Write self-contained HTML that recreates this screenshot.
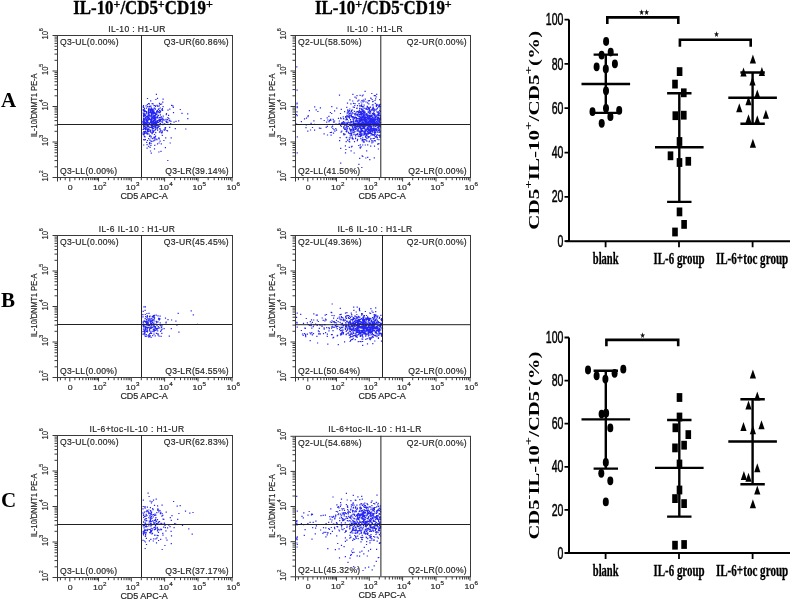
<!DOCTYPE html>
<html><head><meta charset="utf-8"><style>
html,body{margin:0;padding:0;background:#fff;}
svg{display:block;filter:blur(0.4px);}
.fp text{stroke:#262626;stroke-width:0.18px;}
</style></head><body>
<svg width="793" height="601" viewBox="0 0 793 601">
<rect width="793" height="601" fill="#fff"/>
<text x="73.3" y="13.7" font-family="Liberation Serif" font-weight="bold" font-size="18.2" fill="#000" stroke="#000" stroke-width="0.35" textLength="139.5" lengthAdjust="spacingAndGlyphs"><tspan dy="0">IL-10</tspan><tspan font-size="13" dy="-6">+</tspan><tspan dy="6">/CD5</tspan><tspan font-size="13" dy="-6">+</tspan><tspan dy="6">CD19</tspan><tspan font-size="13" dy="-6">+</tspan></text>
<text x="315" y="13.7" font-family="Liberation Serif" font-weight="bold" font-size="18.2" fill="#000" stroke="#000" stroke-width="0.35" textLength="136.7" lengthAdjust="spacingAndGlyphs"><tspan dy="0">IL-10</tspan><tspan font-size="13" dy="-6">+</tspan><tspan dy="6">/CD5</tspan><tspan font-size="13" dy="-6">-</tspan><tspan dy="6">CD19</tspan><tspan font-size="13" dy="-6">+</tspan></text>
<text x="1.00" y="106.60" font-family="Liberation Serif" font-size="21" font-weight="bold" text-anchor="start" fill="#000" >A</text>
<text x="1.00" y="306.60" font-family="Liberation Serif" font-size="21" font-weight="bold" text-anchor="start" fill="#000" >B</text>
<text x="1.00" y="506.60" font-family="Liberation Serif" font-size="21" font-weight="bold" text-anchor="start" fill="#000" >C</text>
<g class="fp">
<path d="M149.3 109.1h1.2v1.2h-1.2zM162.6 115.5h1.2v1.2h-1.2zM161.2 121.2h1.2v1.2h-1.2zM143.9 109.2h1.2v1.2h-1.2zM146.0 115.7h1.2v1.2h-1.2zM143.7 128.1h1.2v1.2h-1.2zM154.7 128.8h1.2v1.2h-1.2zM148.4 128.6h1.2v1.2h-1.2zM156.5 120.3h1.2v1.2h-1.2zM154.1 118.3h1.2v1.2h-1.2zM164.7 128.6h1.2v1.2h-1.2zM148.0 117.0h1.2v1.2h-1.2zM155.8 122.7h1.2v1.2h-1.2zM147.6 130.6h1.2v1.2h-1.2zM145.2 117.1h1.2v1.2h-1.2zM153.6 115.1h1.2v1.2h-1.2zM157.2 119.9h1.2v1.2h-1.2zM147.0 124.8h1.2v1.2h-1.2zM147.5 123.9h1.2v1.2h-1.2zM155.9 121.2h1.2v1.2h-1.2zM144.3 124.5h1.2v1.2h-1.2zM150.7 107.2h1.2v1.2h-1.2zM152.9 113.1h1.2v1.2h-1.2zM142.3 121.3h1.2v1.2h-1.2zM154.8 112.6h1.2v1.2h-1.2zM143.7 109.3h1.2v1.2h-1.2zM144.3 110.3h1.2v1.2h-1.2zM147.5 112.7h1.2v1.2h-1.2zM150.5 118.6h1.2v1.2h-1.2zM149.4 111.8h1.2v1.2h-1.2zM158.0 121.9h1.2v1.2h-1.2zM146.7 133.6h1.2v1.2h-1.2zM143.0 118.8h1.2v1.2h-1.2zM152.8 130.2h1.2v1.2h-1.2zM156.2 122.3h1.2v1.2h-1.2zM146.0 111.0h1.2v1.2h-1.2zM154.4 117.9h1.2v1.2h-1.2zM159.4 112.1h1.2v1.2h-1.2zM146.9 126.1h1.2v1.2h-1.2zM143.7 110.8h1.2v1.2h-1.2zM152.5 130.6h1.2v1.2h-1.2zM151.5 124.6h1.2v1.2h-1.2zM160.0 103.8h1.2v1.2h-1.2zM148.4 126.3h1.2v1.2h-1.2zM142.4 132.4h1.2v1.2h-1.2zM144.0 113.7h1.2v1.2h-1.2zM152.9 127.9h1.2v1.2h-1.2zM150.3 105.6h1.2v1.2h-1.2zM154.3 122.0h1.2v1.2h-1.2zM143.0 106.7h1.2v1.2h-1.2zM162.9 123.9h1.2v1.2h-1.2zM157.2 105.7h1.2v1.2h-1.2zM155.3 98.9h1.2v1.2h-1.2zM153.0 123.2h1.2v1.2h-1.2zM158.6 138.3h1.2v1.2h-1.2zM148.9 115.2h1.2v1.2h-1.2zM155.1 126.6h1.2v1.2h-1.2zM155.0 120.9h1.2v1.2h-1.2zM153.3 117.4h1.2v1.2h-1.2zM152.5 124.9h1.2v1.2h-1.2zM146.5 133.1h1.2v1.2h-1.2zM156.8 110.1h1.2v1.2h-1.2zM144.6 124.5h1.2v1.2h-1.2zM148.8 122.8h1.2v1.2h-1.2zM152.4 108.6h1.2v1.2h-1.2zM144.4 132.9h1.2v1.2h-1.2zM155.0 135.6h1.2v1.2h-1.2zM148.0 112.4h1.2v1.2h-1.2zM153.9 133.9h1.2v1.2h-1.2zM143.8 120.4h1.2v1.2h-1.2zM159.9 118.7h1.2v1.2h-1.2zM155.1 132.0h1.2v1.2h-1.2zM147.2 121.8h1.2v1.2h-1.2zM155.3 122.6h1.2v1.2h-1.2zM161.6 132.1h1.2v1.2h-1.2zM166.9 130.3h1.2v1.2h-1.2zM151.3 127.1h1.2v1.2h-1.2zM157.8 108.8h1.2v1.2h-1.2zM153.7 107.4h1.2v1.2h-1.2zM148.1 129.0h1.2v1.2h-1.2zM145.7 112.6h1.2v1.2h-1.2zM161.6 121.2h1.2v1.2h-1.2zM148.2 111.4h1.2v1.2h-1.2zM154.7 118.5h1.2v1.2h-1.2zM162.0 109.8h1.2v1.2h-1.2zM151.6 133.0h1.2v1.2h-1.2zM146.0 111.8h1.2v1.2h-1.2zM148.7 119.0h1.2v1.2h-1.2zM151.4 118.5h1.2v1.2h-1.2zM164.1 129.6h1.2v1.2h-1.2zM169.2 108.6h1.2v1.2h-1.2zM153.4 119.7h1.2v1.2h-1.2zM143.3 118.3h1.2v1.2h-1.2zM156.0 124.2h1.2v1.2h-1.2zM164.8 123.8h1.2v1.2h-1.2zM153.2 116.3h1.2v1.2h-1.2zM143.1 121.9h1.2v1.2h-1.2zM152.0 117.0h1.2v1.2h-1.2zM148.8 123.7h1.2v1.2h-1.2zM147.0 119.2h1.2v1.2h-1.2zM142.9 114.8h1.2v1.2h-1.2zM152.9 119.8h1.2v1.2h-1.2zM152.1 122.9h1.2v1.2h-1.2zM148.1 138.1h1.2v1.2h-1.2zM146.8 116.1h1.2v1.2h-1.2zM148.4 122.5h1.2v1.2h-1.2zM144.1 131.7h1.2v1.2h-1.2zM161.1 103.4h1.2v1.2h-1.2zM147.1 106.1h1.2v1.2h-1.2zM150.0 110.5h1.2v1.2h-1.2zM162.3 119.1h1.2v1.2h-1.2zM154.3 139.5h1.2v1.2h-1.2zM170.1 123.1h1.2v1.2h-1.2zM149.6 129.7h1.2v1.2h-1.2zM144.4 118.2h1.2v1.2h-1.2zM150.1 100.3h1.2v1.2h-1.2zM162.2 101.5h1.2v1.2h-1.2zM174.7 128.1h1.2v1.2h-1.2zM143.8 121.5h1.2v1.2h-1.2zM142.5 109.6h1.2v1.2h-1.2zM155.0 128.9h1.2v1.2h-1.2zM143.9 107.7h1.2v1.2h-1.2zM146.3 129.1h1.2v1.2h-1.2zM145.5 131.6h1.2v1.2h-1.2zM150.9 113.9h1.2v1.2h-1.2zM159.9 111.1h1.2v1.2h-1.2zM149.2 126.8h1.2v1.2h-1.2zM158.2 111.2h1.2v1.2h-1.2zM144.8 126.9h1.2v1.2h-1.2zM152.3 110.4h1.2v1.2h-1.2zM157.0 126.5h1.2v1.2h-1.2zM150.1 120.8h1.2v1.2h-1.2zM157.0 116.5h1.2v1.2h-1.2zM143.1 112.8h1.2v1.2h-1.2zM154.8 121.9h1.2v1.2h-1.2zM154.4 104.9h1.2v1.2h-1.2zM162.2 117.8h1.2v1.2h-1.2zM157.1 116.8h1.2v1.2h-1.2zM159.2 125.4h1.2v1.2h-1.2zM147.9 110.0h1.2v1.2h-1.2zM142.6 133.7h1.2v1.2h-1.2zM142.9 117.5h1.2v1.2h-1.2zM144.1 110.9h1.2v1.2h-1.2zM146.9 131.1h1.2v1.2h-1.2zM143.5 133.3h1.2v1.2h-1.2zM148.1 118.5h1.2v1.2h-1.2zM151.5 112.9h1.2v1.2h-1.2zM145.6 120.1h1.2v1.2h-1.2zM154.8 114.5h1.2v1.2h-1.2zM148.3 117.5h1.2v1.2h-1.2zM151.3 132.5h1.2v1.2h-1.2zM159.8 123.1h1.2v1.2h-1.2zM154.8 121.2h1.2v1.2h-1.2zM142.6 122.8h1.2v1.2h-1.2zM142.8 119.5h1.2v1.2h-1.2zM169.1 126.7h1.2v1.2h-1.2zM156.6 127.0h1.2v1.2h-1.2zM167.3 117.0h1.2v1.2h-1.2zM170.3 120.8h1.2v1.2h-1.2zM143.8 139.3h1.2v1.2h-1.2zM152.9 123.4h1.2v1.2h-1.2zM153.6 118.5h1.2v1.2h-1.2zM154.6 136.4h1.2v1.2h-1.2zM154.4 120.1h1.2v1.2h-1.2zM151.0 111.2h1.2v1.2h-1.2zM150.7 125.4h1.2v1.2h-1.2zM150.6 112.8h1.2v1.2h-1.2zM147.3 116.0h1.2v1.2h-1.2zM143.1 122.6h1.2v1.2h-1.2zM150.3 119.0h1.2v1.2h-1.2zM144.3 113.9h1.2v1.2h-1.2zM155.2 115.6h1.2v1.2h-1.2zM157.2 115.3h1.2v1.2h-1.2zM152.1 129.3h1.2v1.2h-1.2zM152.2 114.2h1.2v1.2h-1.2zM149.9 115.4h1.2v1.2h-1.2zM144.5 136.3h1.2v1.2h-1.2zM147.4 115.6h1.2v1.2h-1.2zM144.0 131.9h1.2v1.2h-1.2zM152.9 130.5h1.2v1.2h-1.2zM149.1 118.8h1.2v1.2h-1.2zM154.8 108.6h1.2v1.2h-1.2zM148.9 123.6h1.2v1.2h-1.2zM157.9 125.4h1.2v1.2h-1.2zM143.2 127.7h1.2v1.2h-1.2zM142.9 120.6h1.2v1.2h-1.2zM147.0 129.6h1.2v1.2h-1.2zM143.4 131.1h1.2v1.2h-1.2zM151.9 111.6h1.2v1.2h-1.2zM143.3 131.4h1.2v1.2h-1.2zM146.3 121.4h1.2v1.2h-1.2zM144.1 115.5h1.2v1.2h-1.2zM162.1 117.5h1.2v1.2h-1.2zM149.4 135.0h1.2v1.2h-1.2zM147.3 127.9h1.2v1.2h-1.2zM149.1 105.7h1.2v1.2h-1.2zM151.2 120.7h1.2v1.2h-1.2zM166.9 118.9h1.2v1.2h-1.2zM150.8 118.6h1.2v1.2h-1.2zM153.8 115.9h1.2v1.2h-1.2zM154.4 108.3h1.2v1.2h-1.2zM150.1 126.9h1.2v1.2h-1.2zM152.0 112.5h1.2v1.2h-1.2zM159.0 117.0h1.2v1.2h-1.2zM153.7 115.2h1.2v1.2h-1.2zM151.6 114.2h1.2v1.2h-1.2zM158.5 125.9h1.2v1.2h-1.2zM150.6 123.1h1.2v1.2h-1.2zM152.4 114.6h1.2v1.2h-1.2zM147.7 112.4h1.2v1.2h-1.2zM155.3 116.2h1.2v1.2h-1.2zM145.0 127.7h1.2v1.2h-1.2zM156.9 121.0h1.2v1.2h-1.2zM143.9 121.9h1.2v1.2h-1.2zM146.5 117.4h1.2v1.2h-1.2zM152.7 117.9h1.2v1.2h-1.2zM165.9 121.7h1.2v1.2h-1.2zM158.6 105.3h1.2v1.2h-1.2zM143.8 132.9h1.2v1.2h-1.2zM156.0 113.7h1.2v1.2h-1.2zM144.5 115.5h1.2v1.2h-1.2zM147.8 130.7h1.2v1.2h-1.2zM149.9 121.8h1.2v1.2h-1.2zM158.8 120.3h1.2v1.2h-1.2zM150.9 115.3h1.2v1.2h-1.2zM145.9 107.5h1.2v1.2h-1.2zM142.6 121.5h1.2v1.2h-1.2zM150.3 129.6h1.2v1.2h-1.2zM150.8 112.8h1.2v1.2h-1.2zM145.0 130.9h1.2v1.2h-1.2zM157.3 111.0h1.2v1.2h-1.2zM165.7 114.1h1.2v1.2h-1.2zM148.7 124.0h1.2v1.2h-1.2zM159.9 120.0h1.2v1.2h-1.2zM146.4 125.5h1.2v1.2h-1.2zM154.7 114.1h1.2v1.2h-1.2zM150.5 111.7h1.2v1.2h-1.2zM153.5 105.1h1.2v1.2h-1.2zM144.7 110.4h1.2v1.2h-1.2zM152.0 111.4h1.2v1.2h-1.2zM154.7 108.6h1.2v1.2h-1.2zM144.2 122.5h1.2v1.2h-1.2zM150.4 114.7h1.2v1.2h-1.2zM146.8 104.1h1.2v1.2h-1.2zM146.9 139.9h1.2v1.2h-1.2zM145.5 113.3h1.2v1.2h-1.2zM158.9 110.0h1.2v1.2h-1.2zM166.3 129.9h1.2v1.2h-1.2zM144.8 129.3h1.2v1.2h-1.2zM156.0 110.8h1.2v1.2h-1.2zM158.4 108.2h1.2v1.2h-1.2zM156.1 112.0h1.2v1.2h-1.2zM159.5 129.0h1.2v1.2h-1.2zM145.1 117.5h1.2v1.2h-1.2zM156.4 113.5h1.2v1.2h-1.2zM169.2 119.8h1.2v1.2h-1.2zM157.0 129.6h1.2v1.2h-1.2zM142.8 108.9h1.2v1.2h-1.2zM155.1 116.9h1.2v1.2h-1.2zM161.6 108.9h1.2v1.2h-1.2zM152.7 137.4h1.2v1.2h-1.2zM143.4 134.5h1.2v1.2h-1.2zM164.4 127.6h1.2v1.2h-1.2zM148.1 118.9h1.2v1.2h-1.2zM154.0 125.3h1.2v1.2h-1.2zM148.8 103.2h1.2v1.2h-1.2zM147.5 122.2h1.2v1.2h-1.2zM161.2 109.3h1.2v1.2h-1.2zM152.5 109.4h1.2v1.2h-1.2zM147.3 114.4h1.2v1.2h-1.2zM155.0 117.2h1.2v1.2h-1.2zM144.7 124.6h1.2v1.2h-1.2zM154.6 125.6h1.2v1.2h-1.2zM142.5 122.1h1.2v1.2h-1.2zM151.6 112.4h1.2v1.2h-1.2zM155.4 125.4h1.2v1.2h-1.2zM150.7 119.0h1.2v1.2h-1.2zM149.5 129.4h1.2v1.2h-1.2zM153.7 112.7h1.2v1.2h-1.2zM146.9 97.9h1.2v1.2h-1.2zM160.8 116.2h1.2v1.2h-1.2zM150.5 137.2h1.2v1.2h-1.2zM151.9 123.8h1.2v1.2h-1.2zM154.4 118.4h1.2v1.2h-1.2zM146.2 127.1h1.2v1.2h-1.2zM142.7 124.0h1.2v1.2h-1.2zM164.3 123.7h1.2v1.2h-1.2zM152.4 115.9h1.2v1.2h-1.2zM146.2 120.6h1.2v1.2h-1.2zM152.4 121.6h1.2v1.2h-1.2zM144.2 114.9h1.2v1.2h-1.2zM151.8 111.1h1.2v1.2h-1.2zM142.3 121.1h1.2v1.2h-1.2zM151.8 127.7h1.2v1.2h-1.2zM151.4 125.2h1.2v1.2h-1.2zM162.3 124.0h1.2v1.2h-1.2zM143.9 124.0h1.2v1.2h-1.2zM151.4 140.7h1.2v1.2h-1.2zM146.8 122.1h1.2v1.2h-1.2zM145.3 128.3h1.2v1.2h-1.2zM150.5 135.7h1.2v1.2h-1.2zM147.1 120.4h1.2v1.2h-1.2zM153.0 122.1h1.2v1.2h-1.2zM185.2 128.4h1.2v1.2h-1.2zM148.4 133.5h1.2v1.2h-1.2zM152.4 122.5h1.2v1.2h-1.2zM145.9 122.9h1.2v1.2h-1.2zM150.9 120.7h1.2v1.2h-1.2zM153.7 110.4h1.2v1.2h-1.2zM147.1 128.9h1.2v1.2h-1.2zM153.6 118.0h1.2v1.2h-1.2zM148.6 106.2h1.2v1.2h-1.2zM165.4 118.8h1.2v1.2h-1.2zM142.6 106.2h1.2v1.2h-1.2zM150.7 112.0h1.2v1.2h-1.2zM178.1 120.2h1.2v1.2h-1.2zM143.3 112.7h1.2v1.2h-1.2zM144.6 128.6h1.2v1.2h-1.2zM148.6 108.3h1.2v1.2h-1.2zM148.6 122.2h1.2v1.2h-1.2zM157.4 124.5h1.2v1.2h-1.2zM150.3 131.7h1.2v1.2h-1.2zM143.2 127.4h1.2v1.2h-1.2zM151.1 121.9h1.2v1.2h-1.2zM175.4 120.7h1.2v1.2h-1.2zM161.7 119.6h1.2v1.2h-1.2zM163.4 129.2h1.2v1.2h-1.2zM147.6 114.8h1.2v1.2h-1.2zM144.4 124.2h1.2v1.2h-1.2zM155.2 119.3h1.2v1.2h-1.2zM147.3 122.0h1.2v1.2h-1.2zM168.3 118.0h1.2v1.2h-1.2zM158.3 137.2h1.2v1.2h-1.2zM157.9 114.8h1.2v1.2h-1.2zM150.9 122.1h1.2v1.2h-1.2zM148.6 122.3h1.2v1.2h-1.2zM152.4 125.0h1.2v1.2h-1.2zM162.0 123.7h1.2v1.2h-1.2zM154.3 123.5h1.2v1.2h-1.2zM145.5 127.9h1.2v1.2h-1.2zM161.8 108.1h1.2v1.2h-1.2zM150.9 120.2h1.2v1.2h-1.2zM148.2 110.2h1.2v1.2h-1.2zM143.5 122.0h1.2v1.2h-1.2zM143.3 110.6h1.2v1.2h-1.2zM142.6 112.4h1.2v1.2h-1.2zM163.5 119.6h1.2v1.2h-1.2zM159.2 131.3h1.2v1.2h-1.2zM154.7 124.7h1.2v1.2h-1.2zM146.9 122.5h1.2v1.2h-1.2zM159.5 131.3h1.2v1.2h-1.2zM153.4 112.5h1.2v1.2h-1.2zM152.7 103.4h1.2v1.2h-1.2zM160.3 116.7h1.2v1.2h-1.2zM146.7 117.9h1.2v1.2h-1.2zM154.3 130.0h1.2v1.2h-1.2zM165.1 137.2h1.2v1.2h-1.2zM167.4 109.5h1.2v1.2h-1.2zM163.3 139.9h1.2v1.2h-1.2zM147.2 132.6h1.2v1.2h-1.2zM157.6 126.8h1.2v1.2h-1.2zM154.7 123.1h1.2v1.2h-1.2zM149.3 139.5h1.2v1.2h-1.2zM158.6 120.8h1.2v1.2h-1.2zM147.7 116.3h1.2v1.2h-1.2zM151.2 121.2h1.2v1.2h-1.2zM150.6 109.2h1.2v1.2h-1.2zM153.5 123.9h1.2v1.2h-1.2zM144.6 119.2h1.2v1.2h-1.2zM152.5 122.8h1.2v1.2h-1.2zM153.6 123.0h1.2v1.2h-1.2zM147.8 111.6h1.2v1.2h-1.2zM152.2 130.6h1.2v1.2h-1.2zM148.9 112.0h1.2v1.2h-1.2zM156.6 127.2h1.2v1.2h-1.2zM154.0 107.4h1.2v1.2h-1.2zM143.5 123.1h1.2v1.2h-1.2zM143.1 113.6h1.2v1.2h-1.2zM166.4 120.5h1.2v1.2h-1.2zM148.0 114.9h1.2v1.2h-1.2zM158.9 102.7h1.2v1.2h-1.2zM152.9 111.2h1.2v1.2h-1.2zM143.4 120.7h1.2v1.2h-1.2zM143.1 125.1h1.2v1.2h-1.2zM150.2 108.4h1.2v1.2h-1.2zM151.6 103.1h1.2v1.2h-1.2zM155.1 113.1h1.2v1.2h-1.2zM148.3 118.4h1.2v1.2h-1.2zM143.1 115.1h1.2v1.2h-1.2zM148.1 113.6h1.2v1.2h-1.2zM165.0 126.9h1.2v1.2h-1.2zM159.2 127.9h1.2v1.2h-1.2zM153.4 126.1h1.2v1.2h-1.2zM143.6 112.6h1.2v1.2h-1.2zM153.3 120.7h1.2v1.2h-1.2zM144.1 118.6h1.2v1.2h-1.2zM152.6 108.7h1.2v1.2h-1.2zM164.6 127.2h1.2v1.2h-1.2zM152.5 120.8h1.2v1.2h-1.2zM153.3 116.2h1.2v1.2h-1.2zM152.7 131.5h1.2v1.2h-1.2zM143.1 126.2h1.2v1.2h-1.2zM154.4 127.0h1.2v1.2h-1.2zM146.9 129.7h1.2v1.2h-1.2zM143.7 125.9h1.2v1.2h-1.2zM148.6 110.0h1.2v1.2h-1.2zM146.7 117.0h1.2v1.2h-1.2zM156.5 128.1h1.2v1.2h-1.2zM148.6 114.0h1.2v1.2h-1.2zM143.7 120.4h1.2v1.2h-1.2zM163.6 123.3h1.2v1.2h-1.2zM158.9 131.6h1.2v1.2h-1.2zM161.7 130.5h1.2v1.2h-1.2zM155.1 127.3h1.2v1.2h-1.2zM147.9 118.6h1.2v1.2h-1.2zM144.8 127.4h1.2v1.2h-1.2zM146.2 124.3h1.2v1.2h-1.2zM158.5 118.8h1.2v1.2h-1.2zM150.1 131.0h1.2v1.2h-1.2zM150.4 124.1h1.2v1.2h-1.2zM148.6 114.1h1.2v1.2h-1.2zM149.8 130.2h1.2v1.2h-1.2zM150.7 118.1h1.2v1.2h-1.2zM147.6 124.9h1.2v1.2h-1.2zM148.2 107.9h1.2v1.2h-1.2zM150.2 119.9h1.2v1.2h-1.2zM148.2 112.5h1.2v1.2h-1.2zM152.2 112.3h1.2v1.2h-1.2zM156.5 104.8h1.2v1.2h-1.2zM170.6 137.2h1.2v1.2h-1.2zM150.4 118.9h1.2v1.2h-1.2zM167.2 122.0h1.2v1.2h-1.2zM142.5 128.9h1.2v1.2h-1.2zM144.1 119.1h1.2v1.2h-1.2zM147.2 124.2h1.2v1.2h-1.2zM150.1 109.2h1.2v1.2h-1.2zM162.0 121.6h1.2v1.2h-1.2zM153.9 116.8h1.2v1.2h-1.2zM143.1 124.1h1.2v1.2h-1.2zM146.2 121.5h1.2v1.2h-1.2zM150.8 109.0h1.2v1.2h-1.2zM145.5 105.3h1.2v1.2h-1.2zM158.4 112.0h1.2v1.2h-1.2zM152.8 126.0h1.2v1.2h-1.2zM144.6 123.5h1.2v1.2h-1.2zM150.5 123.3h1.2v1.2h-1.2zM159.5 103.9h1.2v1.2h-1.2zM162.5 98.5h1.2v1.2h-1.2zM144.4 115.1h1.2v1.2h-1.2zM143.0 117.4h1.2v1.2h-1.2zM153.5 115.2h1.2v1.2h-1.2zM145.4 122.9h1.2v1.2h-1.2zM145.9 118.7h1.2v1.2h-1.2zM159.8 110.6h1.2v1.2h-1.2zM165.9 113.0h1.2v1.2h-1.2zM151.7 121.2h1.2v1.2h-1.2zM147.1 120.6h1.2v1.2h-1.2zM154.7 119.4h1.2v1.2h-1.2zM154.5 138.2h1.2v1.2h-1.2zM148.8 117.9h1.2v1.2h-1.2zM146.2 121.0h1.2v1.2h-1.2zM172.9 112.1h1.2v1.2h-1.2zM156.2 117.2h1.2v1.2h-1.2zM150.4 124.2h1.2v1.2h-1.2zM147.1 124.6h1.2v1.2h-1.2zM160.7 118.8h1.2v1.2h-1.2zM156.1 123.2h1.2v1.2h-1.2zM165.3 120.5h1.2v1.2h-1.2zM142.9 105.0h1.2v1.2h-1.2zM155.8 93.8h1.2v1.2h-1.2zM156.2 138.5h1.2v1.2h-1.2zM151.1 126.6h1.2v1.2h-1.2zM158.4 119.5h1.2v1.2h-1.2zM162.5 106.1h1.2v1.2h-1.2zM151.3 109.8h1.2v1.2h-1.2zM148.4 130.8h1.2v1.2h-1.2zM156.9 97.7h1.2v1.2h-1.2zM151.0 117.4h1.2v1.2h-1.2zM149.9 126.9h1.2v1.2h-1.2zM159.5 121.1h1.2v1.2h-1.2zM148.0 126.0h1.2v1.2h-1.2zM158.9 119.0h1.2v1.2h-1.2zM144.8 139.1h1.2v1.2h-1.2zM156.4 111.8h1.2v1.2h-1.2zM147.9 109.1h1.2v1.2h-1.2zM145.3 122.2h1.2v1.2h-1.2zM152.2 131.4h1.2v1.2h-1.2zM147.3 119.6h1.2v1.2h-1.2zM159.5 128.4h1.2v1.2h-1.2zM143.0 115.8h1.2v1.2h-1.2zM152.6 110.5h1.2v1.2h-1.2zM143.1 131.2h1.2v1.2h-1.2zM145.8 132.5h1.2v1.2h-1.2zM160.9 132.3h1.2v1.2h-1.2zM151.2 116.5h1.2v1.2h-1.2zM145.0 110.8h1.2v1.2h-1.2zM148.1 110.6h1.2v1.2h-1.2zM160.6 118.2h1.2v1.2h-1.2zM156.3 124.7h1.2v1.2h-1.2zM145.7 124.1h1.2v1.2h-1.2zM151.4 108.5h1.2v1.2h-1.2zM145.9 121.6h1.2v1.2h-1.2zM145.7 120.1h1.2v1.2h-1.2zM143.9 120.7h1.2v1.2h-1.2zM152.5 119.8h1.2v1.2h-1.2zM152.0 118.4h1.2v1.2h-1.2zM143.1 124.7h1.2v1.2h-1.2zM156.4 121.0h1.2v1.2h-1.2zM156.8 121.8h1.2v1.2h-1.2zM150.7 114.5h1.2v1.2h-1.2zM159.4 123.2h1.2v1.2h-1.2zM146.1 119.0h1.2v1.2h-1.2zM147.9 103.1h1.2v1.2h-1.2zM153.7 123.9h1.2v1.2h-1.2zM148.7 117.9h1.2v1.2h-1.2zM156.9 127.4h1.2v1.2h-1.2zM148.1 118.7h1.2v1.2h-1.2zM163.3 119.2h1.2v1.2h-1.2zM143.4 121.7h1.2v1.2h-1.2zM147.4 119.9h1.2v1.2h-1.2zM149.4 116.4h1.2v1.2h-1.2zM155.0 105.7h1.2v1.2h-1.2zM161.7 134.7h1.2v1.2h-1.2zM159.7 107.4h1.2v1.2h-1.2zM157.3 117.3h1.2v1.2h-1.2zM151.2 125.2h1.2v1.2h-1.2zM143.4 123.0h1.2v1.2h-1.2zM144.4 124.5h1.2v1.2h-1.2zM144.9 126.2h1.2v1.2h-1.2zM160.2 130.1h1.2v1.2h-1.2zM150.8 122.4h1.2v1.2h-1.2zM148.8 143.3h1.2v1.2h-1.2zM153.9 111.9h1.2v1.2h-1.2zM145.1 121.8h1.2v1.2h-1.2zM144.7 117.1h1.2v1.2h-1.2zM144.4 115.6h1.2v1.2h-1.2zM154.0 122.3h1.2v1.2h-1.2zM152.4 131.7h1.2v1.2h-1.2zM154.8 114.3h1.2v1.2h-1.2zM159.8 114.3h1.2v1.2h-1.2zM158.5 142.4h1.2v1.2h-1.2zM156.9 143.2h1.2v1.2h-1.2zM169.6 142.4h1.2v1.2h-1.2zM161.3 131.7h1.2v1.2h-1.2zM154.1 137.4h1.2v1.2h-1.2zM149.0 142.1h1.2v1.2h-1.2zM153.9 148.3h1.2v1.2h-1.2zM150.4 140.5h1.2v1.2h-1.2zM144.9 115.0h1.2v1.2h-1.2zM152.1 138.1h1.2v1.2h-1.2zM150.4 142.8h1.2v1.2h-1.2zM149.9 150.4h1.2v1.2h-1.2zM148.1 145.7h1.2v1.2h-1.2zM167.2 159.9h1.2v1.2h-1.2zM158.3 151.4h1.2v1.2h-1.2zM160.4 150.8h1.2v1.2h-1.2zM146.5 147.5h1.2v1.2h-1.2zM142.8 128.9h1.2v1.2h-1.2zM149.5 146.8h1.2v1.2h-1.2zM154.2 144.8h1.2v1.2h-1.2zM148.9 135.8h1.2v1.2h-1.2zM150.3 144.7h1.2v1.2h-1.2zM160.7 143.3h1.2v1.2h-1.2zM154.7 136.3h1.2v1.2h-1.2zM143.1 139.0h1.2v1.2h-1.2zM148.1 137.9h1.2v1.2h-1.2zM146.1 141.8h1.2v1.2h-1.2zM153.6 136.6h1.2v1.2h-1.2zM143.1 144.4h1.2v1.2h-1.2zM150.4 124.7h1.2v1.2h-1.2zM158.2 137.7h1.2v1.2h-1.2zM152.3 126.5h1.2v1.2h-1.2zM143.8 136.1h1.2v1.2h-1.2zM146.5 144.1h1.2v1.2h-1.2zM153.1 140.2h1.2v1.2h-1.2zM156.3 139.1h1.2v1.2h-1.2zM159.5 140.6h1.2v1.2h-1.2zM150.7 152.6h1.2v1.2h-1.2zM144.5 131.1h1.2v1.2h-1.2zM164.8 147.1h1.2v1.2h-1.2zM179.7 108.9h1.2v1.2h-1.2zM172.3 105.2h1.2v1.2h-1.2zM187.2 118.0h1.2v1.2h-1.2zM171.0 104.7h1.2v1.2h-1.2zM168.6 120.2h1.2v1.2h-1.2zM172.7 106.8h1.2v1.2h-1.2zM173.5 121.6h1.2v1.2h-1.2zM187.1 113.2h1.2v1.2h-1.2zM181.4 112.7h1.2v1.2h-1.2zM168.0 114.8h1.2v1.2h-1.2z" fill="#0000f0" fill-opacity="0.85"/>
<rect x="57.5" y="35.5" width="175" height="142" fill="none" stroke="#3a3a3a" stroke-width="1"/>
<path d="M141.5 35 V177 M57 124.5 H232" stroke="#222" stroke-width="1" fill="none"/>
<path d="M52.5 177.5H57M54.5 166.8H57M54.5 160.6H57M54.5 156.1H57M54.5 152.7H57M54.5 149.9H57M54.5 147.5H57M54.5 145.4H57M54.5 143.6H57M52.5 142.0H57M54.5 131.3H57M54.5 125.1H57M54.5 120.6H57M54.5 117.2H57M54.5 114.4H57M54.5 112.0H57M54.5 109.9H57M54.5 108.1H57M52.5 106.5H57M54.5 95.8H57M54.5 89.6H57M54.5 85.1H57M54.5 81.7H57M54.5 78.9H57M54.5 76.5H57M54.5 74.4H57M54.5 72.6H57M52.5 71.0H57M54.5 60.3H57M54.5 54.1H57M54.5 49.6H57M54.5 46.2H57M54.5 43.4H57M54.5 41.0H57M54.5 38.9H57M54.5 37.1H57M52.5 35.5H57M57.5 177.5V181.5M69.8 177.5V181.5M98.5 177.5V181.5M131.3 177.5V181.5M164.6 177.5V181.5M198.0 177.5V181.5M232.0 177.5V181.5M60.4 177.5V180.2M65.2 177.5V180.2M74.9 177.5V180.2M79.4 177.5V180.2M82.8 177.5V180.2M86.0 177.5V180.2M88.5 177.5V180.2M90.8 177.5V180.2M92.8 177.5V180.2M94.5 177.5V180.2M95.9 177.5V180.2M97.3 177.5V180.2M108.4 177.5V180.2M114.1 177.5V180.2M118.2 177.5V180.2M121.4 177.5V180.2M124.0 177.5V180.2M126.2 177.5V180.2M128.1 177.5V180.2M129.8 177.5V180.2M141.3 177.5V180.2M147.2 177.5V180.2M151.3 177.5V180.2M154.6 177.5V180.2M157.2 177.5V180.2M159.4 177.5V180.2M161.4 177.5V180.2M163.1 177.5V180.2M174.7 177.5V180.2M180.5 177.5V180.2M184.7 177.5V180.2M187.9 177.5V180.2M190.6 177.5V180.2M192.8 177.5V180.2M194.8 177.5V180.2M196.5 177.5V180.2M208.2 177.5V180.2M214.2 177.5V180.2M218.5 177.5V180.2M221.8 177.5V180.2M224.5 177.5V180.2M226.7 177.5V180.2M228.7 177.5V180.2M230.4 177.5V180.2" stroke="#3a3a3a" stroke-width="1" fill="none"/>
<text transform="translate(48.40,177.30) rotate(-90) scale(0.85,1)" font-family="Liberation Sans" fill="#262626" font-size="9" text-anchor="middle">10</text>
<text transform="translate(43.40,173.20) rotate(-90) scale(0.85,1)" font-family="Liberation Sans" fill="#262626" font-size="6.2" text-anchor="start">2</text>
<text transform="translate(48.40,141.80) rotate(-90) scale(0.85,1)" font-family="Liberation Sans" fill="#262626" font-size="9" text-anchor="middle">10</text>
<text transform="translate(43.40,137.70) rotate(-90) scale(0.85,1)" font-family="Liberation Sans" fill="#262626" font-size="6.2" text-anchor="start">3</text>
<text transform="translate(48.40,106.30) rotate(-90) scale(0.85,1)" font-family="Liberation Sans" fill="#262626" font-size="9" text-anchor="middle">10</text>
<text transform="translate(43.40,102.20) rotate(-90) scale(0.85,1)" font-family="Liberation Sans" fill="#262626" font-size="6.2" text-anchor="start">4</text>
<text transform="translate(48.40,70.80) rotate(-90) scale(0.85,1)" font-family="Liberation Sans" fill="#262626" font-size="9" text-anchor="middle">10</text>
<text transform="translate(43.40,66.70) rotate(-90) scale(0.85,1)" font-family="Liberation Sans" fill="#262626" font-size="6.2" text-anchor="start">5</text>
<text transform="translate(48.40,35.30) rotate(-90) scale(0.85,1)" font-family="Liberation Sans" fill="#262626" font-size="9" text-anchor="middle">10</text>
<text transform="translate(43.40,31.20) rotate(-90) scale(0.85,1)" font-family="Liberation Sans" fill="#262626" font-size="6.2" text-anchor="start">6</text>
<text transform="translate(70.20,189.70) scale(1.1,1)" font-family="Liberation Sans" fill="#262626" font-size="8" text-anchor="middle">0</text>
<text transform="translate(97.90,189.70) scale(1.1,1)" font-family="Liberation Sans" fill="#262626" font-size="8" text-anchor="middle">10</text>
<text transform="translate(103.10,186.00) scale(1.1,1)" font-family="Liberation Sans" fill="#262626" font-size="5.7" text-anchor="start">2</text>
<text transform="translate(130.70,189.70) scale(1.1,1)" font-family="Liberation Sans" fill="#262626" font-size="8" text-anchor="middle">10</text>
<text transform="translate(135.90,186.00) scale(1.1,1)" font-family="Liberation Sans" fill="#262626" font-size="5.7" text-anchor="start">3</text>
<text transform="translate(164.00,189.70) scale(1.1,1)" font-family="Liberation Sans" fill="#262626" font-size="8" text-anchor="middle">10</text>
<text transform="translate(169.20,186.00) scale(1.1,1)" font-family="Liberation Sans" fill="#262626" font-size="5.7" text-anchor="start">4</text>
<text transform="translate(197.40,189.70) scale(1.1,1)" font-family="Liberation Sans" fill="#262626" font-size="8" text-anchor="middle">10</text>
<text transform="translate(202.60,186.00) scale(1.1,1)" font-family="Liberation Sans" fill="#262626" font-size="5.7" text-anchor="start">5</text>
<text transform="translate(231.40,189.70) scale(1.1,1)" font-family="Liberation Sans" fill="#262626" font-size="8" text-anchor="middle">10</text>
<text transform="translate(236.60,186.00) scale(1.1,1)" font-family="Liberation Sans" fill="#262626" font-size="5.7" text-anchor="start">6</text>
<text x="144.10" y="198.80" font-family="Liberation Sans" font-size="8.6" font-weight="normal" text-anchor="middle" fill="#262626" textLength="47.4" lengthAdjust="spacingAndGlyphs" >CD5 APC-A</text>
<text transform="translate(36.60,105.30) rotate(-90)" font-family="Liberation Sans" font-size="8.4" font-weight="normal" text-anchor="middle" fill="#262626" textLength="63.5" lengthAdjust="spacingAndGlyphs" >IL-10/DNMT1 PE-A</text>
<text x="137.00" y="31.60" font-family="Liberation Sans" font-size="8.5" font-weight="normal" text-anchor="middle" fill="#262626" letter-spacing="0.4">IL-10 : H1-UR</text>
<text x="60.10" y="44.90" font-family="Liberation Sans" font-size="8.6" font-weight="normal" text-anchor="start" fill="#262626" letter-spacing="0.28">Q3-UL(0.00%)</text>
<text x="229.00" y="44.90" font-family="Liberation Sans" font-size="8.6" font-weight="normal" text-anchor="end" fill="#262626" letter-spacing="0.28">Q3-UR(60.86%)</text>
<text x="60.10" y="173.50" font-family="Liberation Sans" font-size="8.6" font-weight="normal" text-anchor="start" fill="#262626" letter-spacing="0.28">Q3-LL(0.00%)</text>
<text x="229.00" y="173.50" font-family="Liberation Sans" font-size="8.6" font-weight="normal" text-anchor="end" fill="#262626" letter-spacing="0.28">Q3-LR(39.14%)</text>
<path d="M375.8 105.8h1.2v1.2h-1.2zM378.2 134.8h1.2v1.2h-1.2zM374.2 117.2h1.2v1.2h-1.2zM360.8 125.6h1.2v1.2h-1.2zM350.0 120.5h1.2v1.2h-1.2zM332.9 132.5h1.2v1.2h-1.2zM360.4 132.6h1.2v1.2h-1.2zM374.1 132.7h1.2v1.2h-1.2zM369.5 128.9h1.2v1.2h-1.2zM366.4 106.6h1.2v1.2h-1.2zM360.8 105.9h1.2v1.2h-1.2zM357.3 123.9h1.2v1.2h-1.2zM361.6 112.9h1.2v1.2h-1.2zM369.7 126.5h1.2v1.2h-1.2zM343.8 123.6h1.2v1.2h-1.2zM373.7 108.5h1.2v1.2h-1.2zM347.5 112.1h1.2v1.2h-1.2zM363.1 111.1h1.2v1.2h-1.2zM357.4 113.5h1.2v1.2h-1.2zM360.6 120.0h1.2v1.2h-1.2zM352.4 128.5h1.2v1.2h-1.2zM351.1 134.8h1.2v1.2h-1.2zM362.2 112.7h1.2v1.2h-1.2zM351.9 116.6h1.2v1.2h-1.2zM365.5 136.9h1.2v1.2h-1.2zM359.9 130.6h1.2v1.2h-1.2zM357.1 124.2h1.2v1.2h-1.2zM358.3 99.5h1.2v1.2h-1.2zM352.1 112.3h1.2v1.2h-1.2zM335.4 123.5h1.2v1.2h-1.2zM361.8 116.3h1.2v1.2h-1.2zM368.6 141.1h1.2v1.2h-1.2zM346.9 122.8h1.2v1.2h-1.2zM365.0 124.7h1.2v1.2h-1.2zM350.4 111.4h1.2v1.2h-1.2zM364.5 112.0h1.2v1.2h-1.2zM369.2 115.6h1.2v1.2h-1.2zM370.7 116.0h1.2v1.2h-1.2zM370.1 119.7h1.2v1.2h-1.2zM356.5 125.6h1.2v1.2h-1.2zM375.5 124.2h1.2v1.2h-1.2zM359.5 131.6h1.2v1.2h-1.2zM369.1 109.0h1.2v1.2h-1.2zM373.4 124.0h1.2v1.2h-1.2zM361.3 124.3h1.2v1.2h-1.2zM349.5 137.2h1.2v1.2h-1.2zM372.3 119.9h1.2v1.2h-1.2zM351.5 125.1h1.2v1.2h-1.2zM354.2 114.1h1.2v1.2h-1.2zM351.7 126.0h1.2v1.2h-1.2zM375.0 125.8h1.2v1.2h-1.2zM362.9 115.9h1.2v1.2h-1.2zM337.9 117.8h1.2v1.2h-1.2zM373.7 121.7h1.2v1.2h-1.2zM370.3 127.5h1.2v1.2h-1.2zM373.5 110.9h1.2v1.2h-1.2zM358.1 130.5h1.2v1.2h-1.2zM365.8 118.8h1.2v1.2h-1.2zM371.0 140.2h1.2v1.2h-1.2zM375.6 136.0h1.2v1.2h-1.2zM365.3 118.1h1.2v1.2h-1.2zM351.7 116.0h1.2v1.2h-1.2zM373.9 145.6h1.2v1.2h-1.2zM372.3 128.0h1.2v1.2h-1.2zM348.9 127.4h1.2v1.2h-1.2zM360.5 117.9h1.2v1.2h-1.2zM368.1 120.7h1.2v1.2h-1.2zM364.8 129.7h1.2v1.2h-1.2zM371.2 127.9h1.2v1.2h-1.2zM374.4 114.0h1.2v1.2h-1.2zM371.4 133.9h1.2v1.2h-1.2zM363.5 124.9h1.2v1.2h-1.2zM348.7 112.8h1.2v1.2h-1.2zM372.3 131.5h1.2v1.2h-1.2zM378.3 120.3h1.2v1.2h-1.2zM371.4 129.5h1.2v1.2h-1.2zM364.5 116.7h1.2v1.2h-1.2zM364.4 125.5h1.2v1.2h-1.2zM377.8 106.4h1.2v1.2h-1.2zM377.9 125.6h1.2v1.2h-1.2zM368.9 107.4h1.2v1.2h-1.2zM373.4 123.5h1.2v1.2h-1.2zM355.7 97.6h1.2v1.2h-1.2zM371.9 121.4h1.2v1.2h-1.2zM354.9 128.9h1.2v1.2h-1.2zM363.1 126.6h1.2v1.2h-1.2zM363.4 133.5h1.2v1.2h-1.2zM359.2 111.7h1.2v1.2h-1.2zM339.5 137.0h1.2v1.2h-1.2zM354.9 137.4h1.2v1.2h-1.2zM368.8 110.5h1.2v1.2h-1.2zM364.1 114.3h1.2v1.2h-1.2zM360.1 116.5h1.2v1.2h-1.2zM370.0 121.8h1.2v1.2h-1.2zM373.1 123.8h1.2v1.2h-1.2zM375.0 98.3h1.2v1.2h-1.2zM355.1 127.7h1.2v1.2h-1.2zM365.1 119.5h1.2v1.2h-1.2zM360.8 112.2h1.2v1.2h-1.2zM354.3 131.1h1.2v1.2h-1.2zM346.8 118.7h1.2v1.2h-1.2zM363.6 132.9h1.2v1.2h-1.2zM354.3 127.1h1.2v1.2h-1.2zM369.4 118.9h1.2v1.2h-1.2zM363.6 133.2h1.2v1.2h-1.2zM362.1 129.7h1.2v1.2h-1.2zM360.0 117.1h1.2v1.2h-1.2zM372.7 106.5h1.2v1.2h-1.2zM353.5 116.7h1.2v1.2h-1.2zM362.9 127.9h1.2v1.2h-1.2zM355.6 119.7h1.2v1.2h-1.2zM363.3 138.9h1.2v1.2h-1.2zM364.4 124.5h1.2v1.2h-1.2zM378.0 123.8h1.2v1.2h-1.2zM347.8 125.8h1.2v1.2h-1.2zM364.5 113.5h1.2v1.2h-1.2zM375.8 120.8h1.2v1.2h-1.2zM358.7 115.6h1.2v1.2h-1.2zM362.7 99.5h1.2v1.2h-1.2zM354.2 104.9h1.2v1.2h-1.2zM333.4 129.0h1.2v1.2h-1.2zM363.5 117.7h1.2v1.2h-1.2zM378.9 120.8h1.2v1.2h-1.2zM359.2 107.8h1.2v1.2h-1.2zM342.6 116.3h1.2v1.2h-1.2zM368.0 129.4h1.2v1.2h-1.2zM365.7 122.9h1.2v1.2h-1.2zM376.8 117.0h1.2v1.2h-1.2zM375.7 136.6h1.2v1.2h-1.2zM361.6 121.4h1.2v1.2h-1.2zM369.6 118.6h1.2v1.2h-1.2zM343.2 132.9h1.2v1.2h-1.2zM378.2 105.3h1.2v1.2h-1.2zM367.0 127.2h1.2v1.2h-1.2zM377.8 111.3h1.2v1.2h-1.2zM377.5 114.4h1.2v1.2h-1.2zM361.3 115.4h1.2v1.2h-1.2zM363.0 123.2h1.2v1.2h-1.2zM354.3 123.0h1.2v1.2h-1.2zM340.0 124.9h1.2v1.2h-1.2zM363.2 123.9h1.2v1.2h-1.2zM366.6 135.4h1.2v1.2h-1.2zM351.8 138.1h1.2v1.2h-1.2zM373.3 128.7h1.2v1.2h-1.2zM366.0 129.2h1.2v1.2h-1.2zM370.2 118.4h1.2v1.2h-1.2zM355.6 111.4h1.2v1.2h-1.2zM343.6 127.6h1.2v1.2h-1.2zM374.1 122.3h1.2v1.2h-1.2zM372.1 130.2h1.2v1.2h-1.2zM363.5 104.5h1.2v1.2h-1.2zM359.7 147.6h1.2v1.2h-1.2zM361.5 109.8h1.2v1.2h-1.2zM363.2 122.3h1.2v1.2h-1.2zM358.7 131.4h1.2v1.2h-1.2zM340.7 108.7h1.2v1.2h-1.2zM374.2 116.7h1.2v1.2h-1.2zM346.9 102.6h1.2v1.2h-1.2zM360.8 108.3h1.2v1.2h-1.2zM361.1 103.4h1.2v1.2h-1.2zM367.9 123.0h1.2v1.2h-1.2zM345.4 124.8h1.2v1.2h-1.2zM379.3 118.9h1.2v1.2h-1.2zM372.7 134.1h1.2v1.2h-1.2zM374.1 135.3h1.2v1.2h-1.2zM380.0 121.9h1.2v1.2h-1.2zM355.3 119.9h1.2v1.2h-1.2zM327.2 119.4h1.2v1.2h-1.2zM368.8 117.6h1.2v1.2h-1.2zM379.4 134.5h1.2v1.2h-1.2zM378.8 124.3h1.2v1.2h-1.2zM358.5 118.8h1.2v1.2h-1.2zM363.8 119.8h1.2v1.2h-1.2zM368.3 127.2h1.2v1.2h-1.2zM343.2 118.2h1.2v1.2h-1.2zM356.9 125.0h1.2v1.2h-1.2zM357.3 121.7h1.2v1.2h-1.2zM376.1 135.0h1.2v1.2h-1.2zM357.1 133.1h1.2v1.2h-1.2zM376.2 108.4h1.2v1.2h-1.2zM365.1 120.5h1.2v1.2h-1.2zM344.8 128.8h1.2v1.2h-1.2zM368.4 117.7h1.2v1.2h-1.2zM353.3 129.8h1.2v1.2h-1.2zM372.4 125.2h1.2v1.2h-1.2zM374.5 127.7h1.2v1.2h-1.2zM358.6 121.4h1.2v1.2h-1.2zM350.2 124.9h1.2v1.2h-1.2zM377.5 127.0h1.2v1.2h-1.2zM365.8 108.0h1.2v1.2h-1.2zM350.3 113.3h1.2v1.2h-1.2zM352.0 112.3h1.2v1.2h-1.2zM360.3 138.1h1.2v1.2h-1.2zM376.6 124.9h1.2v1.2h-1.2zM361.6 125.6h1.2v1.2h-1.2zM372.9 123.7h1.2v1.2h-1.2zM375.2 117.1h1.2v1.2h-1.2zM379.8 114.9h1.2v1.2h-1.2zM377.7 130.1h1.2v1.2h-1.2zM379.8 118.5h1.2v1.2h-1.2zM345.7 137.1h1.2v1.2h-1.2zM379.7 123.9h1.2v1.2h-1.2zM368.9 122.9h1.2v1.2h-1.2zM363.5 119.9h1.2v1.2h-1.2zM352.0 121.3h1.2v1.2h-1.2zM345.9 122.4h1.2v1.2h-1.2zM351.7 136.6h1.2v1.2h-1.2zM364.7 144.4h1.2v1.2h-1.2zM350.9 111.0h1.2v1.2h-1.2zM355.2 124.5h1.2v1.2h-1.2zM357.6 128.8h1.2v1.2h-1.2zM373.0 113.4h1.2v1.2h-1.2zM361.5 116.0h1.2v1.2h-1.2zM363.2 117.7h1.2v1.2h-1.2zM379.1 99.1h1.2v1.2h-1.2zM361.1 128.3h1.2v1.2h-1.2zM372.2 121.6h1.2v1.2h-1.2zM352.3 121.2h1.2v1.2h-1.2zM368.9 122.9h1.2v1.2h-1.2zM366.4 124.5h1.2v1.2h-1.2zM367.1 144.2h1.2v1.2h-1.2zM359.4 123.8h1.2v1.2h-1.2zM352.6 130.0h1.2v1.2h-1.2zM361.4 117.1h1.2v1.2h-1.2zM359.4 125.5h1.2v1.2h-1.2zM377.4 119.1h1.2v1.2h-1.2zM375.9 120.7h1.2v1.2h-1.2zM350.6 113.5h1.2v1.2h-1.2zM372.5 114.3h1.2v1.2h-1.2zM359.2 126.4h1.2v1.2h-1.2zM370.5 129.2h1.2v1.2h-1.2zM359.2 126.5h1.2v1.2h-1.2zM347.3 115.7h1.2v1.2h-1.2zM377.2 125.1h1.2v1.2h-1.2zM370.4 97.9h1.2v1.2h-1.2zM350.3 131.1h1.2v1.2h-1.2zM342.3 121.8h1.2v1.2h-1.2zM358.6 124.7h1.2v1.2h-1.2zM350.8 133.2h1.2v1.2h-1.2zM360.6 118.1h1.2v1.2h-1.2zM372.4 131.3h1.2v1.2h-1.2zM377.4 118.0h1.2v1.2h-1.2zM360.7 127.4h1.2v1.2h-1.2zM378.5 118.3h1.2v1.2h-1.2zM379.0 125.1h1.2v1.2h-1.2zM359.8 136.0h1.2v1.2h-1.2zM345.0 116.0h1.2v1.2h-1.2zM375.2 116.4h1.2v1.2h-1.2zM372.3 119.1h1.2v1.2h-1.2zM366.7 125.1h1.2v1.2h-1.2zM377.8 148.4h1.2v1.2h-1.2zM374.4 116.7h1.2v1.2h-1.2zM374.7 102.8h1.2v1.2h-1.2zM352.5 116.0h1.2v1.2h-1.2zM367.4 107.2h1.2v1.2h-1.2zM361.8 116.9h1.2v1.2h-1.2zM374.0 122.4h1.2v1.2h-1.2zM371.8 113.1h1.2v1.2h-1.2zM328.3 115.8h1.2v1.2h-1.2zM378.5 104.5h1.2v1.2h-1.2zM354.2 124.0h1.2v1.2h-1.2zM374.4 115.1h1.2v1.2h-1.2zM359.4 132.6h1.2v1.2h-1.2zM368.1 132.3h1.2v1.2h-1.2zM372.8 114.0h1.2v1.2h-1.2zM367.5 118.8h1.2v1.2h-1.2zM353.7 122.8h1.2v1.2h-1.2zM378.1 129.5h1.2v1.2h-1.2zM369.9 106.4h1.2v1.2h-1.2zM365.0 121.6h1.2v1.2h-1.2zM373.6 140.1h1.2v1.2h-1.2zM358.8 121.5h1.2v1.2h-1.2zM372.2 124.4h1.2v1.2h-1.2zM367.9 122.4h1.2v1.2h-1.2zM369.6 111.0h1.2v1.2h-1.2zM369.4 131.4h1.2v1.2h-1.2zM354.3 124.9h1.2v1.2h-1.2zM351.1 123.9h1.2v1.2h-1.2zM367.8 129.3h1.2v1.2h-1.2zM369.4 129.9h1.2v1.2h-1.2zM378.6 104.3h1.2v1.2h-1.2zM370.6 127.0h1.2v1.2h-1.2zM352.2 116.8h1.2v1.2h-1.2zM371.5 123.9h1.2v1.2h-1.2zM375.2 115.6h1.2v1.2h-1.2zM377.3 114.2h1.2v1.2h-1.2zM369.2 131.5h1.2v1.2h-1.2zM350.6 122.4h1.2v1.2h-1.2zM379.2 119.8h1.2v1.2h-1.2zM356.4 119.7h1.2v1.2h-1.2zM372.1 123.2h1.2v1.2h-1.2zM346.4 122.3h1.2v1.2h-1.2zM374.4 99.9h1.2v1.2h-1.2zM355.8 114.2h1.2v1.2h-1.2zM378.2 120.3h1.2v1.2h-1.2zM373.6 129.6h1.2v1.2h-1.2zM379.3 135.5h1.2v1.2h-1.2zM351.2 113.6h1.2v1.2h-1.2zM353.9 141.0h1.2v1.2h-1.2zM354.8 123.5h1.2v1.2h-1.2zM373.2 127.3h1.2v1.2h-1.2zM369.4 117.5h1.2v1.2h-1.2zM367.1 116.9h1.2v1.2h-1.2zM368.9 136.3h1.2v1.2h-1.2zM372.2 120.6h1.2v1.2h-1.2zM373.0 121.7h1.2v1.2h-1.2zM374.5 133.7h1.2v1.2h-1.2zM364.5 139.1h1.2v1.2h-1.2zM367.6 108.4h1.2v1.2h-1.2zM342.9 120.9h1.2v1.2h-1.2zM349.3 122.6h1.2v1.2h-1.2zM356.8 140.0h1.2v1.2h-1.2zM350.9 146.2h1.2v1.2h-1.2zM367.8 122.3h1.2v1.2h-1.2zM377.6 126.4h1.2v1.2h-1.2zM359.9 131.1h1.2v1.2h-1.2zM359.3 133.8h1.2v1.2h-1.2zM359.0 119.8h1.2v1.2h-1.2zM366.7 131.0h1.2v1.2h-1.2zM358.6 116.2h1.2v1.2h-1.2zM370.2 97.4h1.2v1.2h-1.2zM368.7 109.8h1.2v1.2h-1.2zM369.2 125.0h1.2v1.2h-1.2zM374.2 130.4h1.2v1.2h-1.2zM365.4 101.4h1.2v1.2h-1.2zM366.8 105.8h1.2v1.2h-1.2zM373.8 122.7h1.2v1.2h-1.2zM364.5 90.8h1.2v1.2h-1.2zM374.6 128.3h1.2v1.2h-1.2zM365.7 132.9h1.2v1.2h-1.2zM359.5 94.7h1.2v1.2h-1.2zM359.5 130.4h1.2v1.2h-1.2zM355.2 121.3h1.2v1.2h-1.2zM365.1 136.6h1.2v1.2h-1.2zM357.7 125.8h1.2v1.2h-1.2zM359.9 120.9h1.2v1.2h-1.2zM379.6 124.3h1.2v1.2h-1.2zM363.4 132.1h1.2v1.2h-1.2zM378.7 125.0h1.2v1.2h-1.2zM368.2 123.6h1.2v1.2h-1.2zM375.3 109.5h1.2v1.2h-1.2zM357.6 127.8h1.2v1.2h-1.2zM366.7 123.6h1.2v1.2h-1.2zM363.4 140.8h1.2v1.2h-1.2zM374.9 123.2h1.2v1.2h-1.2zM377.0 122.5h1.2v1.2h-1.2zM367.8 117.3h1.2v1.2h-1.2zM375.2 130.2h1.2v1.2h-1.2zM351.0 121.4h1.2v1.2h-1.2zM354.7 116.6h1.2v1.2h-1.2zM370.1 138.6h1.2v1.2h-1.2zM374.8 140.3h1.2v1.2h-1.2zM360.0 119.0h1.2v1.2h-1.2zM362.7 113.6h1.2v1.2h-1.2zM360.6 134.1h1.2v1.2h-1.2zM362.7 115.4h1.2v1.2h-1.2zM350.5 150.3h1.2v1.2h-1.2zM347.7 122.1h1.2v1.2h-1.2zM363.9 132.6h1.2v1.2h-1.2zM344.0 111.0h1.2v1.2h-1.2zM353.1 123.1h1.2v1.2h-1.2zM356.9 133.8h1.2v1.2h-1.2zM352.2 127.6h1.2v1.2h-1.2zM367.7 118.3h1.2v1.2h-1.2zM359.5 146.8h1.2v1.2h-1.2zM363.8 130.5h1.2v1.2h-1.2zM352.7 121.3h1.2v1.2h-1.2zM355.9 117.7h1.2v1.2h-1.2zM370.9 120.9h1.2v1.2h-1.2zM369.1 136.3h1.2v1.2h-1.2zM359.2 116.1h1.2v1.2h-1.2zM369.1 123.8h1.2v1.2h-1.2zM367.0 115.6h1.2v1.2h-1.2zM366.6 135.4h1.2v1.2h-1.2zM376.2 121.9h1.2v1.2h-1.2zM359.9 131.7h1.2v1.2h-1.2zM369.7 128.9h1.2v1.2h-1.2zM369.7 117.9h1.2v1.2h-1.2zM361.8 130.1h1.2v1.2h-1.2zM350.7 132.4h1.2v1.2h-1.2zM372.9 112.5h1.2v1.2h-1.2zM367.8 130.2h1.2v1.2h-1.2zM365.2 157.4h1.2v1.2h-1.2zM364.9 120.6h1.2v1.2h-1.2zM364.8 129.6h1.2v1.2h-1.2zM353.8 110.7h1.2v1.2h-1.2zM368.1 127.9h1.2v1.2h-1.2zM342.9 117.9h1.2v1.2h-1.2zM364.2 130.8h1.2v1.2h-1.2zM346.6 123.0h1.2v1.2h-1.2zM360.3 112.2h1.2v1.2h-1.2zM373.1 134.0h1.2v1.2h-1.2zM361.4 121.4h1.2v1.2h-1.2zM358.7 113.8h1.2v1.2h-1.2zM370.6 124.1h1.2v1.2h-1.2zM361.2 114.2h1.2v1.2h-1.2zM359.5 127.3h1.2v1.2h-1.2zM359.7 122.9h1.2v1.2h-1.2zM377.5 119.9h1.2v1.2h-1.2zM372.4 129.9h1.2v1.2h-1.2zM370.1 111.2h1.2v1.2h-1.2zM350.1 132.8h1.2v1.2h-1.2zM371.8 104.3h1.2v1.2h-1.2zM348.8 138.9h1.2v1.2h-1.2zM370.1 125.2h1.2v1.2h-1.2zM350.9 121.0h1.2v1.2h-1.2zM372.3 116.4h1.2v1.2h-1.2zM344.1 128.7h1.2v1.2h-1.2zM379.0 122.0h1.2v1.2h-1.2zM373.9 121.8h1.2v1.2h-1.2zM343.0 133.4h1.2v1.2h-1.2zM361.4 119.3h1.2v1.2h-1.2zM378.4 121.2h1.2v1.2h-1.2zM377.9 127.6h1.2v1.2h-1.2zM344.4 133.8h1.2v1.2h-1.2zM358.0 122.0h1.2v1.2h-1.2zM350.2 125.0h1.2v1.2h-1.2zM352.0 123.9h1.2v1.2h-1.2zM356.6 130.6h1.2v1.2h-1.2zM373.7 137.8h1.2v1.2h-1.2zM365.8 114.5h1.2v1.2h-1.2zM361.5 122.2h1.2v1.2h-1.2zM360.2 123.0h1.2v1.2h-1.2zM372.2 129.1h1.2v1.2h-1.2zM372.5 137.9h1.2v1.2h-1.2zM353.2 123.3h1.2v1.2h-1.2zM378.2 125.5h1.2v1.2h-1.2zM351.2 134.4h1.2v1.2h-1.2zM360.9 111.5h1.2v1.2h-1.2zM369.6 116.1h1.2v1.2h-1.2zM375.2 119.1h1.2v1.2h-1.2zM360.1 123.4h1.2v1.2h-1.2zM367.7 125.7h1.2v1.2h-1.2zM379.9 118.5h1.2v1.2h-1.2zM371.7 140.3h1.2v1.2h-1.2zM377.7 116.7h1.2v1.2h-1.2zM376.7 121.5h1.2v1.2h-1.2zM367.3 133.9h1.2v1.2h-1.2zM371.8 130.9h1.2v1.2h-1.2zM375.2 123.3h1.2v1.2h-1.2zM363.9 127.1h1.2v1.2h-1.2zM376.6 131.3h1.2v1.2h-1.2zM340.4 123.3h1.2v1.2h-1.2zM353.2 129.7h1.2v1.2h-1.2zM378.5 114.6h1.2v1.2h-1.2zM369.3 124.1h1.2v1.2h-1.2zM356.5 107.6h1.2v1.2h-1.2zM368.8 114.8h1.2v1.2h-1.2zM377.3 112.4h1.2v1.2h-1.2zM357.5 135.4h1.2v1.2h-1.2zM373.4 118.9h1.2v1.2h-1.2zM362.8 126.2h1.2v1.2h-1.2zM362.9 114.4h1.2v1.2h-1.2zM363.4 121.4h1.2v1.2h-1.2zM377.6 120.6h1.2v1.2h-1.2zM350.8 115.1h1.2v1.2h-1.2zM359.8 131.6h1.2v1.2h-1.2zM372.2 107.3h1.2v1.2h-1.2zM349.6 129.3h1.2v1.2h-1.2zM345.3 148.9h1.2v1.2h-1.2zM371.1 115.3h1.2v1.2h-1.2zM364.3 123.5h1.2v1.2h-1.2zM362.5 108.2h1.2v1.2h-1.2zM365.9 122.9h1.2v1.2h-1.2zM352.6 106.4h1.2v1.2h-1.2zM360.8 129.2h1.2v1.2h-1.2zM352.4 118.3h1.2v1.2h-1.2zM359.0 105.2h1.2v1.2h-1.2zM347.2 110.5h1.2v1.2h-1.2zM359.2 107.7h1.2v1.2h-1.2zM377.4 120.2h1.2v1.2h-1.2zM364.5 131.2h1.2v1.2h-1.2zM371.4 119.1h1.2v1.2h-1.2zM358.4 111.5h1.2v1.2h-1.2zM374.0 114.8h1.2v1.2h-1.2zM366.2 123.9h1.2v1.2h-1.2zM349.3 99.2h1.2v1.2h-1.2zM373.5 128.4h1.2v1.2h-1.2zM359.8 126.6h1.2v1.2h-1.2zM371.5 98.9h1.2v1.2h-1.2zM365.9 134.1h1.2v1.2h-1.2zM367.4 106.8h1.2v1.2h-1.2zM365.9 120.5h1.2v1.2h-1.2zM353.4 134.0h1.2v1.2h-1.2zM346.2 106.7h1.2v1.2h-1.2zM375.9 104.6h1.2v1.2h-1.2zM362.6 111.6h1.2v1.2h-1.2zM367.7 112.0h1.2v1.2h-1.2zM358.7 121.1h1.2v1.2h-1.2zM340.0 117.3h1.2v1.2h-1.2zM348.9 117.6h1.2v1.2h-1.2zM379.0 117.7h1.2v1.2h-1.2zM354.8 120.6h1.2v1.2h-1.2zM359.6 114.1h1.2v1.2h-1.2zM346.6 125.6h1.2v1.2h-1.2zM357.9 122.3h1.2v1.2h-1.2zM359.8 112.5h1.2v1.2h-1.2zM361.6 140.1h1.2v1.2h-1.2zM363.3 110.0h1.2v1.2h-1.2zM356.6 129.5h1.2v1.2h-1.2zM357.3 115.2h1.2v1.2h-1.2zM364.0 125.9h1.2v1.2h-1.2zM368.1 127.5h1.2v1.2h-1.2zM362.5 130.8h1.2v1.2h-1.2zM374.9 136.2h1.2v1.2h-1.2zM366.7 114.3h1.2v1.2h-1.2zM366.1 150.2h1.2v1.2h-1.2zM356.3 126.4h1.2v1.2h-1.2zM376.5 114.6h1.2v1.2h-1.2zM351.9 109.4h1.2v1.2h-1.2zM344.8 145.3h1.2v1.2h-1.2zM352.5 138.5h1.2v1.2h-1.2zM371.6 122.4h1.2v1.2h-1.2zM350.4 130.0h1.2v1.2h-1.2zM379.7 135.4h1.2v1.2h-1.2zM363.9 123.6h1.2v1.2h-1.2zM346.0 118.6h1.2v1.2h-1.2zM361.4 122.4h1.2v1.2h-1.2zM374.4 130.8h1.2v1.2h-1.2zM353.8 122.9h1.2v1.2h-1.2zM348.4 110.8h1.2v1.2h-1.2zM370.3 130.0h1.2v1.2h-1.2zM379.8 106.0h1.2v1.2h-1.2zM376.3 115.4h1.2v1.2h-1.2zM360.2 134.8h1.2v1.2h-1.2zM366.4 125.0h1.2v1.2h-1.2zM368.0 125.0h1.2v1.2h-1.2zM378.2 123.8h1.2v1.2h-1.2zM370.1 132.8h1.2v1.2h-1.2zM362.8 122.2h1.2v1.2h-1.2zM379.7 103.8h1.2v1.2h-1.2zM360.0 125.1h1.2v1.2h-1.2zM371.2 92.9h1.2v1.2h-1.2zM352.9 102.8h1.2v1.2h-1.2zM355.0 138.1h1.2v1.2h-1.2zM369.1 132.8h1.2v1.2h-1.2zM353.4 118.2h1.2v1.2h-1.2zM374.8 122.0h1.2v1.2h-1.2zM357.5 123.5h1.2v1.2h-1.2zM365.1 132.4h1.2v1.2h-1.2zM363.1 115.2h1.2v1.2h-1.2zM360.1 114.1h1.2v1.2h-1.2zM365.7 116.6h1.2v1.2h-1.2zM377.1 124.0h1.2v1.2h-1.2zM358.6 125.2h1.2v1.2h-1.2zM349.9 118.9h1.2v1.2h-1.2zM367.7 130.1h1.2v1.2h-1.2zM362.0 112.7h1.2v1.2h-1.2zM353.2 121.9h1.2v1.2h-1.2zM367.6 116.0h1.2v1.2h-1.2zM353.6 112.9h1.2v1.2h-1.2zM363.2 134.6h1.2v1.2h-1.2zM379.0 119.6h1.2v1.2h-1.2zM339.9 112.9h1.2v1.2h-1.2zM367.1 123.1h1.2v1.2h-1.2zM369.5 112.9h1.2v1.2h-1.2zM352.7 128.5h1.2v1.2h-1.2zM370.4 130.9h1.2v1.2h-1.2zM368.4 132.6h1.2v1.2h-1.2zM360.0 112.4h1.2v1.2h-1.2zM378.7 121.3h1.2v1.2h-1.2zM348.5 140.6h1.2v1.2h-1.2zM371.9 120.6h1.2v1.2h-1.2zM361.3 135.0h1.2v1.2h-1.2zM351.5 137.5h1.2v1.2h-1.2zM362.0 109.3h1.2v1.2h-1.2zM359.9 134.5h1.2v1.2h-1.2zM374.0 130.0h1.2v1.2h-1.2zM346.2 131.2h1.2v1.2h-1.2zM361.8 139.1h1.2v1.2h-1.2zM358.7 127.2h1.2v1.2h-1.2zM377.0 123.5h1.2v1.2h-1.2zM350.7 128.7h1.2v1.2h-1.2zM376.8 119.4h1.2v1.2h-1.2zM343.1 127.5h1.2v1.2h-1.2zM368.2 103.2h1.2v1.2h-1.2zM362.5 139.5h1.2v1.2h-1.2zM368.6 117.6h1.2v1.2h-1.2zM355.7 128.0h1.2v1.2h-1.2zM340.7 125.7h1.2v1.2h-1.2zM345.5 123.7h1.2v1.2h-1.2zM379.8 123.8h1.2v1.2h-1.2zM366.6 123.3h1.2v1.2h-1.2zM353.7 106.8h1.2v1.2h-1.2zM374.8 117.4h1.2v1.2h-1.2zM355.1 134.3h1.2v1.2h-1.2zM355.1 112.8h1.2v1.2h-1.2zM349.4 112.5h1.2v1.2h-1.2zM378.1 143.2h1.2v1.2h-1.2zM372.5 134.4h1.2v1.2h-1.2zM352.4 137.9h1.2v1.2h-1.2zM367.4 122.6h1.2v1.2h-1.2zM375.7 125.3h1.2v1.2h-1.2zM370.7 130.1h1.2v1.2h-1.2zM335.2 128.1h1.2v1.2h-1.2zM365.6 121.8h1.2v1.2h-1.2zM371.7 108.5h1.2v1.2h-1.2zM346.2 115.5h1.2v1.2h-1.2zM368.8 108.0h1.2v1.2h-1.2zM366.3 137.9h1.2v1.2h-1.2zM372.6 118.7h1.2v1.2h-1.2zM356.9 120.8h1.2v1.2h-1.2zM368.9 125.3h1.2v1.2h-1.2zM356.6 122.7h1.2v1.2h-1.2zM371.1 127.7h1.2v1.2h-1.2zM365.8 116.5h1.2v1.2h-1.2zM359.3 107.8h1.2v1.2h-1.2zM346.9 139.5h1.2v1.2h-1.2zM376.4 115.6h1.2v1.2h-1.2zM377.2 117.9h1.2v1.2h-1.2zM374.4 114.8h1.2v1.2h-1.2zM355.9 117.1h1.2v1.2h-1.2zM359.7 122.6h1.2v1.2h-1.2zM376.1 129.7h1.2v1.2h-1.2zM372.8 112.2h1.2v1.2h-1.2zM353.6 125.2h1.2v1.2h-1.2zM364.4 115.9h1.2v1.2h-1.2zM365.6 134.0h1.2v1.2h-1.2zM361.5 110.5h1.2v1.2h-1.2zM352.6 123.3h1.2v1.2h-1.2zM378.9 129.3h1.2v1.2h-1.2zM371.0 109.2h1.2v1.2h-1.2zM361.5 123.4h1.2v1.2h-1.2zM345.0 123.7h1.2v1.2h-1.2zM356.9 114.6h1.2v1.2h-1.2zM363.9 120.2h1.2v1.2h-1.2zM374.4 131.9h1.2v1.2h-1.2zM359.5 124.7h1.2v1.2h-1.2zM377.3 118.3h1.2v1.2h-1.2zM365.7 120.3h1.2v1.2h-1.2zM355.0 126.6h1.2v1.2h-1.2zM330.5 134.5h1.2v1.2h-1.2zM349.9 129.9h1.2v1.2h-1.2zM346.1 129.3h1.2v1.2h-1.2zM362.2 137.3h1.2v1.2h-1.2zM368.0 107.4h1.2v1.2h-1.2zM379.3 108.4h1.2v1.2h-1.2zM363.9 100.4h1.2v1.2h-1.2zM350.2 130.2h1.2v1.2h-1.2zM367.7 100.2h1.2v1.2h-1.2zM367.8 121.8h1.2v1.2h-1.2zM360.9 129.4h1.2v1.2h-1.2zM360.9 108.8h1.2v1.2h-1.2zM347.9 115.8h1.2v1.2h-1.2zM371.7 119.6h1.2v1.2h-1.2zM368.6 129.1h1.2v1.2h-1.2zM376.8 107.6h1.2v1.2h-1.2zM377.4 125.2h1.2v1.2h-1.2zM374.6 128.8h1.2v1.2h-1.2zM379.3 123.5h1.2v1.2h-1.2zM360.8 123.6h1.2v1.2h-1.2zM358.9 134.1h1.2v1.2h-1.2zM363.6 124.2h1.2v1.2h-1.2zM349.2 121.9h1.2v1.2h-1.2zM362.5 118.9h1.2v1.2h-1.2zM360.3 128.3h1.2v1.2h-1.2zM372.3 119.3h1.2v1.2h-1.2zM364.1 128.3h1.2v1.2h-1.2zM341.4 123.0h1.2v1.2h-1.2zM364.6 132.9h1.2v1.2h-1.2zM378.7 114.5h1.2v1.2h-1.2zM342.3 122.8h1.2v1.2h-1.2zM355.2 125.4h1.2v1.2h-1.2zM364.5 126.0h1.2v1.2h-1.2zM348.4 132.9h1.2v1.2h-1.2zM357.7 125.8h1.2v1.2h-1.2zM365.0 130.7h1.2v1.2h-1.2zM348.5 140.8h1.2v1.2h-1.2zM367.9 130.1h1.2v1.2h-1.2zM369.3 112.0h1.2v1.2h-1.2zM349.2 108.4h1.2v1.2h-1.2zM364.7 128.4h1.2v1.2h-1.2zM377.4 118.4h1.2v1.2h-1.2zM362.3 124.8h1.2v1.2h-1.2zM369.7 120.4h1.2v1.2h-1.2zM372.2 134.5h1.2v1.2h-1.2zM361.6 133.5h1.2v1.2h-1.2zM376.3 111.3h1.2v1.2h-1.2zM369.1 124.6h1.2v1.2h-1.2zM352.6 119.2h1.2v1.2h-1.2zM370.8 109.6h1.2v1.2h-1.2zM374.9 128.2h1.2v1.2h-1.2zM374.2 120.7h1.2v1.2h-1.2zM356.8 126.2h1.2v1.2h-1.2zM370.1 145.6h1.2v1.2h-1.2zM379.0 134.7h1.2v1.2h-1.2zM367.3 132.5h1.2v1.2h-1.2zM378.8 118.1h1.2v1.2h-1.2zM379.8 110.8h1.2v1.2h-1.2zM364.2 133.9h1.2v1.2h-1.2zM372.5 119.1h1.2v1.2h-1.2zM361.1 122.4h1.2v1.2h-1.2zM377.5 118.4h1.2v1.2h-1.2zM363.6 123.0h1.2v1.2h-1.2zM358.1 144.9h1.2v1.2h-1.2zM364.4 119.0h1.2v1.2h-1.2zM363.8 119.3h1.2v1.2h-1.2zM369.3 123.9h1.2v1.2h-1.2zM370.3 124.7h1.2v1.2h-1.2zM350.7 110.6h1.2v1.2h-1.2zM356.9 105.1h1.2v1.2h-1.2zM369.0 116.4h1.2v1.2h-1.2zM370.5 119.9h1.2v1.2h-1.2zM365.8 114.5h1.2v1.2h-1.2zM363.6 112.4h1.2v1.2h-1.2zM378.2 113.0h1.2v1.2h-1.2zM363.9 118.1h1.2v1.2h-1.2zM373.5 120.7h1.2v1.2h-1.2zM379.1 106.3h1.2v1.2h-1.2zM369.2 116.6h1.2v1.2h-1.2zM343.9 125.2h1.2v1.2h-1.2zM366.0 120.6h1.2v1.2h-1.2zM365.5 108.9h1.2v1.2h-1.2zM369.5 118.4h1.2v1.2h-1.2zM342.9 121.6h1.2v1.2h-1.2zM376.5 129.1h1.2v1.2h-1.2zM363.1 106.3h1.2v1.2h-1.2zM376.1 128.3h1.2v1.2h-1.2zM361.5 117.4h1.2v1.2h-1.2zM367.1 123.7h1.2v1.2h-1.2zM378.6 128.2h1.2v1.2h-1.2zM366.0 113.5h1.2v1.2h-1.2zM377.7 114.1h1.2v1.2h-1.2zM364.1 120.6h1.2v1.2h-1.2zM360.1 128.6h1.2v1.2h-1.2zM362.5 116.5h1.2v1.2h-1.2zM359.0 108.3h1.2v1.2h-1.2zM363.7 115.1h1.2v1.2h-1.2zM378.5 125.3h1.2v1.2h-1.2zM351.1 132.7h1.2v1.2h-1.2zM345.2 116.8h1.2v1.2h-1.2zM364.9 118.6h1.2v1.2h-1.2zM374.6 119.9h1.2v1.2h-1.2zM377.7 120.3h1.2v1.2h-1.2zM379.0 112.6h1.2v1.2h-1.2zM379.8 117.4h1.2v1.2h-1.2zM356.4 123.6h1.2v1.2h-1.2zM366.6 122.6h1.2v1.2h-1.2zM333.3 121.8h1.2v1.2h-1.2zM357.9 112.1h1.2v1.2h-1.2zM372.5 116.4h1.2v1.2h-1.2zM346.5 114.8h1.2v1.2h-1.2zM340.5 131.5h1.2v1.2h-1.2zM349.7 135.3h1.2v1.2h-1.2zM367.9 124.8h1.2v1.2h-1.2zM379.3 136.7h1.2v1.2h-1.2zM363.7 118.8h1.2v1.2h-1.2zM377.5 118.9h1.2v1.2h-1.2zM347.2 109.3h1.2v1.2h-1.2zM337.5 123.8h1.2v1.2h-1.2zM367.2 117.3h1.2v1.2h-1.2zM378.1 122.5h1.2v1.2h-1.2zM346.0 126.2h1.2v1.2h-1.2zM359.2 119.3h1.2v1.2h-1.2zM360.1 111.0h1.2v1.2h-1.2zM365.9 121.2h1.2v1.2h-1.2zM363.4 121.0h1.2v1.2h-1.2zM371.8 121.9h1.2v1.2h-1.2zM378.3 128.0h1.2v1.2h-1.2zM366.5 119.6h1.2v1.2h-1.2zM374.6 119.1h1.2v1.2h-1.2zM370.4 138.0h1.2v1.2h-1.2zM353.4 131.8h1.2v1.2h-1.2zM353.1 120.8h1.2v1.2h-1.2zM371.8 112.9h1.2v1.2h-1.2zM372.0 117.5h1.2v1.2h-1.2zM367.8 125.3h1.2v1.2h-1.2zM378.9 129.7h1.2v1.2h-1.2zM362.1 144.4h1.2v1.2h-1.2zM376.8 119.5h1.2v1.2h-1.2zM358.3 123.2h1.2v1.2h-1.2zM374.0 118.5h1.2v1.2h-1.2zM370.6 122.6h1.2v1.2h-1.2zM370.6 118.2h1.2v1.2h-1.2zM377.5 111.8h1.2v1.2h-1.2zM378.8 131.5h1.2v1.2h-1.2zM358.8 123.1h1.2v1.2h-1.2zM376.6 134.0h1.2v1.2h-1.2zM345.7 117.2h1.2v1.2h-1.2zM377.9 124.4h1.2v1.2h-1.2zM360.9 128.1h1.2v1.2h-1.2zM372.5 104.3h1.2v1.2h-1.2zM372.3 109.6h1.2v1.2h-1.2zM367.0 129.0h1.2v1.2h-1.2zM376.2 122.9h1.2v1.2h-1.2zM360.8 104.7h1.2v1.2h-1.2zM374.3 115.1h1.2v1.2h-1.2zM363.1 112.1h1.2v1.2h-1.2zM361.3 117.5h1.2v1.2h-1.2zM367.9 136.5h1.2v1.2h-1.2zM365.7 116.7h1.2v1.2h-1.2zM345.6 141.1h1.2v1.2h-1.2zM368.6 119.7h1.2v1.2h-1.2zM368.1 115.2h1.2v1.2h-1.2zM346.1 136.8h1.2v1.2h-1.2zM379.4 131.0h1.2v1.2h-1.2zM366.1 135.1h1.2v1.2h-1.2zM368.9 140.4h1.2v1.2h-1.2zM375.0 132.1h1.2v1.2h-1.2zM355.8 133.7h1.2v1.2h-1.2zM331.2 106.1h1.2v1.2h-1.2zM365.3 114.5h1.2v1.2h-1.2zM369.4 126.4h1.2v1.2h-1.2zM378.5 124.2h1.2v1.2h-1.2zM357.4 129.0h1.2v1.2h-1.2zM363.3 117.8h1.2v1.2h-1.2zM371.3 132.7h1.2v1.2h-1.2zM362.7 141.3h1.2v1.2h-1.2zM363.5 127.8h1.2v1.2h-1.2zM369.6 130.2h1.2v1.2h-1.2zM354.6 127.1h1.2v1.2h-1.2zM374.5 131.1h1.2v1.2h-1.2zM355.4 124.4h1.2v1.2h-1.2zM366.9 117.7h1.2v1.2h-1.2zM362.5 124.3h1.2v1.2h-1.2zM358.0 123.5h1.2v1.2h-1.2zM372.9 108.1h1.2v1.2h-1.2zM378.6 124.6h1.2v1.2h-1.2zM376.0 122.7h1.2v1.2h-1.2zM373.5 124.4h1.2v1.2h-1.2zM361.1 117.3h1.2v1.2h-1.2zM376.8 127.0h1.2v1.2h-1.2zM349.1 128.3h1.2v1.2h-1.2zM367.0 115.8h1.2v1.2h-1.2zM372.7 125.5h1.2v1.2h-1.2zM373.2 129.8h1.2v1.2h-1.2zM352.6 129.4h1.2v1.2h-1.2zM348.4 113.8h1.2v1.2h-1.2zM373.7 112.8h1.2v1.2h-1.2zM360.2 122.6h1.2v1.2h-1.2zM346.6 112.5h1.2v1.2h-1.2zM351.4 145.8h1.2v1.2h-1.2zM366.5 114.7h1.2v1.2h-1.2zM379.6 114.8h1.2v1.2h-1.2zM366.2 128.3h1.2v1.2h-1.2zM379.4 117.8h1.2v1.2h-1.2zM368.9 100.1h1.2v1.2h-1.2zM371.9 120.7h1.2v1.2h-1.2zM378.0 112.8h1.2v1.2h-1.2zM361.6 117.1h1.2v1.2h-1.2zM369.7 106.8h1.2v1.2h-1.2zM361.5 113.4h1.2v1.2h-1.2zM358.5 120.3h1.2v1.2h-1.2zM374.0 121.1h1.2v1.2h-1.2zM356.2 111.3h1.2v1.2h-1.2zM367.0 115.0h1.2v1.2h-1.2zM356.5 113.7h1.2v1.2h-1.2zM365.0 123.0h1.2v1.2h-1.2zM359.7 120.2h1.2v1.2h-1.2zM379.1 109.9h1.2v1.2h-1.2zM366.9 127.6h1.2v1.2h-1.2zM366.9 115.0h1.2v1.2h-1.2zM374.3 125.2h1.2v1.2h-1.2zM331.1 112.9h1.2v1.2h-1.2zM352.4 124.3h1.2v1.2h-1.2zM332.9 120.4h1.2v1.2h-1.2zM365.7 122.0h1.2v1.2h-1.2zM371.0 126.2h1.2v1.2h-1.2zM373.4 125.6h1.2v1.2h-1.2zM368.9 123.0h1.2v1.2h-1.2zM355.2 123.0h1.2v1.2h-1.2zM373.4 109.5h1.2v1.2h-1.2zM369.2 120.8h1.2v1.2h-1.2zM362.4 100.9h1.2v1.2h-1.2zM352.1 100.4h1.2v1.2h-1.2zM370.6 118.5h1.2v1.2h-1.2zM359.6 119.4h1.2v1.2h-1.2zM360.1 135.5h1.2v1.2h-1.2zM367.9 127.7h1.2v1.2h-1.2zM368.0 131.9h1.2v1.2h-1.2zM355.6 118.6h1.2v1.2h-1.2zM379.6 125.6h1.2v1.2h-1.2zM353.4 132.4h1.2v1.2h-1.2zM352.0 126.5h1.2v1.2h-1.2zM369.0 124.9h1.2v1.2h-1.2zM366.9 122.5h1.2v1.2h-1.2zM366.2 113.0h1.2v1.2h-1.2zM360.4 113.2h1.2v1.2h-1.2zM365.8 108.2h1.2v1.2h-1.2zM358.5 125.5h1.2v1.2h-1.2zM345.5 119.1h1.2v1.2h-1.2zM374.1 115.3h1.2v1.2h-1.2zM353.1 125.0h1.2v1.2h-1.2zM362.5 116.3h1.2v1.2h-1.2zM374.0 131.5h1.2v1.2h-1.2zM365.5 139.6h1.2v1.2h-1.2zM361.9 126.0h1.2v1.2h-1.2zM348.4 115.3h1.2v1.2h-1.2zM356.2 107.7h1.2v1.2h-1.2zM366.3 140.6h1.2v1.2h-1.2zM378.5 126.0h1.2v1.2h-1.2zM362.2 110.7h1.2v1.2h-1.2zM348.0 131.8h1.2v1.2h-1.2zM378.9 106.1h1.2v1.2h-1.2zM354.1 117.6h1.2v1.2h-1.2zM362.8 119.6h1.2v1.2h-1.2zM375.7 118.4h1.2v1.2h-1.2zM357.1 111.1h1.2v1.2h-1.2zM359.7 144.3h1.2v1.2h-1.2zM371.0 118.1h1.2v1.2h-1.2zM362.7 125.4h1.2v1.2h-1.2zM368.6 122.1h1.2v1.2h-1.2zM353.8 106.8h1.2v1.2h-1.2zM363.7 116.7h1.2v1.2h-1.2zM352.0 123.8h1.2v1.2h-1.2zM346.4 130.6h1.2v1.2h-1.2zM373.8 118.6h1.2v1.2h-1.2zM370.5 125.3h1.2v1.2h-1.2zM376.1 118.6h1.2v1.2h-1.2zM353.5 127.4h1.2v1.2h-1.2zM364.7 98.6h1.2v1.2h-1.2zM362.6 127.5h1.2v1.2h-1.2zM348.0 116.0h1.2v1.2h-1.2zM371.6 116.4h1.2v1.2h-1.2zM356.4 95.1h1.2v1.2h-1.2zM362.6 111.8h1.2v1.2h-1.2zM346.9 127.6h1.2v1.2h-1.2zM377.0 143.6h1.2v1.2h-1.2zM374.2 115.2h1.2v1.2h-1.2zM369.8 115.6h1.2v1.2h-1.2zM354.1 126.5h1.2v1.2h-1.2zM358.6 124.6h1.2v1.2h-1.2zM379.7 116.3h1.2v1.2h-1.2zM361.7 120.3h1.2v1.2h-1.2zM368.3 118.3h1.2v1.2h-1.2zM366.7 127.7h1.2v1.2h-1.2zM351.6 129.4h1.2v1.2h-1.2zM376.7 138.5h1.2v1.2h-1.2zM341.2 130.6h1.2v1.2h-1.2zM367.7 128.2h1.2v1.2h-1.2zM364.0 123.4h1.2v1.2h-1.2zM345.6 130.8h1.2v1.2h-1.2zM369.0 112.6h1.2v1.2h-1.2zM371.3 142.3h1.2v1.2h-1.2zM365.7 124.6h1.2v1.2h-1.2zM355.1 135.3h1.2v1.2h-1.2zM370.4 114.4h1.2v1.2h-1.2zM378.4 131.7h1.2v1.2h-1.2zM367.7 125.8h1.2v1.2h-1.2zM374.3 120.2h1.2v1.2h-1.2zM375.4 115.7h1.2v1.2h-1.2zM374.3 113.7h1.2v1.2h-1.2zM378.3 139.0h1.2v1.2h-1.2zM357.1 133.5h1.2v1.2h-1.2zM358.8 123.1h1.2v1.2h-1.2zM371.2 123.8h1.2v1.2h-1.2zM371.3 115.1h1.2v1.2h-1.2zM376.8 104.6h1.2v1.2h-1.2zM378.8 105.1h1.2v1.2h-1.2zM367.2 116.2h1.2v1.2h-1.2zM367.7 120.5h1.2v1.2h-1.2zM361.8 110.9h1.2v1.2h-1.2zM360.7 129.5h1.2v1.2h-1.2zM359.7 126.9h1.2v1.2h-1.2zM376.0 123.5h1.2v1.2h-1.2zM359.5 105.3h1.2v1.2h-1.2zM360.9 120.0h1.2v1.2h-1.2zM367.1 121.7h1.2v1.2h-1.2zM359.0 110.0h1.2v1.2h-1.2zM362.5 101.3h1.2v1.2h-1.2zM339.0 140.1h1.2v1.2h-1.2zM369.7 127.9h1.2v1.2h-1.2zM361.6 118.3h1.2v1.2h-1.2zM367.6 137.1h1.2v1.2h-1.2zM369.7 132.5h1.2v1.2h-1.2zM343.1 126.2h1.2v1.2h-1.2zM365.7 124.1h1.2v1.2h-1.2zM367.4 129.4h1.2v1.2h-1.2zM367.8 135.9h1.2v1.2h-1.2zM344.3 122.7h1.2v1.2h-1.2zM373.3 119.8h1.2v1.2h-1.2zM370.9 127.5h1.2v1.2h-1.2zM361.7 95.3h1.2v1.2h-1.2zM369.1 122.8h1.2v1.2h-1.2zM378.3 118.1h1.2v1.2h-1.2zM362.4 121.8h1.2v1.2h-1.2zM355.6 120.2h1.2v1.2h-1.2zM377.5 125.2h1.2v1.2h-1.2zM369.8 123.0h1.2v1.2h-1.2zM364.5 122.6h1.2v1.2h-1.2zM365.7 120.7h1.2v1.2h-1.2zM368.7 126.3h1.2v1.2h-1.2zM364.7 117.2h1.2v1.2h-1.2zM370.0 131.3h1.2v1.2h-1.2zM361.9 106.0h1.2v1.2h-1.2zM369.3 123.9h1.2v1.2h-1.2zM368.5 126.3h1.2v1.2h-1.2zM358.9 109.9h1.2v1.2h-1.2zM363.6 117.9h1.2v1.2h-1.2zM370.4 134.6h1.2v1.2h-1.2zM371.3 120.7h1.2v1.2h-1.2zM373.7 113.6h1.2v1.2h-1.2zM376.1 93.7h1.2v1.2h-1.2zM369.6 125.2h1.2v1.2h-1.2zM372.8 123.0h1.2v1.2h-1.2zM362.0 127.8h1.2v1.2h-1.2zM363.5 141.5h1.2v1.2h-1.2zM379.0 122.0h1.2v1.2h-1.2zM342.8 123.3h1.2v1.2h-1.2zM370.9 115.5h1.2v1.2h-1.2zM355.6 121.4h1.2v1.2h-1.2zM344.2 121.7h1.2v1.2h-1.2zM375.6 129.2h1.2v1.2h-1.2zM345.2 127.3h1.2v1.2h-1.2zM370.6 114.7h1.2v1.2h-1.2zM374.3 117.5h1.2v1.2h-1.2zM376.1 135.1h1.2v1.2h-1.2zM355.1 112.9h1.2v1.2h-1.2zM350.4 129.1h1.2v1.2h-1.2zM348.7 137.4h1.2v1.2h-1.2zM374.5 128.2h1.2v1.2h-1.2zM361.1 124.4h1.2v1.2h-1.2zM365.8 135.0h1.2v1.2h-1.2zM368.8 125.4h1.2v1.2h-1.2zM370.6 121.9h1.2v1.2h-1.2zM372.1 120.1h1.2v1.2h-1.2zM367.1 132.9h1.2v1.2h-1.2zM346.4 128.6h1.2v1.2h-1.2zM376.9 136.7h1.2v1.2h-1.2zM332.6 118.8h1.2v1.2h-1.2zM379.6 119.0h1.2v1.2h-1.2zM358.3 117.9h1.2v1.2h-1.2zM363.2 124.7h1.2v1.2h-1.2zM359.3 115.4h1.2v1.2h-1.2zM361.1 130.8h1.2v1.2h-1.2zM365.2 125.2h1.2v1.2h-1.2zM362.1 112.7h1.2v1.2h-1.2zM352.3 93.8h1.2v1.2h-1.2zM375.7 104.6h1.2v1.2h-1.2zM358.5 135.7h1.2v1.2h-1.2zM378.4 121.4h1.2v1.2h-1.2zM363.6 123.4h1.2v1.2h-1.2zM357.0 118.0h1.2v1.2h-1.2zM370.7 125.7h1.2v1.2h-1.2zM376.1 103.7h1.2v1.2h-1.2zM354.4 103.0h1.2v1.2h-1.2zM362.0 106.4h1.2v1.2h-1.2zM377.4 122.6h1.2v1.2h-1.2zM353.5 128.7h1.2v1.2h-1.2zM355.2 126.5h1.2v1.2h-1.2zM367.4 120.8h1.2v1.2h-1.2zM350.9 109.8h1.2v1.2h-1.2zM335.9 129.5h1.2v1.2h-1.2zM345.4 119.3h1.2v1.2h-1.2zM369.9 121.8h1.2v1.2h-1.2zM373.3 121.3h1.2v1.2h-1.2zM372.6 117.5h1.2v1.2h-1.2zM370.1 115.1h1.2v1.2h-1.2zM350.6 116.3h1.2v1.2h-1.2zM373.6 109.7h1.2v1.2h-1.2zM379.3 124.3h1.2v1.2h-1.2zM357.1 120.3h1.2v1.2h-1.2zM376.8 131.6h1.2v1.2h-1.2zM361.0 104.7h1.2v1.2h-1.2zM367.7 133.1h1.2v1.2h-1.2zM369.9 121.3h1.2v1.2h-1.2zM347.6 120.4h1.2v1.2h-1.2zM376.9 114.3h1.2v1.2h-1.2zM355.2 114.2h1.2v1.2h-1.2zM364.3 107.8h1.2v1.2h-1.2zM359.5 130.5h1.2v1.2h-1.2zM371.0 119.9h1.2v1.2h-1.2zM370.7 128.8h1.2v1.2h-1.2zM365.7 129.8h1.2v1.2h-1.2zM377.6 117.2h1.2v1.2h-1.2zM368.9 119.7h1.2v1.2h-1.2zM360.7 118.7h1.2v1.2h-1.2zM330.9 131.7h1.2v1.2h-1.2zM362.1 123.2h1.2v1.2h-1.2zM362.0 123.6h1.2v1.2h-1.2zM355.0 128.8h1.2v1.2h-1.2zM355.2 121.3h1.2v1.2h-1.2zM372.6 141.4h1.2v1.2h-1.2zM378.0 113.2h1.2v1.2h-1.2zM371.8 133.9h1.2v1.2h-1.2zM379.2 135.3h1.2v1.2h-1.2zM357.0 111.1h1.2v1.2h-1.2zM368.6 130.2h1.2v1.2h-1.2zM349.1 124.7h1.2v1.2h-1.2zM374.3 130.3h1.2v1.2h-1.2zM369.8 110.6h1.2v1.2h-1.2zM358.2 124.3h1.2v1.2h-1.2zM364.2 112.7h1.2v1.2h-1.2zM362.5 118.8h1.2v1.2h-1.2zM357.9 135.5h1.2v1.2h-1.2zM378.7 120.7h1.2v1.2h-1.2zM357.2 100.6h1.2v1.2h-1.2zM375.4 108.7h1.2v1.2h-1.2zM378.2 111.2h1.2v1.2h-1.2zM367.4 131.6h1.2v1.2h-1.2zM361.3 115.4h1.2v1.2h-1.2zM368.1 107.2h1.2v1.2h-1.2zM361.1 132.6h1.2v1.2h-1.2zM370.3 124.4h1.2v1.2h-1.2zM364.1 125.3h1.2v1.2h-1.2zM372.6 114.4h1.2v1.2h-1.2zM364.9 135.6h1.2v1.2h-1.2zM372.6 120.8h1.2v1.2h-1.2zM350.3 103.2h1.2v1.2h-1.2zM364.3 111.2h1.2v1.2h-1.2zM378.0 114.0h1.2v1.2h-1.2zM353.1 120.5h1.2v1.2h-1.2zM357.5 129.3h1.2v1.2h-1.2zM378.0 115.1h1.2v1.2h-1.2zM370.4 116.3h1.2v1.2h-1.2zM378.3 142.9h1.2v1.2h-1.2zM338.7 122.8h1.2v1.2h-1.2zM367.3 117.0h1.2v1.2h-1.2zM350.2 122.3h1.2v1.2h-1.2zM348.8 110.1h1.2v1.2h-1.2zM370.4 127.1h1.2v1.2h-1.2zM379.7 131.2h1.2v1.2h-1.2zM347.5 116.5h1.2v1.2h-1.2zM352.2 131.5h1.2v1.2h-1.2zM358.5 119.2h1.2v1.2h-1.2zM364.0 124.7h1.2v1.2h-1.2zM349.5 115.0h1.2v1.2h-1.2zM367.4 114.4h1.2v1.2h-1.2zM372.5 107.8h1.2v1.2h-1.2zM361.1 124.1h1.2v1.2h-1.2zM359.2 119.3h1.2v1.2h-1.2zM366.6 119.6h1.2v1.2h-1.2zM367.6 111.3h1.2v1.2h-1.2zM359.5 110.9h1.2v1.2h-1.2zM369.6 116.0h1.2v1.2h-1.2zM379.4 126.5h1.2v1.2h-1.2zM351.1 124.9h1.2v1.2h-1.2zM358.3 115.5h1.2v1.2h-1.2zM378.4 124.8h1.2v1.2h-1.2zM357.0 138.7h1.2v1.2h-1.2zM360.2 123.0h1.2v1.2h-1.2zM349.1 141.2h1.2v1.2h-1.2zM356.2 126.1h1.2v1.2h-1.2zM373.6 134.6h1.2v1.2h-1.2zM355.4 117.0h1.2v1.2h-1.2zM349.6 133.2h1.2v1.2h-1.2zM357.7 110.7h1.2v1.2h-1.2zM373.4 124.3h1.2v1.2h-1.2zM367.4 118.8h1.2v1.2h-1.2zM358.5 103.0h1.2v1.2h-1.2zM367.1 109.0h1.2v1.2h-1.2zM370.6 132.7h1.2v1.2h-1.2zM366.7 126.7h1.2v1.2h-1.2zM343.4 134.3h1.2v1.2h-1.2zM368.8 123.8h1.2v1.2h-1.2zM362.6 94.4h1.2v1.2h-1.2zM375.3 124.4h1.2v1.2h-1.2zM348.8 116.6h1.2v1.2h-1.2zM377.8 117.2h1.2v1.2h-1.2zM359.2 117.7h1.2v1.2h-1.2zM330.0 118.8h1.2v1.2h-1.2zM329.8 111.9h1.2v1.2h-1.2zM313.9 123.7h1.2v1.2h-1.2zM313.3 120.2h1.2v1.2h-1.2zM325.6 126.7h1.2v1.2h-1.2zM305.9 117.6h1.2v1.2h-1.2zM334.0 110.3h1.2v1.2h-1.2zM332.3 127.9h1.2v1.2h-1.2zM326.9 134.4h1.2v1.2h-1.2zM314.0 129.5h1.2v1.2h-1.2zM341.1 122.3h1.2v1.2h-1.2zM331.2 126.5h1.2v1.2h-1.2zM336.2 107.5h1.2v1.2h-1.2zM330.2 119.8h1.2v1.2h-1.2zM323.5 133.3h1.2v1.2h-1.2zM311.9 126.9h1.2v1.2h-1.2zM307.6 115.1h1.2v1.2h-1.2zM334.3 130.5h1.2v1.2h-1.2zM326.1 121.6h1.2v1.2h-1.2zM309.9 129.4h1.2v1.2h-1.2zM308.8 110.1h1.2v1.2h-1.2zM320.4 118.0h1.2v1.2h-1.2zM326.7 125.7h1.2v1.2h-1.2zM332.0 125.5h1.2v1.2h-1.2zM320.2 127.8h1.2v1.2h-1.2zM310.5 122.7h1.2v1.2h-1.2zM328.4 121.0h1.2v1.2h-1.2zM305.4 127.0h1.2v1.2h-1.2zM307.2 130.6h1.2v1.2h-1.2zM315.6 109.2h1.2v1.2h-1.2zM323.6 119.9h1.2v1.2h-1.2zM300.8 121.0h1.2v1.2h-1.2zM305.7 124.2h1.2v1.2h-1.2zM329.7 131.9h1.2v1.2h-1.2zM317.3 110.9h1.2v1.2h-1.2zM318.8 127.6h1.2v1.2h-1.2zM319.8 107.2h1.2v1.2h-1.2zM307.4 116.0h1.2v1.2h-1.2zM340.5 118.1h1.2v1.2h-1.2zM338.8 120.4h1.2v1.2h-1.2zM326.6 117.3h1.2v1.2h-1.2zM303.9 118.2h1.2v1.2h-1.2zM328.9 119.7h1.2v1.2h-1.2zM334.0 120.4h1.2v1.2h-1.2zM314.1 106.2h1.2v1.2h-1.2zM340.1 147.7h1.2v1.2h-1.2zM353.6 152.4h1.2v1.2h-1.2zM367.1 156.7h1.2v1.2h-1.2zM373.7 157.3h1.2v1.2h-1.2zM360.5 146.3h1.2v1.2h-1.2zM361.2 166.9h1.2v1.2h-1.2zM348.7 146.7h1.2v1.2h-1.2zM362.2 155.9h1.2v1.2h-1.2zM369.2 159.1h1.2v1.2h-1.2zM361.6 155.2h1.2v1.2h-1.2zM344.9 152.2h1.2v1.2h-1.2zM358.3 163.7h1.2v1.2h-1.2zM359.1 157.7h1.2v1.2h-1.2zM340.1 162.5h1.2v1.2h-1.2zM296.4 103.2h1.2v1.2h-1.2zM296.6 107.1h1.2v1.2h-1.2zM296.6 105.9h1.2v1.2h-1.2zM296.7 136.3h1.2v1.2h-1.2zM296.5 89.6h1.2v1.2h-1.2zM296.6 152.2h1.2v1.2h-1.2zM296.2 66.3h1.2v1.2h-1.2zM296.0 113.9h1.2v1.2h-1.2zM296.5 102.5h1.2v1.2h-1.2zM296.6 115.0h1.2v1.2h-1.2zM296.0 123.6h1.2v1.2h-1.2zM296.4 111.3h1.2v1.2h-1.2zM361.3 99.9h1.2v1.2h-1.2zM354.4 96.6h1.2v1.2h-1.2zM338.9 94.5h1.2v1.2h-1.2zM372.5 100.7h1.2v1.2h-1.2zM374.7 94.9h1.2v1.2h-1.2zM366.9 102.3h1.2v1.2h-1.2zM373.7 95.0h1.2v1.2h-1.2zM375.5 96.2h1.2v1.2h-1.2zM372.1 101.0h1.2v1.2h-1.2zM360.5 101.4h1.2v1.2h-1.2z" fill="#0000f0" fill-opacity="0.85"/>
<rect x="295.5" y="35.5" width="175" height="142" fill="none" stroke="#3a3a3a" stroke-width="1"/>
<path d="M380.8 35 V177 M295 124.5 H470" stroke="#222" stroke-width="1" fill="none"/>
<path d="M290.5 177.5H295M292.5 166.8H295M292.5 160.6H295M292.5 156.1H295M292.5 152.7H295M292.5 149.9H295M292.5 147.5H295M292.5 145.4H295M292.5 143.6H295M290.5 142.0H295M292.5 131.3H295M292.5 125.1H295M292.5 120.6H295M292.5 117.2H295M292.5 114.4H295M292.5 112.0H295M292.5 109.9H295M292.5 108.1H295M290.5 106.5H295M292.5 95.8H295M292.5 89.6H295M292.5 85.1H295M292.5 81.7H295M292.5 78.9H295M292.5 76.5H295M292.5 74.4H295M292.5 72.6H295M290.5 71.0H295M292.5 60.3H295M292.5 54.1H295M292.5 49.6H295M292.5 46.2H295M292.5 43.4H295M292.5 41.0H295M292.5 38.9H295M292.5 37.1H295M290.5 35.5H295M295.5 177.5V181.5M307.8 177.5V181.5M336.5 177.5V181.5M369.3 177.5V181.5M402.6 177.5V181.5M436.0 177.5V181.5M470.0 177.5V181.5M298.4 177.5V180.2M303.2 177.5V180.2M312.9 177.5V180.2M317.4 177.5V180.2M320.8 177.5V180.2M324.0 177.5V180.2M326.5 177.5V180.2M328.8 177.5V180.2M330.8 177.5V180.2M332.5 177.5V180.2M333.9 177.5V180.2M335.3 177.5V180.2M346.4 177.5V180.2M352.1 177.5V180.2M356.2 177.5V180.2M359.4 177.5V180.2M362.0 177.5V180.2M364.2 177.5V180.2M366.1 177.5V180.2M367.8 177.5V180.2M379.3 177.5V180.2M385.2 177.5V180.2M389.3 177.5V180.2M392.6 177.5V180.2M395.2 177.5V180.2M397.4 177.5V180.2M399.4 177.5V180.2M401.1 177.5V180.2M412.7 177.5V180.2M418.5 177.5V180.2M422.7 177.5V180.2M425.9 177.5V180.2M428.6 177.5V180.2M430.8 177.5V180.2M432.8 177.5V180.2M434.5 177.5V180.2M446.2 177.5V180.2M452.2 177.5V180.2M456.5 177.5V180.2M459.8 177.5V180.2M462.5 177.5V180.2M464.7 177.5V180.2M466.7 177.5V180.2M468.4 177.5V180.2" stroke="#3a3a3a" stroke-width="1" fill="none"/>
<text transform="translate(286.40,177.30) rotate(-90) scale(0.85,1)" font-family="Liberation Sans" fill="#262626" font-size="9" text-anchor="middle">10</text>
<text transform="translate(281.40,173.20) rotate(-90) scale(0.85,1)" font-family="Liberation Sans" fill="#262626" font-size="6.2" text-anchor="start">2</text>
<text transform="translate(286.40,141.80) rotate(-90) scale(0.85,1)" font-family="Liberation Sans" fill="#262626" font-size="9" text-anchor="middle">10</text>
<text transform="translate(281.40,137.70) rotate(-90) scale(0.85,1)" font-family="Liberation Sans" fill="#262626" font-size="6.2" text-anchor="start">3</text>
<text transform="translate(286.40,106.30) rotate(-90) scale(0.85,1)" font-family="Liberation Sans" fill="#262626" font-size="9" text-anchor="middle">10</text>
<text transform="translate(281.40,102.20) rotate(-90) scale(0.85,1)" font-family="Liberation Sans" fill="#262626" font-size="6.2" text-anchor="start">4</text>
<text transform="translate(286.40,70.80) rotate(-90) scale(0.85,1)" font-family="Liberation Sans" fill="#262626" font-size="9" text-anchor="middle">10</text>
<text transform="translate(281.40,66.70) rotate(-90) scale(0.85,1)" font-family="Liberation Sans" fill="#262626" font-size="6.2" text-anchor="start">5</text>
<text transform="translate(286.40,35.30) rotate(-90) scale(0.85,1)" font-family="Liberation Sans" fill="#262626" font-size="9" text-anchor="middle">10</text>
<text transform="translate(281.40,31.20) rotate(-90) scale(0.85,1)" font-family="Liberation Sans" fill="#262626" font-size="6.2" text-anchor="start">6</text>
<text transform="translate(308.20,189.70) scale(1.1,1)" font-family="Liberation Sans" fill="#262626" font-size="8" text-anchor="middle">0</text>
<text transform="translate(335.90,189.70) scale(1.1,1)" font-family="Liberation Sans" fill="#262626" font-size="8" text-anchor="middle">10</text>
<text transform="translate(341.10,186.00) scale(1.1,1)" font-family="Liberation Sans" fill="#262626" font-size="5.7" text-anchor="start">2</text>
<text transform="translate(368.70,189.70) scale(1.1,1)" font-family="Liberation Sans" fill="#262626" font-size="8" text-anchor="middle">10</text>
<text transform="translate(373.90,186.00) scale(1.1,1)" font-family="Liberation Sans" fill="#262626" font-size="5.7" text-anchor="start">3</text>
<text transform="translate(402.00,189.70) scale(1.1,1)" font-family="Liberation Sans" fill="#262626" font-size="8" text-anchor="middle">10</text>
<text transform="translate(407.20,186.00) scale(1.1,1)" font-family="Liberation Sans" fill="#262626" font-size="5.7" text-anchor="start">4</text>
<text transform="translate(435.40,189.70) scale(1.1,1)" font-family="Liberation Sans" fill="#262626" font-size="8" text-anchor="middle">10</text>
<text transform="translate(440.60,186.00) scale(1.1,1)" font-family="Liberation Sans" fill="#262626" font-size="5.7" text-anchor="start">5</text>
<text transform="translate(469.40,189.70) scale(1.1,1)" font-family="Liberation Sans" fill="#262626" font-size="8" text-anchor="middle">10</text>
<text transform="translate(474.60,186.00) scale(1.1,1)" font-family="Liberation Sans" fill="#262626" font-size="5.7" text-anchor="start">6</text>
<text x="382.10" y="198.80" font-family="Liberation Sans" font-size="8.6" font-weight="normal" text-anchor="middle" fill="#262626" textLength="47.4" lengthAdjust="spacingAndGlyphs" >CD5 APC-A</text>
<text transform="translate(274.60,105.30) rotate(-90)" font-family="Liberation Sans" font-size="8.4" font-weight="normal" text-anchor="middle" fill="#262626" textLength="63.5" lengthAdjust="spacingAndGlyphs" >IL-10/DNMT1 PE-A</text>
<text x="375.00" y="31.60" font-family="Liberation Sans" font-size="8.5" font-weight="normal" text-anchor="middle" fill="#262626" letter-spacing="0.4">IL-10 : H1-LR</text>
<text x="298.10" y="44.90" font-family="Liberation Sans" font-size="8.6" font-weight="normal" text-anchor="start" fill="#262626" letter-spacing="0.28">Q2-UL(58.50%)</text>
<text x="467.00" y="44.90" font-family="Liberation Sans" font-size="8.6" font-weight="normal" text-anchor="end" fill="#262626" letter-spacing="0.28">Q2-UR(0.00%)</text>
<text x="298.10" y="173.50" font-family="Liberation Sans" font-size="8.6" font-weight="normal" text-anchor="start" fill="#262626" letter-spacing="0.28">Q2-LL(41.50%)</text>
<text x="467.00" y="173.50" font-family="Liberation Sans" font-size="8.6" font-weight="normal" text-anchor="end" fill="#262626" letter-spacing="0.28">Q2-LR(0.00%)</text>
<path d="M146.9 330.8h1.2v1.2h-1.2zM147.3 318.3h1.2v1.2h-1.2zM144.1 330.1h1.2v1.2h-1.2zM153.5 316.1h1.2v1.2h-1.2zM149.8 321.5h1.2v1.2h-1.2zM148.4 319.0h1.2v1.2h-1.2zM158.5 335.5h1.2v1.2h-1.2zM149.7 335.2h1.2v1.2h-1.2zM160.8 329.5h1.2v1.2h-1.2zM157.0 327.9h1.2v1.2h-1.2zM144.6 321.1h1.2v1.2h-1.2zM148.8 335.8h1.2v1.2h-1.2zM142.4 333.6h1.2v1.2h-1.2zM143.2 330.4h1.2v1.2h-1.2zM145.7 323.9h1.2v1.2h-1.2zM152.0 322.3h1.2v1.2h-1.2zM158.9 324.0h1.2v1.2h-1.2zM143.6 333.2h1.2v1.2h-1.2zM153.6 318.5h1.2v1.2h-1.2zM148.4 325.4h1.2v1.2h-1.2zM146.4 335.2h1.2v1.2h-1.2zM157.1 330.3h1.2v1.2h-1.2zM145.3 335.9h1.2v1.2h-1.2zM159.1 327.3h1.2v1.2h-1.2zM145.5 327.4h1.2v1.2h-1.2zM143.8 333.6h1.2v1.2h-1.2zM154.3 328.9h1.2v1.2h-1.2zM148.0 326.9h1.2v1.2h-1.2zM145.8 321.4h1.2v1.2h-1.2zM146.7 315.1h1.2v1.2h-1.2zM148.2 334.3h1.2v1.2h-1.2zM146.1 322.0h1.2v1.2h-1.2zM152.1 319.9h1.2v1.2h-1.2zM147.0 330.3h1.2v1.2h-1.2zM152.3 319.0h1.2v1.2h-1.2zM152.5 316.0h1.2v1.2h-1.2zM144.4 321.1h1.2v1.2h-1.2zM150.3 324.4h1.2v1.2h-1.2zM149.9 326.5h1.2v1.2h-1.2zM156.3 328.1h1.2v1.2h-1.2zM142.4 331.0h1.2v1.2h-1.2zM159.8 324.0h1.2v1.2h-1.2zM145.8 327.1h1.2v1.2h-1.2zM159.7 324.1h1.2v1.2h-1.2zM155.6 320.7h1.2v1.2h-1.2zM144.4 327.4h1.2v1.2h-1.2zM145.8 327.1h1.2v1.2h-1.2zM150.5 336.7h1.2v1.2h-1.2zM156.4 328.7h1.2v1.2h-1.2zM147.3 320.3h1.2v1.2h-1.2zM144.3 328.7h1.2v1.2h-1.2zM153.2 323.2h1.2v1.2h-1.2zM152.1 335.0h1.2v1.2h-1.2zM144.7 313.9h1.2v1.2h-1.2zM143.5 320.6h1.2v1.2h-1.2zM151.7 320.6h1.2v1.2h-1.2zM144.5 325.6h1.2v1.2h-1.2zM150.1 324.0h1.2v1.2h-1.2zM155.6 314.6h1.2v1.2h-1.2zM148.4 312.8h1.2v1.2h-1.2zM157.7 326.0h1.2v1.2h-1.2zM157.6 334.2h1.2v1.2h-1.2zM157.4 334.2h1.2v1.2h-1.2zM159.6 322.3h1.2v1.2h-1.2zM155.1 327.8h1.2v1.2h-1.2zM149.7 319.3h1.2v1.2h-1.2zM159.5 315.6h1.2v1.2h-1.2zM151.0 332.7h1.2v1.2h-1.2zM155.8 329.2h1.2v1.2h-1.2zM147.0 322.7h1.2v1.2h-1.2zM146.3 322.4h1.2v1.2h-1.2zM146.4 330.7h1.2v1.2h-1.2zM161.0 326.9h1.2v1.2h-1.2zM150.5 322.7h1.2v1.2h-1.2zM146.7 326.7h1.2v1.2h-1.2zM146.5 324.8h1.2v1.2h-1.2zM152.0 322.2h1.2v1.2h-1.2zM148.4 320.3h1.2v1.2h-1.2zM149.5 330.8h1.2v1.2h-1.2zM156.1 321.8h1.2v1.2h-1.2zM154.0 317.3h1.2v1.2h-1.2zM148.3 336.5h1.2v1.2h-1.2zM150.0 332.9h1.2v1.2h-1.2zM149.0 328.2h1.2v1.2h-1.2zM154.0 324.4h1.2v1.2h-1.2zM153.8 326.1h1.2v1.2h-1.2zM149.4 315.6h1.2v1.2h-1.2zM143.1 324.7h1.2v1.2h-1.2zM155.0 326.6h1.2v1.2h-1.2zM155.5 323.6h1.2v1.2h-1.2zM144.9 327.6h1.2v1.2h-1.2zM151.4 319.9h1.2v1.2h-1.2zM145.2 326.0h1.2v1.2h-1.2zM153.8 314.8h1.2v1.2h-1.2zM147.9 324.7h1.2v1.2h-1.2zM155.8 320.9h1.2v1.2h-1.2zM142.4 316.3h1.2v1.2h-1.2zM142.6 322.3h1.2v1.2h-1.2zM156.4 324.9h1.2v1.2h-1.2zM145.2 321.0h1.2v1.2h-1.2zM143.9 330.7h1.2v1.2h-1.2zM145.7 320.3h1.2v1.2h-1.2zM153.2 330.7h1.2v1.2h-1.2zM153.2 329.4h1.2v1.2h-1.2zM144.0 320.9h1.2v1.2h-1.2zM145.7 333.9h1.2v1.2h-1.2zM148.9 316.1h1.2v1.2h-1.2zM145.1 328.1h1.2v1.2h-1.2zM143.3 325.2h1.2v1.2h-1.2zM145.1 329.6h1.2v1.2h-1.2zM153.9 314.7h1.2v1.2h-1.2zM146.4 317.1h1.2v1.2h-1.2zM171.0 319.4h1.2v1.2h-1.2zM153.2 324.8h1.2v1.2h-1.2zM142.4 325.2h1.2v1.2h-1.2zM148.2 324.8h1.2v1.2h-1.2zM150.9 323.0h1.2v1.2h-1.2zM151.4 320.1h1.2v1.2h-1.2zM151.7 315.9h1.2v1.2h-1.2zM151.8 321.9h1.2v1.2h-1.2zM147.1 328.0h1.2v1.2h-1.2zM153.4 331.1h1.2v1.2h-1.2zM165.6 321.4h1.2v1.2h-1.2zM144.7 331.4h1.2v1.2h-1.2zM145.1 316.0h1.2v1.2h-1.2zM153.8 329.5h1.2v1.2h-1.2zM158.1 317.7h1.2v1.2h-1.2zM154.7 326.1h1.2v1.2h-1.2zM157.9 318.5h1.2v1.2h-1.2zM147.8 318.4h1.2v1.2h-1.2zM146.3 321.1h1.2v1.2h-1.2zM153.4 333.6h1.2v1.2h-1.2zM153.5 320.3h1.2v1.2h-1.2zM161.5 328.5h1.2v1.2h-1.2zM160.6 325.6h1.2v1.2h-1.2zM151.0 326.5h1.2v1.2h-1.2zM154.4 326.6h1.2v1.2h-1.2zM142.8 328.6h1.2v1.2h-1.2zM153.2 316.9h1.2v1.2h-1.2zM151.3 324.9h1.2v1.2h-1.2zM146.8 326.8h1.2v1.2h-1.2zM145.4 320.9h1.2v1.2h-1.2zM146.7 326.8h1.2v1.2h-1.2zM144.6 318.1h1.2v1.2h-1.2zM146.4 329.2h1.2v1.2h-1.2zM148.4 320.1h1.2v1.2h-1.2zM147.2 322.8h1.2v1.2h-1.2zM149.0 329.6h1.2v1.2h-1.2zM146.9 331.4h1.2v1.2h-1.2zM150.5 321.0h1.2v1.2h-1.2zM147.5 320.5h1.2v1.2h-1.2zM145.8 330.9h1.2v1.2h-1.2zM144.8 306.3h1.2v1.2h-1.2zM149.1 333.1h1.2v1.2h-1.2zM155.8 332.8h1.2v1.2h-1.2zM149.3 317.8h1.2v1.2h-1.2zM144.1 332.1h1.2v1.2h-1.2zM149.4 326.9h1.2v1.2h-1.2zM151.0 327.5h1.2v1.2h-1.2zM144.5 309.8h1.2v1.2h-1.2zM145.0 321.4h1.2v1.2h-1.2zM147.5 323.3h1.2v1.2h-1.2zM145.4 322.0h1.2v1.2h-1.2zM145.9 322.1h1.2v1.2h-1.2zM146.0 322.7h1.2v1.2h-1.2zM143.4 306.3h1.2v1.2h-1.2zM150.0 323.3h1.2v1.2h-1.2zM151.3 320.2h1.2v1.2h-1.2zM146.2 324.0h1.2v1.2h-1.2zM145.2 321.4h1.2v1.2h-1.2zM159.8 324.5h1.2v1.2h-1.2zM153.4 326.4h1.2v1.2h-1.2zM160.5 335.8h1.2v1.2h-1.2zM158.7 319.3h1.2v1.2h-1.2zM144.4 335.3h1.2v1.2h-1.2zM147.4 323.0h1.2v1.2h-1.2zM146.0 318.9h1.2v1.2h-1.2zM157.4 315.3h1.2v1.2h-1.2zM153.8 330.0h1.2v1.2h-1.2zM152.7 314.9h1.2v1.2h-1.2zM153.3 330.3h1.2v1.2h-1.2zM151.7 326.7h1.2v1.2h-1.2zM149.7 320.9h1.2v1.2h-1.2zM150.2 320.3h1.2v1.2h-1.2zM157.7 327.6h1.2v1.2h-1.2zM142.9 325.5h1.2v1.2h-1.2zM144.9 329.2h1.2v1.2h-1.2zM148.0 324.5h1.2v1.2h-1.2zM157.3 321.3h1.2v1.2h-1.2zM149.9 327.9h1.2v1.2h-1.2zM146.4 316.9h1.2v1.2h-1.2zM154.7 329.9h1.2v1.2h-1.2zM148.9 324.9h1.2v1.2h-1.2zM151.7 317.4h1.2v1.2h-1.2zM144.6 318.0h1.2v1.2h-1.2zM153.3 322.4h1.2v1.2h-1.2zM146.3 312.9h1.2v1.2h-1.2zM144.5 333.4h1.2v1.2h-1.2zM151.5 330.7h1.2v1.2h-1.2zM164.9 317.5h1.2v1.2h-1.2zM143.3 323.8h1.2v1.2h-1.2zM148.1 335.3h1.2v1.2h-1.2zM145.0 327.1h1.2v1.2h-1.2zM159.0 318.0h1.2v1.2h-1.2zM142.6 310.7h1.2v1.2h-1.2zM142.3 314.0h1.2v1.2h-1.2zM150.2 332.1h1.2v1.2h-1.2zM143.2 326.5h1.2v1.2h-1.2zM146.8 316.1h1.2v1.2h-1.2zM152.7 329.0h1.2v1.2h-1.2zM147.5 322.2h1.2v1.2h-1.2zM143.7 320.2h1.2v1.2h-1.2zM142.6 321.2h1.2v1.2h-1.2zM145.7 321.5h1.2v1.2h-1.2zM154.6 335.2h1.2v1.2h-1.2zM159.4 318.4h1.2v1.2h-1.2zM147.0 321.9h1.2v1.2h-1.2zM157.3 333.1h1.2v1.2h-1.2zM148.5 334.2h1.2v1.2h-1.2zM150.9 318.2h1.2v1.2h-1.2zM178.3 331.5h1.2v1.2h-1.2zM170.7 328.1h1.2v1.2h-1.2zM150.3 326.6h1.2v1.2h-1.2zM176.3 324.6h1.2v1.2h-1.2zM150.3 326.3h1.2v1.2h-1.2zM167.4 319.0h1.2v1.2h-1.2zM152.9 326.2h1.2v1.2h-1.2zM147.9 322.2h1.2v1.2h-1.2zM168.7 335.6h1.2v1.2h-1.2zM165.4 322.3h1.2v1.2h-1.2zM161.4 325.3h1.2v1.2h-1.2zM163.5 328.1h1.2v1.2h-1.2zM161.2 332.7h1.2v1.2h-1.2zM160.0 330.7h1.2v1.2h-1.2zM153.5 328.1h1.2v1.2h-1.2zM177.6 312.7h1.2v1.2h-1.2zM196.9 323.7h1.2v1.2h-1.2zM175.3 320.6h1.2v1.2h-1.2zM190.6 310.2h1.2v1.2h-1.2zM192.7 314.3h1.2v1.2h-1.2z" fill="#0000f0" fill-opacity="0.85"/>
<rect x="57.5" y="235.5" width="175" height="142" fill="none" stroke="#3a3a3a" stroke-width="1"/>
<path d="M141.5 235 V377 M57 324.5 H232" stroke="#222" stroke-width="1" fill="none"/>
<path d="M52.5 377.5H57M54.5 366.8H57M54.5 360.6H57M54.5 356.1H57M54.5 352.7H57M54.5 349.9H57M54.5 347.5H57M54.5 345.4H57M54.5 343.6H57M52.5 342.0H57M54.5 331.3H57M54.5 325.1H57M54.5 320.6H57M54.5 317.2H57M54.5 314.4H57M54.5 312.0H57M54.5 309.9H57M54.5 308.1H57M52.5 306.5H57M54.5 295.8H57M54.5 289.6H57M54.5 285.1H57M54.5 281.7H57M54.5 278.9H57M54.5 276.5H57M54.5 274.4H57M54.5 272.6H57M52.5 271.0H57M54.5 260.3H57M54.5 254.1H57M54.5 249.6H57M54.5 246.2H57M54.5 243.4H57M54.5 241.0H57M54.5 238.9H57M54.5 237.1H57M52.5 235.5H57M57.5 377.5V381.5M69.8 377.5V381.5M98.5 377.5V381.5M131.3 377.5V381.5M164.6 377.5V381.5M198.0 377.5V381.5M232.0 377.5V381.5M60.4 377.5V380.2M65.2 377.5V380.2M74.9 377.5V380.2M79.4 377.5V380.2M82.8 377.5V380.2M86.0 377.5V380.2M88.5 377.5V380.2M90.8 377.5V380.2M92.8 377.5V380.2M94.5 377.5V380.2M95.9 377.5V380.2M97.3 377.5V380.2M108.4 377.5V380.2M114.1 377.5V380.2M118.2 377.5V380.2M121.4 377.5V380.2M124.0 377.5V380.2M126.2 377.5V380.2M128.1 377.5V380.2M129.8 377.5V380.2M141.3 377.5V380.2M147.2 377.5V380.2M151.3 377.5V380.2M154.6 377.5V380.2M157.2 377.5V380.2M159.4 377.5V380.2M161.4 377.5V380.2M163.1 377.5V380.2M174.7 377.5V380.2M180.5 377.5V380.2M184.7 377.5V380.2M187.9 377.5V380.2M190.6 377.5V380.2M192.8 377.5V380.2M194.8 377.5V380.2M196.5 377.5V380.2M208.2 377.5V380.2M214.2 377.5V380.2M218.5 377.5V380.2M221.8 377.5V380.2M224.5 377.5V380.2M226.7 377.5V380.2M228.7 377.5V380.2M230.4 377.5V380.2" stroke="#3a3a3a" stroke-width="1" fill="none"/>
<text transform="translate(48.40,377.30) rotate(-90) scale(0.85,1)" font-family="Liberation Sans" fill="#262626" font-size="9" text-anchor="middle">10</text>
<text transform="translate(43.40,373.20) rotate(-90) scale(0.85,1)" font-family="Liberation Sans" fill="#262626" font-size="6.2" text-anchor="start">2</text>
<text transform="translate(48.40,341.80) rotate(-90) scale(0.85,1)" font-family="Liberation Sans" fill="#262626" font-size="9" text-anchor="middle">10</text>
<text transform="translate(43.40,337.70) rotate(-90) scale(0.85,1)" font-family="Liberation Sans" fill="#262626" font-size="6.2" text-anchor="start">3</text>
<text transform="translate(48.40,306.30) rotate(-90) scale(0.85,1)" font-family="Liberation Sans" fill="#262626" font-size="9" text-anchor="middle">10</text>
<text transform="translate(43.40,302.20) rotate(-90) scale(0.85,1)" font-family="Liberation Sans" fill="#262626" font-size="6.2" text-anchor="start">4</text>
<text transform="translate(48.40,270.80) rotate(-90) scale(0.85,1)" font-family="Liberation Sans" fill="#262626" font-size="9" text-anchor="middle">10</text>
<text transform="translate(43.40,266.70) rotate(-90) scale(0.85,1)" font-family="Liberation Sans" fill="#262626" font-size="6.2" text-anchor="start">5</text>
<text transform="translate(48.40,235.30) rotate(-90) scale(0.85,1)" font-family="Liberation Sans" fill="#262626" font-size="9" text-anchor="middle">10</text>
<text transform="translate(43.40,231.20) rotate(-90) scale(0.85,1)" font-family="Liberation Sans" fill="#262626" font-size="6.2" text-anchor="start">6</text>
<text transform="translate(70.20,389.70) scale(1.1,1)" font-family="Liberation Sans" fill="#262626" font-size="8" text-anchor="middle">0</text>
<text transform="translate(97.90,389.70) scale(1.1,1)" font-family="Liberation Sans" fill="#262626" font-size="8" text-anchor="middle">10</text>
<text transform="translate(103.10,386.00) scale(1.1,1)" font-family="Liberation Sans" fill="#262626" font-size="5.7" text-anchor="start">2</text>
<text transform="translate(130.70,389.70) scale(1.1,1)" font-family="Liberation Sans" fill="#262626" font-size="8" text-anchor="middle">10</text>
<text transform="translate(135.90,386.00) scale(1.1,1)" font-family="Liberation Sans" fill="#262626" font-size="5.7" text-anchor="start">3</text>
<text transform="translate(164.00,389.70) scale(1.1,1)" font-family="Liberation Sans" fill="#262626" font-size="8" text-anchor="middle">10</text>
<text transform="translate(169.20,386.00) scale(1.1,1)" font-family="Liberation Sans" fill="#262626" font-size="5.7" text-anchor="start">4</text>
<text transform="translate(197.40,389.70) scale(1.1,1)" font-family="Liberation Sans" fill="#262626" font-size="8" text-anchor="middle">10</text>
<text transform="translate(202.60,386.00) scale(1.1,1)" font-family="Liberation Sans" fill="#262626" font-size="5.7" text-anchor="start">5</text>
<text transform="translate(231.40,389.70) scale(1.1,1)" font-family="Liberation Sans" fill="#262626" font-size="8" text-anchor="middle">10</text>
<text transform="translate(236.60,386.00) scale(1.1,1)" font-family="Liberation Sans" fill="#262626" font-size="5.7" text-anchor="start">6</text>
<text x="144.10" y="398.80" font-family="Liberation Sans" font-size="8.6" font-weight="normal" text-anchor="middle" fill="#262626" textLength="47.4" lengthAdjust="spacingAndGlyphs" >CD5 APC-A</text>
<text transform="translate(36.60,305.30) rotate(-90)" font-family="Liberation Sans" font-size="8.4" font-weight="normal" text-anchor="middle" fill="#262626" textLength="63.5" lengthAdjust="spacingAndGlyphs" >IL-10/DNMT1 PE-A</text>
<text x="137.00" y="231.60" font-family="Liberation Sans" font-size="8.5" font-weight="normal" text-anchor="middle" fill="#262626" letter-spacing="0.4">IL-6 IL-10 : H1-UR</text>
<text x="60.10" y="244.90" font-family="Liberation Sans" font-size="8.6" font-weight="normal" text-anchor="start" fill="#262626" letter-spacing="0.28">Q3-UL(0.00%)</text>
<text x="229.00" y="244.90" font-family="Liberation Sans" font-size="8.6" font-weight="normal" text-anchor="end" fill="#262626" letter-spacing="0.28">Q3-UR(45.45%)</text>
<text x="60.10" y="373.50" font-family="Liberation Sans" font-size="8.6" font-weight="normal" text-anchor="start" fill="#262626" letter-spacing="0.28">Q3-LL(0.00%)</text>
<text x="229.00" y="373.50" font-family="Liberation Sans" font-size="8.6" font-weight="normal" text-anchor="end" fill="#262626" letter-spacing="0.28">Q3-LR(54.55%)</text>
<path d="M373.1 324.9h1.2v1.2h-1.2zM348.2 321.7h1.2v1.2h-1.2zM362.0 323.2h1.2v1.2h-1.2zM374.2 319.9h1.2v1.2h-1.2zM361.4 326.1h1.2v1.2h-1.2zM366.9 317.9h1.2v1.2h-1.2zM356.7 334.6h1.2v1.2h-1.2zM357.2 325.5h1.2v1.2h-1.2zM357.3 330.5h1.2v1.2h-1.2zM360.2 318.7h1.2v1.2h-1.2zM370.9 327.2h1.2v1.2h-1.2zM364.8 324.6h1.2v1.2h-1.2zM378.5 330.7h1.2v1.2h-1.2zM370.0 330.1h1.2v1.2h-1.2zM367.0 316.3h1.2v1.2h-1.2zM375.5 331.6h1.2v1.2h-1.2zM362.8 317.1h1.2v1.2h-1.2zM355.2 332.7h1.2v1.2h-1.2zM365.7 325.0h1.2v1.2h-1.2zM352.1 318.7h1.2v1.2h-1.2zM369.6 329.2h1.2v1.2h-1.2zM378.9 325.5h1.2v1.2h-1.2zM371.0 319.8h1.2v1.2h-1.2zM359.5 321.2h1.2v1.2h-1.2zM362.4 327.9h1.2v1.2h-1.2zM369.3 317.7h1.2v1.2h-1.2zM376.9 320.5h1.2v1.2h-1.2zM359.6 335.5h1.2v1.2h-1.2zM359.5 321.1h1.2v1.2h-1.2zM375.9 327.3h1.2v1.2h-1.2zM366.4 327.8h1.2v1.2h-1.2zM367.8 330.6h1.2v1.2h-1.2zM369.3 330.2h1.2v1.2h-1.2zM355.6 311.4h1.2v1.2h-1.2zM362.4 322.6h1.2v1.2h-1.2zM375.6 331.8h1.2v1.2h-1.2zM362.3 320.9h1.2v1.2h-1.2zM361.9 335.4h1.2v1.2h-1.2zM367.3 326.7h1.2v1.2h-1.2zM368.3 318.6h1.2v1.2h-1.2zM372.2 328.4h1.2v1.2h-1.2zM355.2 336.1h1.2v1.2h-1.2zM365.6 321.6h1.2v1.2h-1.2zM377.9 328.4h1.2v1.2h-1.2zM364.4 320.4h1.2v1.2h-1.2zM368.2 322.1h1.2v1.2h-1.2zM348.2 325.9h1.2v1.2h-1.2zM374.7 328.2h1.2v1.2h-1.2zM373.6 327.3h1.2v1.2h-1.2zM373.0 326.5h1.2v1.2h-1.2zM362.1 338.6h1.2v1.2h-1.2zM368.1 319.3h1.2v1.2h-1.2zM363.3 315.0h1.2v1.2h-1.2zM373.4 328.4h1.2v1.2h-1.2zM363.9 326.4h1.2v1.2h-1.2zM372.7 317.4h1.2v1.2h-1.2zM349.5 334.9h1.2v1.2h-1.2zM360.5 321.4h1.2v1.2h-1.2zM333.0 317.5h1.2v1.2h-1.2zM362.5 327.7h1.2v1.2h-1.2zM372.5 328.9h1.2v1.2h-1.2zM361.3 338.4h1.2v1.2h-1.2zM374.2 316.8h1.2v1.2h-1.2zM353.2 318.3h1.2v1.2h-1.2zM360.4 323.8h1.2v1.2h-1.2zM354.0 322.9h1.2v1.2h-1.2zM358.6 324.9h1.2v1.2h-1.2zM358.9 321.4h1.2v1.2h-1.2zM348.0 316.7h1.2v1.2h-1.2zM353.4 322.9h1.2v1.2h-1.2zM377.8 329.3h1.2v1.2h-1.2zM361.2 329.7h1.2v1.2h-1.2zM374.0 321.7h1.2v1.2h-1.2zM350.2 328.3h1.2v1.2h-1.2zM362.8 327.6h1.2v1.2h-1.2zM369.9 322.6h1.2v1.2h-1.2zM362.2 323.4h1.2v1.2h-1.2zM358.5 325.6h1.2v1.2h-1.2zM362.0 340.9h1.2v1.2h-1.2zM364.4 326.3h1.2v1.2h-1.2zM373.2 320.4h1.2v1.2h-1.2zM377.2 324.5h1.2v1.2h-1.2zM349.6 322.2h1.2v1.2h-1.2zM341.6 331.7h1.2v1.2h-1.2zM361.9 313.3h1.2v1.2h-1.2zM364.1 319.3h1.2v1.2h-1.2zM371.9 330.0h1.2v1.2h-1.2zM375.7 327.7h1.2v1.2h-1.2zM356.8 325.5h1.2v1.2h-1.2zM377.4 329.3h1.2v1.2h-1.2zM366.8 318.0h1.2v1.2h-1.2zM344.7 327.4h1.2v1.2h-1.2zM374.5 319.0h1.2v1.2h-1.2zM367.1 318.2h1.2v1.2h-1.2zM367.2 328.1h1.2v1.2h-1.2zM346.6 320.9h1.2v1.2h-1.2zM360.7 323.4h1.2v1.2h-1.2zM365.8 328.8h1.2v1.2h-1.2zM362.3 319.6h1.2v1.2h-1.2zM371.5 328.7h1.2v1.2h-1.2zM377.8 337.8h1.2v1.2h-1.2zM380.7 324.3h1.2v1.2h-1.2zM377.7 330.7h1.2v1.2h-1.2zM362.4 329.7h1.2v1.2h-1.2zM381.2 318.3h1.2v1.2h-1.2zM366.9 317.8h1.2v1.2h-1.2zM373.4 325.4h1.2v1.2h-1.2zM361.4 313.5h1.2v1.2h-1.2zM348.8 325.6h1.2v1.2h-1.2zM339.2 326.8h1.2v1.2h-1.2zM366.1 328.0h1.2v1.2h-1.2zM356.6 327.9h1.2v1.2h-1.2zM364.0 332.8h1.2v1.2h-1.2zM373.8 323.5h1.2v1.2h-1.2zM347.3 332.9h1.2v1.2h-1.2zM344.8 328.3h1.2v1.2h-1.2zM366.9 328.3h1.2v1.2h-1.2zM368.0 324.5h1.2v1.2h-1.2zM361.1 330.7h1.2v1.2h-1.2zM358.3 321.2h1.2v1.2h-1.2zM346.6 329.5h1.2v1.2h-1.2zM363.1 331.6h1.2v1.2h-1.2zM355.9 321.7h1.2v1.2h-1.2zM368.8 320.1h1.2v1.2h-1.2zM374.4 321.2h1.2v1.2h-1.2zM358.0 325.2h1.2v1.2h-1.2zM368.6 327.4h1.2v1.2h-1.2zM366.1 330.3h1.2v1.2h-1.2zM371.7 336.0h1.2v1.2h-1.2zM380.8 334.5h1.2v1.2h-1.2zM371.3 327.0h1.2v1.2h-1.2zM371.8 323.3h1.2v1.2h-1.2zM372.7 318.7h1.2v1.2h-1.2zM359.4 330.0h1.2v1.2h-1.2zM364.0 328.3h1.2v1.2h-1.2zM367.8 323.9h1.2v1.2h-1.2zM377.6 324.5h1.2v1.2h-1.2zM378.2 324.8h1.2v1.2h-1.2zM375.1 311.1h1.2v1.2h-1.2zM352.1 325.1h1.2v1.2h-1.2zM363.6 327.2h1.2v1.2h-1.2zM345.2 324.7h1.2v1.2h-1.2zM358.2 319.5h1.2v1.2h-1.2zM346.1 325.7h1.2v1.2h-1.2zM376.8 328.1h1.2v1.2h-1.2zM372.3 335.5h1.2v1.2h-1.2zM352.3 331.3h1.2v1.2h-1.2zM367.7 328.7h1.2v1.2h-1.2zM372.1 325.1h1.2v1.2h-1.2zM380.9 318.0h1.2v1.2h-1.2zM373.1 322.8h1.2v1.2h-1.2zM365.4 317.8h1.2v1.2h-1.2zM363.0 324.9h1.2v1.2h-1.2zM370.9 331.4h1.2v1.2h-1.2zM367.4 331.3h1.2v1.2h-1.2zM358.8 330.5h1.2v1.2h-1.2zM350.7 325.5h1.2v1.2h-1.2zM375.6 331.0h1.2v1.2h-1.2zM356.2 323.9h1.2v1.2h-1.2zM361.1 314.5h1.2v1.2h-1.2zM372.8 326.2h1.2v1.2h-1.2zM363.4 325.6h1.2v1.2h-1.2zM376.4 315.7h1.2v1.2h-1.2zM351.8 322.5h1.2v1.2h-1.2zM372.4 311.8h1.2v1.2h-1.2zM349.5 322.8h1.2v1.2h-1.2zM347.6 332.2h1.2v1.2h-1.2zM352.6 321.8h1.2v1.2h-1.2zM365.3 332.7h1.2v1.2h-1.2zM356.6 326.7h1.2v1.2h-1.2zM348.9 321.3h1.2v1.2h-1.2zM377.2 315.5h1.2v1.2h-1.2zM353.5 329.6h1.2v1.2h-1.2zM362.8 329.1h1.2v1.2h-1.2zM366.8 317.1h1.2v1.2h-1.2zM358.8 323.1h1.2v1.2h-1.2zM368.0 331.6h1.2v1.2h-1.2zM370.8 321.3h1.2v1.2h-1.2zM362.9 327.6h1.2v1.2h-1.2zM375.4 314.6h1.2v1.2h-1.2zM357.6 320.3h1.2v1.2h-1.2zM352.4 329.5h1.2v1.2h-1.2zM366.3 318.8h1.2v1.2h-1.2zM353.4 317.4h1.2v1.2h-1.2zM368.2 317.7h1.2v1.2h-1.2zM362.9 323.3h1.2v1.2h-1.2zM358.9 316.6h1.2v1.2h-1.2zM370.4 324.8h1.2v1.2h-1.2zM369.9 328.5h1.2v1.2h-1.2zM331.6 334.0h1.2v1.2h-1.2zM360.5 323.2h1.2v1.2h-1.2zM365.5 334.4h1.2v1.2h-1.2zM369.4 328.5h1.2v1.2h-1.2zM358.0 324.2h1.2v1.2h-1.2zM351.5 328.3h1.2v1.2h-1.2zM365.4 333.9h1.2v1.2h-1.2zM371.5 333.8h1.2v1.2h-1.2zM341.5 329.6h1.2v1.2h-1.2zM347.6 324.9h1.2v1.2h-1.2zM357.6 330.1h1.2v1.2h-1.2zM335.7 326.6h1.2v1.2h-1.2zM357.5 326.4h1.2v1.2h-1.2zM373.0 326.9h1.2v1.2h-1.2zM352.4 335.5h1.2v1.2h-1.2zM365.5 318.7h1.2v1.2h-1.2zM354.3 325.0h1.2v1.2h-1.2zM368.6 319.3h1.2v1.2h-1.2zM371.1 330.2h1.2v1.2h-1.2zM378.3 331.6h1.2v1.2h-1.2zM364.8 333.0h1.2v1.2h-1.2zM375.5 323.5h1.2v1.2h-1.2zM368.4 325.7h1.2v1.2h-1.2zM358.8 329.7h1.2v1.2h-1.2zM380.2 326.5h1.2v1.2h-1.2zM357.4 327.1h1.2v1.2h-1.2zM365.8 326.5h1.2v1.2h-1.2zM373.2 327.0h1.2v1.2h-1.2zM373.5 324.8h1.2v1.2h-1.2zM355.0 327.9h1.2v1.2h-1.2zM367.2 317.3h1.2v1.2h-1.2zM357.9 323.1h1.2v1.2h-1.2zM362.4 318.1h1.2v1.2h-1.2zM347.5 325.0h1.2v1.2h-1.2zM366.4 321.4h1.2v1.2h-1.2zM347.0 328.4h1.2v1.2h-1.2zM368.0 332.5h1.2v1.2h-1.2zM368.1 318.6h1.2v1.2h-1.2zM373.3 321.1h1.2v1.2h-1.2zM375.6 327.3h1.2v1.2h-1.2zM345.8 333.5h1.2v1.2h-1.2zM350.9 329.8h1.2v1.2h-1.2zM353.0 327.9h1.2v1.2h-1.2zM357.8 325.1h1.2v1.2h-1.2zM373.6 323.0h1.2v1.2h-1.2zM360.3 327.6h1.2v1.2h-1.2zM357.6 328.3h1.2v1.2h-1.2zM351.6 326.4h1.2v1.2h-1.2zM357.1 322.2h1.2v1.2h-1.2zM359.2 316.5h1.2v1.2h-1.2zM362.8 320.7h1.2v1.2h-1.2zM348.3 323.4h1.2v1.2h-1.2zM363.1 319.0h1.2v1.2h-1.2zM370.2 327.3h1.2v1.2h-1.2zM367.8 317.5h1.2v1.2h-1.2zM350.3 323.8h1.2v1.2h-1.2zM373.0 327.4h1.2v1.2h-1.2zM372.8 330.0h1.2v1.2h-1.2zM367.2 326.8h1.2v1.2h-1.2zM350.5 332.2h1.2v1.2h-1.2zM347.8 322.2h1.2v1.2h-1.2zM364.4 321.1h1.2v1.2h-1.2zM352.7 331.5h1.2v1.2h-1.2zM349.3 320.6h1.2v1.2h-1.2zM373.8 324.6h1.2v1.2h-1.2zM374.0 315.8h1.2v1.2h-1.2zM371.0 331.7h1.2v1.2h-1.2zM378.4 329.4h1.2v1.2h-1.2zM373.9 321.3h1.2v1.2h-1.2zM351.3 315.7h1.2v1.2h-1.2zM376.6 326.8h1.2v1.2h-1.2zM365.3 327.0h1.2v1.2h-1.2zM368.8 331.9h1.2v1.2h-1.2zM381.2 335.7h1.2v1.2h-1.2zM368.8 326.7h1.2v1.2h-1.2zM381.3 324.2h1.2v1.2h-1.2zM364.6 324.1h1.2v1.2h-1.2zM359.8 323.8h1.2v1.2h-1.2zM356.2 317.8h1.2v1.2h-1.2zM362.5 320.4h1.2v1.2h-1.2zM345.5 324.9h1.2v1.2h-1.2zM363.3 316.3h1.2v1.2h-1.2zM362.7 318.1h1.2v1.2h-1.2zM358.1 332.2h1.2v1.2h-1.2zM339.5 321.7h1.2v1.2h-1.2zM340.4 329.9h1.2v1.2h-1.2zM371.7 331.5h1.2v1.2h-1.2zM353.5 325.5h1.2v1.2h-1.2zM379.1 330.0h1.2v1.2h-1.2zM356.1 324.4h1.2v1.2h-1.2zM367.9 320.6h1.2v1.2h-1.2zM348.1 324.8h1.2v1.2h-1.2zM357.0 325.8h1.2v1.2h-1.2zM361.6 326.1h1.2v1.2h-1.2zM370.4 325.8h1.2v1.2h-1.2zM381.5 323.2h1.2v1.2h-1.2zM374.6 331.3h1.2v1.2h-1.2zM348.0 324.3h1.2v1.2h-1.2zM364.1 323.1h1.2v1.2h-1.2zM362.1 330.6h1.2v1.2h-1.2zM357.0 319.9h1.2v1.2h-1.2zM370.5 325.4h1.2v1.2h-1.2zM381.4 333.6h1.2v1.2h-1.2zM359.0 325.8h1.2v1.2h-1.2zM376.3 333.3h1.2v1.2h-1.2zM379.4 324.1h1.2v1.2h-1.2zM352.3 322.7h1.2v1.2h-1.2zM380.5 324.6h1.2v1.2h-1.2zM381.4 322.4h1.2v1.2h-1.2zM367.3 323.5h1.2v1.2h-1.2zM381.2 323.1h1.2v1.2h-1.2zM366.8 329.9h1.2v1.2h-1.2zM376.7 327.7h1.2v1.2h-1.2zM371.2 324.3h1.2v1.2h-1.2zM354.5 321.4h1.2v1.2h-1.2zM366.9 343.2h1.2v1.2h-1.2zM362.2 324.4h1.2v1.2h-1.2zM358.6 333.3h1.2v1.2h-1.2zM351.3 319.0h1.2v1.2h-1.2zM355.4 321.4h1.2v1.2h-1.2zM350.4 332.3h1.2v1.2h-1.2zM376.5 319.4h1.2v1.2h-1.2zM342.4 319.6h1.2v1.2h-1.2zM364.9 325.2h1.2v1.2h-1.2zM357.3 321.5h1.2v1.2h-1.2zM350.3 323.9h1.2v1.2h-1.2zM372.0 326.4h1.2v1.2h-1.2zM355.2 330.3h1.2v1.2h-1.2zM377.3 326.5h1.2v1.2h-1.2zM362.0 327.1h1.2v1.2h-1.2zM367.7 332.8h1.2v1.2h-1.2zM362.6 333.3h1.2v1.2h-1.2zM371.2 323.6h1.2v1.2h-1.2zM374.3 315.3h1.2v1.2h-1.2zM359.1 320.0h1.2v1.2h-1.2zM363.9 331.4h1.2v1.2h-1.2zM380.6 322.9h1.2v1.2h-1.2zM357.7 321.6h1.2v1.2h-1.2zM380.1 323.0h1.2v1.2h-1.2zM359.7 334.3h1.2v1.2h-1.2zM357.9 325.9h1.2v1.2h-1.2zM345.4 323.5h1.2v1.2h-1.2zM354.7 321.7h1.2v1.2h-1.2zM344.8 319.5h1.2v1.2h-1.2zM357.7 341.1h1.2v1.2h-1.2zM371.6 325.3h1.2v1.2h-1.2zM363.3 326.4h1.2v1.2h-1.2zM357.4 323.8h1.2v1.2h-1.2zM352.7 331.4h1.2v1.2h-1.2zM356.4 320.0h1.2v1.2h-1.2zM348.0 314.9h1.2v1.2h-1.2zM350.0 322.4h1.2v1.2h-1.2zM378.6 327.4h1.2v1.2h-1.2zM366.6 338.0h1.2v1.2h-1.2zM353.9 325.1h1.2v1.2h-1.2zM371.4 320.8h1.2v1.2h-1.2zM380.5 324.3h1.2v1.2h-1.2zM357.0 321.2h1.2v1.2h-1.2zM362.8 321.2h1.2v1.2h-1.2zM350.2 326.1h1.2v1.2h-1.2zM346.4 327.2h1.2v1.2h-1.2zM379.2 321.9h1.2v1.2h-1.2zM362.3 331.6h1.2v1.2h-1.2zM355.9 325.1h1.2v1.2h-1.2zM346.1 326.2h1.2v1.2h-1.2zM379.6 322.7h1.2v1.2h-1.2zM375.6 327.6h1.2v1.2h-1.2zM369.2 327.8h1.2v1.2h-1.2zM380.2 329.2h1.2v1.2h-1.2zM360.3 321.1h1.2v1.2h-1.2zM367.0 329.1h1.2v1.2h-1.2zM372.7 322.4h1.2v1.2h-1.2zM360.5 326.1h1.2v1.2h-1.2zM369.2 329.7h1.2v1.2h-1.2zM361.4 334.0h1.2v1.2h-1.2zM369.0 323.1h1.2v1.2h-1.2zM365.8 319.5h1.2v1.2h-1.2zM342.2 326.4h1.2v1.2h-1.2zM365.0 332.4h1.2v1.2h-1.2zM348.2 323.8h1.2v1.2h-1.2zM354.6 339.0h1.2v1.2h-1.2zM345.7 315.2h1.2v1.2h-1.2zM372.9 333.9h1.2v1.2h-1.2zM360.4 332.1h1.2v1.2h-1.2zM359.7 331.8h1.2v1.2h-1.2zM377.7 321.0h1.2v1.2h-1.2zM371.8 333.1h1.2v1.2h-1.2zM361.6 332.1h1.2v1.2h-1.2zM341.1 332.5h1.2v1.2h-1.2zM371.2 324.4h1.2v1.2h-1.2zM361.0 324.3h1.2v1.2h-1.2zM360.0 332.8h1.2v1.2h-1.2zM372.0 327.5h1.2v1.2h-1.2zM357.0 323.6h1.2v1.2h-1.2zM363.1 321.0h1.2v1.2h-1.2zM373.7 327.1h1.2v1.2h-1.2zM370.2 318.1h1.2v1.2h-1.2zM357.2 328.8h1.2v1.2h-1.2zM380.0 326.5h1.2v1.2h-1.2zM376.6 317.0h1.2v1.2h-1.2zM379.2 328.1h1.2v1.2h-1.2zM363.4 332.3h1.2v1.2h-1.2zM366.3 327.0h1.2v1.2h-1.2zM375.6 318.3h1.2v1.2h-1.2zM368.8 322.3h1.2v1.2h-1.2zM365.5 330.2h1.2v1.2h-1.2zM362.9 318.4h1.2v1.2h-1.2zM360.7 323.5h1.2v1.2h-1.2zM356.8 331.9h1.2v1.2h-1.2zM356.9 324.0h1.2v1.2h-1.2zM368.5 322.4h1.2v1.2h-1.2zM360.7 330.1h1.2v1.2h-1.2zM348.5 334.5h1.2v1.2h-1.2zM364.6 327.8h1.2v1.2h-1.2zM381.8 318.2h1.2v1.2h-1.2zM379.0 316.7h1.2v1.2h-1.2zM341.9 324.2h1.2v1.2h-1.2zM354.7 315.6h1.2v1.2h-1.2zM372.6 325.1h1.2v1.2h-1.2zM364.9 330.6h1.2v1.2h-1.2zM364.8 310.9h1.2v1.2h-1.2zM362.6 324.6h1.2v1.2h-1.2zM364.7 327.4h1.2v1.2h-1.2zM352.9 322.6h1.2v1.2h-1.2zM377.0 327.8h1.2v1.2h-1.2zM352.6 328.3h1.2v1.2h-1.2zM362.5 331.4h1.2v1.2h-1.2zM380.9 340.6h1.2v1.2h-1.2zM376.0 327.4h1.2v1.2h-1.2zM364.0 320.6h1.2v1.2h-1.2zM364.0 319.9h1.2v1.2h-1.2zM357.5 318.7h1.2v1.2h-1.2zM358.6 329.5h1.2v1.2h-1.2zM361.5 327.5h1.2v1.2h-1.2zM378.7 328.2h1.2v1.2h-1.2zM359.3 326.7h1.2v1.2h-1.2zM370.3 334.4h1.2v1.2h-1.2zM368.8 331.6h1.2v1.2h-1.2zM368.5 331.2h1.2v1.2h-1.2zM361.0 321.8h1.2v1.2h-1.2zM372.2 323.8h1.2v1.2h-1.2zM365.9 318.3h1.2v1.2h-1.2zM365.2 322.0h1.2v1.2h-1.2zM359.0 326.1h1.2v1.2h-1.2zM340.6 318.8h1.2v1.2h-1.2zM372.2 322.0h1.2v1.2h-1.2zM372.5 336.8h1.2v1.2h-1.2zM358.7 324.5h1.2v1.2h-1.2zM362.3 317.2h1.2v1.2h-1.2zM367.3 318.6h1.2v1.2h-1.2zM353.6 325.1h1.2v1.2h-1.2zM372.0 330.2h1.2v1.2h-1.2zM372.0 325.1h1.2v1.2h-1.2zM373.6 330.4h1.2v1.2h-1.2zM374.3 327.3h1.2v1.2h-1.2zM343.5 319.4h1.2v1.2h-1.2zM370.0 331.3h1.2v1.2h-1.2zM359.5 323.1h1.2v1.2h-1.2zM376.4 336.0h1.2v1.2h-1.2zM375.9 322.3h1.2v1.2h-1.2zM373.2 324.8h1.2v1.2h-1.2zM363.4 322.5h1.2v1.2h-1.2zM369.1 324.1h1.2v1.2h-1.2zM363.7 328.1h1.2v1.2h-1.2zM352.9 324.5h1.2v1.2h-1.2zM374.9 332.2h1.2v1.2h-1.2zM348.5 327.9h1.2v1.2h-1.2zM378.6 334.4h1.2v1.2h-1.2zM375.5 326.0h1.2v1.2h-1.2zM378.9 332.8h1.2v1.2h-1.2zM375.8 332.3h1.2v1.2h-1.2zM368.8 324.8h1.2v1.2h-1.2zM350.0 339.7h1.2v1.2h-1.2zM357.9 334.0h1.2v1.2h-1.2zM370.6 328.6h1.2v1.2h-1.2zM362.3 324.5h1.2v1.2h-1.2zM368.5 325.2h1.2v1.2h-1.2zM357.0 324.7h1.2v1.2h-1.2zM355.9 327.2h1.2v1.2h-1.2zM367.7 319.4h1.2v1.2h-1.2zM372.6 326.0h1.2v1.2h-1.2zM364.5 322.3h1.2v1.2h-1.2zM353.8 334.9h1.2v1.2h-1.2zM346.3 329.9h1.2v1.2h-1.2zM377.5 334.9h1.2v1.2h-1.2zM352.0 338.9h1.2v1.2h-1.2zM354.9 328.3h1.2v1.2h-1.2zM356.5 336.9h1.2v1.2h-1.2zM374.2 327.8h1.2v1.2h-1.2zM356.1 329.2h1.2v1.2h-1.2zM370.4 320.5h1.2v1.2h-1.2zM367.6 326.2h1.2v1.2h-1.2zM351.9 333.6h1.2v1.2h-1.2zM366.1 328.5h1.2v1.2h-1.2zM351.0 323.6h1.2v1.2h-1.2zM362.6 325.8h1.2v1.2h-1.2zM372.4 321.6h1.2v1.2h-1.2zM361.7 322.0h1.2v1.2h-1.2zM354.3 317.8h1.2v1.2h-1.2zM359.7 331.9h1.2v1.2h-1.2zM362.2 331.8h1.2v1.2h-1.2zM367.9 325.1h1.2v1.2h-1.2zM339.2 318.3h1.2v1.2h-1.2zM344.1 324.4h1.2v1.2h-1.2zM369.5 336.9h1.2v1.2h-1.2zM362.8 318.4h1.2v1.2h-1.2zM364.2 322.9h1.2v1.2h-1.2zM366.4 323.1h1.2v1.2h-1.2zM362.3 330.2h1.2v1.2h-1.2zM359.1 318.7h1.2v1.2h-1.2zM365.2 327.2h1.2v1.2h-1.2zM371.3 321.2h1.2v1.2h-1.2zM367.7 323.8h1.2v1.2h-1.2zM364.2 319.0h1.2v1.2h-1.2zM352.6 328.7h1.2v1.2h-1.2zM366.5 323.0h1.2v1.2h-1.2zM351.4 322.5h1.2v1.2h-1.2zM356.6 331.8h1.2v1.2h-1.2zM365.6 327.7h1.2v1.2h-1.2zM365.2 338.8h1.2v1.2h-1.2zM375.8 328.1h1.2v1.2h-1.2zM373.5 326.2h1.2v1.2h-1.2zM369.3 326.4h1.2v1.2h-1.2zM360.4 341.0h1.2v1.2h-1.2zM363.8 332.7h1.2v1.2h-1.2zM361.3 324.2h1.2v1.2h-1.2zM381.2 327.5h1.2v1.2h-1.2zM368.9 322.9h1.2v1.2h-1.2zM356.9 329.4h1.2v1.2h-1.2zM354.8 323.0h1.2v1.2h-1.2zM377.4 322.7h1.2v1.2h-1.2zM354.5 328.2h1.2v1.2h-1.2zM368.0 333.3h1.2v1.2h-1.2zM365.9 330.5h1.2v1.2h-1.2zM375.6 329.9h1.2v1.2h-1.2zM354.5 326.0h1.2v1.2h-1.2zM369.0 312.4h1.2v1.2h-1.2zM366.2 324.8h1.2v1.2h-1.2zM372.7 324.6h1.2v1.2h-1.2zM378.8 328.7h1.2v1.2h-1.2zM365.1 335.5h1.2v1.2h-1.2zM361.6 330.0h1.2v1.2h-1.2zM373.6 316.1h1.2v1.2h-1.2zM348.7 325.9h1.2v1.2h-1.2zM366.1 324.4h1.2v1.2h-1.2zM353.4 329.7h1.2v1.2h-1.2zM350.9 325.4h1.2v1.2h-1.2zM346.9 315.1h1.2v1.2h-1.2zM346.1 320.7h1.2v1.2h-1.2zM373.1 323.9h1.2v1.2h-1.2zM373.5 314.3h1.2v1.2h-1.2zM365.2 325.0h1.2v1.2h-1.2zM375.3 324.1h1.2v1.2h-1.2zM364.4 331.6h1.2v1.2h-1.2zM358.7 325.0h1.2v1.2h-1.2zM352.3 322.2h1.2v1.2h-1.2zM372.4 324.9h1.2v1.2h-1.2zM372.9 325.7h1.2v1.2h-1.2zM377.8 331.0h1.2v1.2h-1.2zM355.4 320.3h1.2v1.2h-1.2zM361.0 313.1h1.2v1.2h-1.2zM349.5 340.9h1.2v1.2h-1.2zM376.6 329.8h1.2v1.2h-1.2zM371.8 325.8h1.2v1.2h-1.2zM369.7 339.1h1.2v1.2h-1.2zM364.0 319.3h1.2v1.2h-1.2zM362.6 321.2h1.2v1.2h-1.2zM360.2 323.1h1.2v1.2h-1.2zM376.0 328.3h1.2v1.2h-1.2zM357.3 323.0h1.2v1.2h-1.2zM373.8 329.9h1.2v1.2h-1.2zM367.3 323.6h1.2v1.2h-1.2zM353.3 332.8h1.2v1.2h-1.2zM348.5 328.2h1.2v1.2h-1.2zM355.7 316.3h1.2v1.2h-1.2zM363.8 325.4h1.2v1.2h-1.2zM350.2 319.2h1.2v1.2h-1.2zM371.0 324.8h1.2v1.2h-1.2zM376.6 325.5h1.2v1.2h-1.2zM370.1 338.0h1.2v1.2h-1.2zM345.8 324.2h1.2v1.2h-1.2zM338.7 316.6h1.2v1.2h-1.2zM373.7 326.1h1.2v1.2h-1.2zM380.4 319.0h1.2v1.2h-1.2zM359.9 335.7h1.2v1.2h-1.2zM369.9 329.5h1.2v1.2h-1.2zM361.3 334.3h1.2v1.2h-1.2zM357.3 323.3h1.2v1.2h-1.2zM375.0 319.7h1.2v1.2h-1.2zM358.2 327.1h1.2v1.2h-1.2zM373.5 317.8h1.2v1.2h-1.2zM381.0 320.1h1.2v1.2h-1.2zM362.9 321.2h1.2v1.2h-1.2zM379.4 324.7h1.2v1.2h-1.2zM349.9 317.0h1.2v1.2h-1.2zM374.2 314.0h1.2v1.2h-1.2zM364.3 333.5h1.2v1.2h-1.2zM371.8 322.4h1.2v1.2h-1.2zM364.7 324.4h1.2v1.2h-1.2zM355.6 328.8h1.2v1.2h-1.2zM381.9 327.9h1.2v1.2h-1.2zM347.5 321.8h1.2v1.2h-1.2zM369.1 323.0h1.2v1.2h-1.2zM355.9 334.5h1.2v1.2h-1.2zM379.3 332.5h1.2v1.2h-1.2zM363.1 329.7h1.2v1.2h-1.2zM373.6 334.8h1.2v1.2h-1.2zM363.8 315.0h1.2v1.2h-1.2zM352.2 326.3h1.2v1.2h-1.2zM340.7 324.0h1.2v1.2h-1.2zM380.3 314.8h1.2v1.2h-1.2zM366.8 327.5h1.2v1.2h-1.2zM351.6 329.2h1.2v1.2h-1.2zM360.8 327.0h1.2v1.2h-1.2zM375.0 315.4h1.2v1.2h-1.2zM347.9 324.4h1.2v1.2h-1.2zM375.0 326.8h1.2v1.2h-1.2zM361.5 324.2h1.2v1.2h-1.2zM360.2 327.2h1.2v1.2h-1.2zM378.2 328.4h1.2v1.2h-1.2zM366.5 333.6h1.2v1.2h-1.2zM353.2 326.9h1.2v1.2h-1.2zM374.2 340.4h1.2v1.2h-1.2zM369.1 326.8h1.2v1.2h-1.2zM376.5 327.2h1.2v1.2h-1.2zM354.0 330.0h1.2v1.2h-1.2zM351.8 325.2h1.2v1.2h-1.2zM371.0 323.8h1.2v1.2h-1.2zM359.4 332.6h1.2v1.2h-1.2zM340.5 313.7h1.2v1.2h-1.2zM357.7 315.7h1.2v1.2h-1.2zM371.0 337.3h1.2v1.2h-1.2zM356.1 329.8h1.2v1.2h-1.2zM378.1 328.7h1.2v1.2h-1.2zM358.6 327.4h1.2v1.2h-1.2zM363.0 327.3h1.2v1.2h-1.2zM346.3 320.4h1.2v1.2h-1.2zM355.3 324.1h1.2v1.2h-1.2zM362.0 319.9h1.2v1.2h-1.2zM370.4 332.2h1.2v1.2h-1.2zM366.1 329.3h1.2v1.2h-1.2zM375.7 327.1h1.2v1.2h-1.2zM340.1 327.9h1.2v1.2h-1.2zM364.3 325.0h1.2v1.2h-1.2zM362.4 319.3h1.2v1.2h-1.2zM352.5 335.3h1.2v1.2h-1.2zM363.5 329.4h1.2v1.2h-1.2zM355.8 324.8h1.2v1.2h-1.2zM368.7 329.0h1.2v1.2h-1.2zM360.2 332.9h1.2v1.2h-1.2zM369.6 332.4h1.2v1.2h-1.2zM354.0 329.4h1.2v1.2h-1.2zM377.9 330.4h1.2v1.2h-1.2zM368.4 324.5h1.2v1.2h-1.2zM380.4 333.3h1.2v1.2h-1.2zM362.5 331.1h1.2v1.2h-1.2zM358.5 331.1h1.2v1.2h-1.2zM365.5 318.5h1.2v1.2h-1.2zM358.9 329.4h1.2v1.2h-1.2zM352.6 329.5h1.2v1.2h-1.2zM364.2 330.2h1.2v1.2h-1.2zM305.7 317.9h1.2v1.2h-1.2zM319.0 324.1h1.2v1.2h-1.2zM358.5 332.5h1.2v1.2h-1.2zM335.9 325.7h1.2v1.2h-1.2zM360.4 335.3h1.2v1.2h-1.2zM351.6 329.0h1.2v1.2h-1.2zM369.0 324.9h1.2v1.2h-1.2zM342.9 318.5h1.2v1.2h-1.2zM333.6 326.8h1.2v1.2h-1.2zM362.7 316.4h1.2v1.2h-1.2zM348.0 332.2h1.2v1.2h-1.2zM331.4 314.9h1.2v1.2h-1.2zM316.5 314.5h1.2v1.2h-1.2zM353.1 318.9h1.2v1.2h-1.2zM346.3 312.1h1.2v1.2h-1.2zM348.5 326.7h1.2v1.2h-1.2zM316.7 319.5h1.2v1.2h-1.2zM334.1 322.1h1.2v1.2h-1.2zM349.9 330.9h1.2v1.2h-1.2zM358.9 307.7h1.2v1.2h-1.2zM367.2 323.8h1.2v1.2h-1.2zM339.0 328.8h1.2v1.2h-1.2zM361.7 334.2h1.2v1.2h-1.2zM374.1 326.9h1.2v1.2h-1.2zM343.4 320.3h1.2v1.2h-1.2zM351.5 333.5h1.2v1.2h-1.2zM319.5 333.5h1.2v1.2h-1.2zM337.7 344.0h1.2v1.2h-1.2zM327.2 343.5h1.2v1.2h-1.2zM365.1 324.2h1.2v1.2h-1.2zM349.4 337.1h1.2v1.2h-1.2zM381.8 327.6h1.2v1.2h-1.2zM356.3 317.5h1.2v1.2h-1.2zM367.6 331.7h1.2v1.2h-1.2zM362.3 336.6h1.2v1.2h-1.2zM356.6 306.5h1.2v1.2h-1.2zM333.0 336.8h1.2v1.2h-1.2zM380.6 319.0h1.2v1.2h-1.2zM351.1 339.1h1.2v1.2h-1.2zM318.7 327.8h1.2v1.2h-1.2zM342.1 327.1h1.2v1.2h-1.2zM332.4 337.3h1.2v1.2h-1.2zM374.6 323.1h1.2v1.2h-1.2zM372.2 343.0h1.2v1.2h-1.2zM381.2 318.0h1.2v1.2h-1.2zM370.7 320.9h1.2v1.2h-1.2zM340.8 316.9h1.2v1.2h-1.2zM317.8 330.3h1.2v1.2h-1.2zM335.3 325.2h1.2v1.2h-1.2zM360.4 332.4h1.2v1.2h-1.2zM302.6 334.8h1.2v1.2h-1.2zM341.6 332.3h1.2v1.2h-1.2zM368.5 334.6h1.2v1.2h-1.2zM337.0 334.7h1.2v1.2h-1.2zM350.6 325.1h1.2v1.2h-1.2zM335.9 319.7h1.2v1.2h-1.2zM378.7 317.7h1.2v1.2h-1.2zM374.9 331.8h1.2v1.2h-1.2zM333.9 321.3h1.2v1.2h-1.2zM337.1 317.7h1.2v1.2h-1.2zM355.3 318.8h1.2v1.2h-1.2zM365.9 323.8h1.2v1.2h-1.2zM361.1 327.5h1.2v1.2h-1.2zM365.5 323.5h1.2v1.2h-1.2zM371.9 317.1h1.2v1.2h-1.2zM376.2 330.0h1.2v1.2h-1.2zM375.1 307.2h1.2v1.2h-1.2zM357.5 322.8h1.2v1.2h-1.2zM345.5 334.0h1.2v1.2h-1.2zM353.1 327.6h1.2v1.2h-1.2zM367.8 335.2h1.2v1.2h-1.2zM370.4 326.3h1.2v1.2h-1.2zM368.1 330.1h1.2v1.2h-1.2zM380.0 325.7h1.2v1.2h-1.2zM378.0 321.8h1.2v1.2h-1.2zM364.9 328.4h1.2v1.2h-1.2zM339.9 333.3h1.2v1.2h-1.2zM358.8 309.1h1.2v1.2h-1.2zM369.1 318.6h1.2v1.2h-1.2zM370.3 308.0h1.2v1.2h-1.2zM347.8 317.5h1.2v1.2h-1.2zM324.6 314.6h1.2v1.2h-1.2zM349.8 321.2h1.2v1.2h-1.2zM341.9 322.7h1.2v1.2h-1.2zM352.8 332.9h1.2v1.2h-1.2zM375.4 335.1h1.2v1.2h-1.2zM367.8 318.4h1.2v1.2h-1.2zM333.3 321.0h1.2v1.2h-1.2zM340.6 330.1h1.2v1.2h-1.2zM358.2 319.7h1.2v1.2h-1.2zM375.9 321.6h1.2v1.2h-1.2zM353.3 309.8h1.2v1.2h-1.2zM358.6 330.9h1.2v1.2h-1.2zM326.1 327.1h1.2v1.2h-1.2zM345.2 317.1h1.2v1.2h-1.2zM339.4 314.1h1.2v1.2h-1.2zM357.9 316.2h1.2v1.2h-1.2zM349.0 328.5h1.2v1.2h-1.2zM337.5 321.0h1.2v1.2h-1.2zM333.5 315.0h1.2v1.2h-1.2zM357.7 322.3h1.2v1.2h-1.2zM341.4 332.0h1.2v1.2h-1.2zM374.8 335.2h1.2v1.2h-1.2zM356.3 336.0h1.2v1.2h-1.2zM348.4 326.1h1.2v1.2h-1.2zM370.4 327.2h1.2v1.2h-1.2zM331.0 327.5h1.2v1.2h-1.2zM370.4 330.6h1.2v1.2h-1.2zM339.8 330.0h1.2v1.2h-1.2zM366.8 317.3h1.2v1.2h-1.2zM340.4 319.2h1.2v1.2h-1.2zM335.4 322.1h1.2v1.2h-1.2zM318.6 331.0h1.2v1.2h-1.2zM353.8 321.1h1.2v1.2h-1.2zM362.0 318.9h1.2v1.2h-1.2zM326.8 333.6h1.2v1.2h-1.2zM377.9 337.2h1.2v1.2h-1.2zM352.6 317.8h1.2v1.2h-1.2zM331.8 324.1h1.2v1.2h-1.2zM374.6 334.7h1.2v1.2h-1.2zM345.2 322.0h1.2v1.2h-1.2zM380.1 332.7h1.2v1.2h-1.2zM300.1 313.7h1.2v1.2h-1.2zM371.0 323.5h1.2v1.2h-1.2zM356.3 330.6h1.2v1.2h-1.2zM352.6 337.7h1.2v1.2h-1.2zM358.7 333.0h1.2v1.2h-1.2zM331.1 312.0h1.2v1.2h-1.2zM370.0 312.7h1.2v1.2h-1.2zM360.9 318.1h1.2v1.2h-1.2zM358.6 332.0h1.2v1.2h-1.2zM342.0 331.2h1.2v1.2h-1.2zM330.9 334.1h1.2v1.2h-1.2zM359.3 330.9h1.2v1.2h-1.2zM367.9 320.5h1.2v1.2h-1.2zM355.2 322.1h1.2v1.2h-1.2zM348.8 317.9h1.2v1.2h-1.2zM342.9 332.0h1.2v1.2h-1.2zM365.9 314.9h1.2v1.2h-1.2zM379.6 325.7h1.2v1.2h-1.2zM349.7 327.2h1.2v1.2h-1.2zM336.6 335.2h1.2v1.2h-1.2zM365.6 319.0h1.2v1.2h-1.2zM323.6 328.5h1.2v1.2h-1.2zM357.3 317.0h1.2v1.2h-1.2zM350.6 333.6h1.2v1.2h-1.2zM376.9 322.2h1.2v1.2h-1.2zM349.9 322.7h1.2v1.2h-1.2zM321.6 317.4h1.2v1.2h-1.2zM331.4 320.2h1.2v1.2h-1.2zM354.5 319.9h1.2v1.2h-1.2zM352.1 320.2h1.2v1.2h-1.2zM340.2 334.6h1.2v1.2h-1.2zM342.1 317.1h1.2v1.2h-1.2zM323.5 327.2h1.2v1.2h-1.2zM325.0 332.0h1.2v1.2h-1.2zM340.8 316.0h1.2v1.2h-1.2zM339.7 307.7h1.2v1.2h-1.2zM349.9 329.0h1.2v1.2h-1.2zM330.6 311.8h1.2v1.2h-1.2zM381.6 318.9h1.2v1.2h-1.2zM320.0 324.4h1.2v1.2h-1.2zM368.7 327.4h1.2v1.2h-1.2zM362.8 323.0h1.2v1.2h-1.2zM381.9 319.5h1.2v1.2h-1.2zM378.4 333.3h1.2v1.2h-1.2zM328.3 327.0h1.2v1.2h-1.2zM359.4 340.9h1.2v1.2h-1.2zM367.0 317.9h1.2v1.2h-1.2zM370.4 324.5h1.2v1.2h-1.2zM362.5 324.9h1.2v1.2h-1.2zM342.4 329.6h1.2v1.2h-1.2zM376.9 327.1h1.2v1.2h-1.2zM350.8 325.4h1.2v1.2h-1.2zM344.0 341.2h1.2v1.2h-1.2zM356.5 323.9h1.2v1.2h-1.2zM344.8 328.8h1.2v1.2h-1.2zM340.8 326.8h1.2v1.2h-1.2zM355.4 320.3h1.2v1.2h-1.2zM362.1 331.3h1.2v1.2h-1.2zM359.1 310.1h1.2v1.2h-1.2zM354.7 334.5h1.2v1.2h-1.2zM344.9 312.6h1.2v1.2h-1.2zM359.7 322.7h1.2v1.2h-1.2zM331.4 326.1h1.2v1.2h-1.2zM362.3 321.3h1.2v1.2h-1.2zM358.3 321.0h1.2v1.2h-1.2zM354.9 335.0h1.2v1.2h-1.2zM362.1 344.7h1.2v1.2h-1.2zM349.6 333.7h1.2v1.2h-1.2zM365.6 326.6h1.2v1.2h-1.2zM363.2 320.2h1.2v1.2h-1.2zM363.6 319.0h1.2v1.2h-1.2zM353.4 335.1h1.2v1.2h-1.2zM369.6 332.5h1.2v1.2h-1.2zM349.9 336.0h1.2v1.2h-1.2zM377.1 333.4h1.2v1.2h-1.2zM351.2 336.0h1.2v1.2h-1.2zM376.9 320.4h1.2v1.2h-1.2zM358.0 318.9h1.2v1.2h-1.2zM352.7 317.0h1.2v1.2h-1.2zM334.7 325.0h1.2v1.2h-1.2zM365.0 323.7h1.2v1.2h-1.2zM360.0 326.1h1.2v1.2h-1.2zM354.2 315.5h1.2v1.2h-1.2zM360.9 326.6h1.2v1.2h-1.2zM355.8 331.8h1.2v1.2h-1.2zM336.4 325.9h1.2v1.2h-1.2zM331.6 303.4h1.2v1.2h-1.2zM365.0 325.0h1.2v1.2h-1.2zM356.7 322.3h1.2v1.2h-1.2zM381.5 332.7h1.2v1.2h-1.2zM373.5 323.9h1.2v1.2h-1.2zM368.7 330.4h1.2v1.2h-1.2zM365.2 322.1h1.2v1.2h-1.2zM363.8 327.9h1.2v1.2h-1.2zM355.3 333.1h1.2v1.2h-1.2zM341.6 323.0h1.2v1.2h-1.2zM304.8 327.7h1.2v1.2h-1.2zM367.5 326.5h1.2v1.2h-1.2zM364.3 330.2h1.2v1.2h-1.2zM354.0 324.3h1.2v1.2h-1.2zM355.8 329.1h1.2v1.2h-1.2zM371.3 310.4h1.2v1.2h-1.2zM370.4 323.4h1.2v1.2h-1.2zM357.0 331.9h1.2v1.2h-1.2zM348.8 330.6h1.2v1.2h-1.2zM364.5 317.4h1.2v1.2h-1.2zM368.2 318.8h1.2v1.2h-1.2zM369.8 328.4h1.2v1.2h-1.2zM336.6 328.1h1.2v1.2h-1.2zM362.6 329.0h1.2v1.2h-1.2zM337.2 325.7h1.2v1.2h-1.2zM345.0 326.1h1.2v1.2h-1.2zM367.2 333.6h1.2v1.2h-1.2zM345.8 317.7h1.2v1.2h-1.2zM351.1 314.1h1.2v1.2h-1.2zM342.8 333.3h1.2v1.2h-1.2zM369.3 319.1h1.2v1.2h-1.2zM345.6 330.7h1.2v1.2h-1.2zM322.6 319.7h1.2v1.2h-1.2zM356.0 316.3h1.2v1.2h-1.2zM368.6 337.6h1.2v1.2h-1.2zM352.9 324.6h1.2v1.2h-1.2zM356.2 313.9h1.2v1.2h-1.2zM340.4 323.4h1.2v1.2h-1.2zM336.0 323.8h1.2v1.2h-1.2zM353.4 323.5h1.2v1.2h-1.2zM332.3 326.5h1.2v1.2h-1.2zM345.1 315.9h1.2v1.2h-1.2zM309.2 324.8h1.2v1.2h-1.2zM312.9 333.1h1.2v1.2h-1.2zM319.4 333.0h1.2v1.2h-1.2zM316.7 314.4h1.2v1.2h-1.2zM310.9 319.2h1.2v1.2h-1.2zM310.6 325.1h1.2v1.2h-1.2zM324.3 320.2h1.2v1.2h-1.2zM309.7 321.1h1.2v1.2h-1.2zM323.7 324.1h1.2v1.2h-1.2zM316.6 324.7h1.2v1.2h-1.2zM306.8 333.6h1.2v1.2h-1.2zM325.9 313.9h1.2v1.2h-1.2zM318.0 333.3h1.2v1.2h-1.2zM321.5 324.2h1.2v1.2h-1.2zM300.8 329.9h1.2v1.2h-1.2zM315.0 323.4h1.2v1.2h-1.2zM317.0 342.4h1.2v1.2h-1.2zM313.2 313.2h1.2v1.2h-1.2zM311.8 334.2h1.2v1.2h-1.2zM302.9 322.7h1.2v1.2h-1.2zM316.4 324.2h1.2v1.2h-1.2zM326.7 335.8h1.2v1.2h-1.2zM319.6 324.4h1.2v1.2h-1.2zM309.4 332.2h1.2v1.2h-1.2zM305.1 336.1h1.2v1.2h-1.2zM311.8 321.7h1.2v1.2h-1.2zM309.6 340.1h1.2v1.2h-1.2zM305.0 334.8h1.2v1.2h-1.2zM313.2 324.4h1.2v1.2h-1.2zM311.2 327.5h1.2v1.2h-1.2zM317.7 320.9h1.2v1.2h-1.2zM328.7 328.0h1.2v1.2h-1.2zM311.2 332.1h1.2v1.2h-1.2zM322.9 333.0h1.2v1.2h-1.2zM304.3 327.5h1.2v1.2h-1.2zM306.8 322.3h1.2v1.2h-1.2zM329.8 321.4h1.2v1.2h-1.2zM325.6 319.2h1.2v1.2h-1.2zM324.4 324.0h1.2v1.2h-1.2zM328.4 330.2h1.2v1.2h-1.2zM331.0 321.9h1.2v1.2h-1.2zM332.7 321.2h1.2v1.2h-1.2zM324.9 318.5h1.2v1.2h-1.2zM332.4 330.0h1.2v1.2h-1.2zM307.9 324.1h1.2v1.2h-1.2zM315.7 314.6h1.2v1.2h-1.2zM305.0 333.7h1.2v1.2h-1.2zM301.9 333.4h1.2v1.2h-1.2zM312.7 326.1h1.2v1.2h-1.2zM310.6 323.5h1.2v1.2h-1.2zM321.4 325.7h1.2v1.2h-1.2zM313.1 319.4h1.2v1.2h-1.2zM303.8 333.0h1.2v1.2h-1.2zM316.3 335.7h1.2v1.2h-1.2zM310.2 333.2h1.2v1.2h-1.2zM296.6 312.5h1.2v1.2h-1.2zM296.0 316.7h1.2v1.2h-1.2zM296.6 326.5h1.2v1.2h-1.2zM296.5 322.2h1.2v1.2h-1.2zM296.3 322.2h1.2v1.2h-1.2zM296.2 321.8h1.2v1.2h-1.2zM350.7 312.5h1.2v1.2h-1.2zM370.4 323.9h1.2v1.2h-1.2zM369.2 338.6h1.2v1.2h-1.2zM381.0 334.6h1.2v1.2h-1.2zM349.2 315.7h1.2v1.2h-1.2zM342.9 325.0h1.2v1.2h-1.2zM350.5 328.9h1.2v1.2h-1.2zM341.1 333.8h1.2v1.2h-1.2zM358.8 319.7h1.2v1.2h-1.2zM353.1 306.5h1.2v1.2h-1.2z" fill="#0000f0" fill-opacity="0.85"/>
<rect x="295.5" y="235.5" width="175" height="142" fill="none" stroke="#3a3a3a" stroke-width="1"/>
<path d="M382.5 235 V377 M295 324.7 H470" stroke="#222" stroke-width="1" fill="none"/>
<path d="M290.5 377.5H295M292.5 366.8H295M292.5 360.6H295M292.5 356.1H295M292.5 352.7H295M292.5 349.9H295M292.5 347.5H295M292.5 345.4H295M292.5 343.6H295M290.5 342.0H295M292.5 331.3H295M292.5 325.1H295M292.5 320.6H295M292.5 317.2H295M292.5 314.4H295M292.5 312.0H295M292.5 309.9H295M292.5 308.1H295M290.5 306.5H295M292.5 295.8H295M292.5 289.6H295M292.5 285.1H295M292.5 281.7H295M292.5 278.9H295M292.5 276.5H295M292.5 274.4H295M292.5 272.6H295M290.5 271.0H295M292.5 260.3H295M292.5 254.1H295M292.5 249.6H295M292.5 246.2H295M292.5 243.4H295M292.5 241.0H295M292.5 238.9H295M292.5 237.1H295M290.5 235.5H295M295.5 377.5V381.5M307.8 377.5V381.5M336.5 377.5V381.5M369.3 377.5V381.5M402.6 377.5V381.5M436.0 377.5V381.5M470.0 377.5V381.5M298.4 377.5V380.2M303.2 377.5V380.2M312.9 377.5V380.2M317.4 377.5V380.2M320.8 377.5V380.2M324.0 377.5V380.2M326.5 377.5V380.2M328.8 377.5V380.2M330.8 377.5V380.2M332.5 377.5V380.2M333.9 377.5V380.2M335.3 377.5V380.2M346.4 377.5V380.2M352.1 377.5V380.2M356.2 377.5V380.2M359.4 377.5V380.2M362.0 377.5V380.2M364.2 377.5V380.2M366.1 377.5V380.2M367.8 377.5V380.2M379.3 377.5V380.2M385.2 377.5V380.2M389.3 377.5V380.2M392.6 377.5V380.2M395.2 377.5V380.2M397.4 377.5V380.2M399.4 377.5V380.2M401.1 377.5V380.2M412.7 377.5V380.2M418.5 377.5V380.2M422.7 377.5V380.2M425.9 377.5V380.2M428.6 377.5V380.2M430.8 377.5V380.2M432.8 377.5V380.2M434.5 377.5V380.2M446.2 377.5V380.2M452.2 377.5V380.2M456.5 377.5V380.2M459.8 377.5V380.2M462.5 377.5V380.2M464.7 377.5V380.2M466.7 377.5V380.2M468.4 377.5V380.2" stroke="#3a3a3a" stroke-width="1" fill="none"/>
<text transform="translate(286.40,377.30) rotate(-90) scale(0.85,1)" font-family="Liberation Sans" fill="#262626" font-size="9" text-anchor="middle">10</text>
<text transform="translate(281.40,373.20) rotate(-90) scale(0.85,1)" font-family="Liberation Sans" fill="#262626" font-size="6.2" text-anchor="start">2</text>
<text transform="translate(286.40,341.80) rotate(-90) scale(0.85,1)" font-family="Liberation Sans" fill="#262626" font-size="9" text-anchor="middle">10</text>
<text transform="translate(281.40,337.70) rotate(-90) scale(0.85,1)" font-family="Liberation Sans" fill="#262626" font-size="6.2" text-anchor="start">3</text>
<text transform="translate(286.40,306.30) rotate(-90) scale(0.85,1)" font-family="Liberation Sans" fill="#262626" font-size="9" text-anchor="middle">10</text>
<text transform="translate(281.40,302.20) rotate(-90) scale(0.85,1)" font-family="Liberation Sans" fill="#262626" font-size="6.2" text-anchor="start">4</text>
<text transform="translate(286.40,270.80) rotate(-90) scale(0.85,1)" font-family="Liberation Sans" fill="#262626" font-size="9" text-anchor="middle">10</text>
<text transform="translate(281.40,266.70) rotate(-90) scale(0.85,1)" font-family="Liberation Sans" fill="#262626" font-size="6.2" text-anchor="start">5</text>
<text transform="translate(286.40,235.30) rotate(-90) scale(0.85,1)" font-family="Liberation Sans" fill="#262626" font-size="9" text-anchor="middle">10</text>
<text transform="translate(281.40,231.20) rotate(-90) scale(0.85,1)" font-family="Liberation Sans" fill="#262626" font-size="6.2" text-anchor="start">6</text>
<text transform="translate(308.20,389.70) scale(1.1,1)" font-family="Liberation Sans" fill="#262626" font-size="8" text-anchor="middle">0</text>
<text transform="translate(335.90,389.70) scale(1.1,1)" font-family="Liberation Sans" fill="#262626" font-size="8" text-anchor="middle">10</text>
<text transform="translate(341.10,386.00) scale(1.1,1)" font-family="Liberation Sans" fill="#262626" font-size="5.7" text-anchor="start">2</text>
<text transform="translate(368.70,389.70) scale(1.1,1)" font-family="Liberation Sans" fill="#262626" font-size="8" text-anchor="middle">10</text>
<text transform="translate(373.90,386.00) scale(1.1,1)" font-family="Liberation Sans" fill="#262626" font-size="5.7" text-anchor="start">3</text>
<text transform="translate(402.00,389.70) scale(1.1,1)" font-family="Liberation Sans" fill="#262626" font-size="8" text-anchor="middle">10</text>
<text transform="translate(407.20,386.00) scale(1.1,1)" font-family="Liberation Sans" fill="#262626" font-size="5.7" text-anchor="start">4</text>
<text transform="translate(435.40,389.70) scale(1.1,1)" font-family="Liberation Sans" fill="#262626" font-size="8" text-anchor="middle">10</text>
<text transform="translate(440.60,386.00) scale(1.1,1)" font-family="Liberation Sans" fill="#262626" font-size="5.7" text-anchor="start">5</text>
<text transform="translate(469.40,389.70) scale(1.1,1)" font-family="Liberation Sans" fill="#262626" font-size="8" text-anchor="middle">10</text>
<text transform="translate(474.60,386.00) scale(1.1,1)" font-family="Liberation Sans" fill="#262626" font-size="5.7" text-anchor="start">6</text>
<text x="382.10" y="398.80" font-family="Liberation Sans" font-size="8.6" font-weight="normal" text-anchor="middle" fill="#262626" textLength="47.4" lengthAdjust="spacingAndGlyphs" >CD5 APC-A</text>
<text transform="translate(274.60,305.30) rotate(-90)" font-family="Liberation Sans" font-size="8.4" font-weight="normal" text-anchor="middle" fill="#262626" textLength="63.5" lengthAdjust="spacingAndGlyphs" >IL-10/DNMT1 PE-A</text>
<text x="375.00" y="231.60" font-family="Liberation Sans" font-size="8.5" font-weight="normal" text-anchor="middle" fill="#262626" letter-spacing="0.4">IL-6 IL-10 : H1-LR</text>
<text x="298.10" y="244.90" font-family="Liberation Sans" font-size="8.6" font-weight="normal" text-anchor="start" fill="#262626" letter-spacing="0.28">Q2-UL(49.36%)</text>
<text x="467.00" y="244.90" font-family="Liberation Sans" font-size="8.6" font-weight="normal" text-anchor="end" fill="#262626" letter-spacing="0.28">Q2-UR(0.00%)</text>
<text x="298.10" y="373.50" font-family="Liberation Sans" font-size="8.6" font-weight="normal" text-anchor="start" fill="#262626" letter-spacing="0.28">Q2-LL(50.64%)</text>
<text x="467.00" y="373.50" font-family="Liberation Sans" font-size="8.6" font-weight="normal" text-anchor="end" fill="#262626" letter-spacing="0.28">Q2-LR(0.00%)</text>
<path d="M151.8 514.4h1.2v1.2h-1.2zM144.7 529.7h1.2v1.2h-1.2zM145.3 520.2h1.2v1.2h-1.2zM146.2 520.1h1.2v1.2h-1.2zM157.0 523.3h1.2v1.2h-1.2zM144.4 506.0h1.2v1.2h-1.2zM150.1 518.7h1.2v1.2h-1.2zM146.7 510.0h1.2v1.2h-1.2zM143.7 531.2h1.2v1.2h-1.2zM156.6 534.7h1.2v1.2h-1.2zM144.5 507.5h1.2v1.2h-1.2zM152.9 499.5h1.2v1.2h-1.2zM151.2 524.3h1.2v1.2h-1.2zM152.6 516.2h1.2v1.2h-1.2zM150.8 512.6h1.2v1.2h-1.2zM164.3 544.9h1.2v1.2h-1.2zM151.3 517.8h1.2v1.2h-1.2zM151.0 511.6h1.2v1.2h-1.2zM143.9 519.2h1.2v1.2h-1.2zM143.9 524.8h1.2v1.2h-1.2zM145.8 537.7h1.2v1.2h-1.2zM143.0 525.0h1.2v1.2h-1.2zM148.3 509.4h1.2v1.2h-1.2zM148.3 517.0h1.2v1.2h-1.2zM143.9 540.4h1.2v1.2h-1.2zM161.5 504.5h1.2v1.2h-1.2zM157.7 521.5h1.2v1.2h-1.2zM145.0 533.8h1.2v1.2h-1.2zM168.2 524.6h1.2v1.2h-1.2zM170.7 519.8h1.2v1.2h-1.2zM159.8 513.1h1.2v1.2h-1.2zM159.4 523.6h1.2v1.2h-1.2zM143.5 527.2h1.2v1.2h-1.2zM145.9 524.2h1.2v1.2h-1.2zM150.1 532.3h1.2v1.2h-1.2zM145.0 524.0h1.2v1.2h-1.2zM157.5 535.0h1.2v1.2h-1.2zM145.1 523.4h1.2v1.2h-1.2zM150.9 531.1h1.2v1.2h-1.2zM163.2 518.8h1.2v1.2h-1.2zM166.4 539.5h1.2v1.2h-1.2zM162.4 534.6h1.2v1.2h-1.2zM149.6 529.0h1.2v1.2h-1.2zM156.2 512.1h1.2v1.2h-1.2zM143.3 524.0h1.2v1.2h-1.2zM147.5 492.6h1.2v1.2h-1.2zM155.1 518.4h1.2v1.2h-1.2zM162.6 523.7h1.2v1.2h-1.2zM143.1 513.4h1.2v1.2h-1.2zM145.6 523.7h1.2v1.2h-1.2zM147.2 528.7h1.2v1.2h-1.2zM148.8 540.2h1.2v1.2h-1.2zM144.6 522.3h1.2v1.2h-1.2zM144.3 506.4h1.2v1.2h-1.2zM155.6 498.6h1.2v1.2h-1.2zM148.7 520.5h1.2v1.2h-1.2zM149.9 531.1h1.2v1.2h-1.2zM151.3 533.4h1.2v1.2h-1.2zM156.0 523.1h1.2v1.2h-1.2zM161.3 515.5h1.2v1.2h-1.2zM146.3 515.1h1.2v1.2h-1.2zM150.3 520.7h1.2v1.2h-1.2zM153.4 523.1h1.2v1.2h-1.2zM155.1 528.1h1.2v1.2h-1.2zM161.4 523.4h1.2v1.2h-1.2zM155.9 542.3h1.2v1.2h-1.2zM164.4 523.7h1.2v1.2h-1.2zM153.4 527.1h1.2v1.2h-1.2zM143.1 532.7h1.2v1.2h-1.2zM157.9 531.7h1.2v1.2h-1.2zM143.8 515.7h1.2v1.2h-1.2zM142.6 505.9h1.2v1.2h-1.2zM152.5 509.1h1.2v1.2h-1.2zM146.5 525.9h1.2v1.2h-1.2zM157.2 528.2h1.2v1.2h-1.2zM145.4 525.7h1.2v1.2h-1.2zM165.3 530.2h1.2v1.2h-1.2zM145.0 535.2h1.2v1.2h-1.2zM155.2 514.5h1.2v1.2h-1.2zM144.6 547.9h1.2v1.2h-1.2zM161.6 548.9h1.2v1.2h-1.2zM143.6 529.9h1.2v1.2h-1.2zM155.8 520.5h1.2v1.2h-1.2zM164.4 524.8h1.2v1.2h-1.2zM142.4 508.2h1.2v1.2h-1.2zM163.8 522.6h1.2v1.2h-1.2zM150.6 514.1h1.2v1.2h-1.2zM149.7 521.3h1.2v1.2h-1.2zM156.9 519.1h1.2v1.2h-1.2zM170.7 543.0h1.2v1.2h-1.2zM145.6 513.7h1.2v1.2h-1.2zM148.2 525.4h1.2v1.2h-1.2zM144.8 518.3h1.2v1.2h-1.2zM155.3 538.2h1.2v1.2h-1.2zM142.6 533.0h1.2v1.2h-1.2zM149.8 507.0h1.2v1.2h-1.2zM149.4 512.5h1.2v1.2h-1.2zM154.9 525.1h1.2v1.2h-1.2zM150.8 516.1h1.2v1.2h-1.2zM156.7 526.8h1.2v1.2h-1.2zM150.1 523.1h1.2v1.2h-1.2zM143.8 511.5h1.2v1.2h-1.2zM144.0 519.3h1.2v1.2h-1.2zM156.6 527.1h1.2v1.2h-1.2zM153.0 521.6h1.2v1.2h-1.2zM147.4 523.7h1.2v1.2h-1.2zM144.7 526.1h1.2v1.2h-1.2zM150.7 521.1h1.2v1.2h-1.2zM144.7 535.9h1.2v1.2h-1.2zM157.0 509.6h1.2v1.2h-1.2zM164.8 527.1h1.2v1.2h-1.2zM150.1 517.1h1.2v1.2h-1.2zM145.7 526.4h1.2v1.2h-1.2zM170.5 530.8h1.2v1.2h-1.2zM154.7 528.7h1.2v1.2h-1.2zM153.9 529.1h1.2v1.2h-1.2zM150.1 530.0h1.2v1.2h-1.2zM150.6 527.7h1.2v1.2h-1.2zM149.9 520.0h1.2v1.2h-1.2zM151.4 529.7h1.2v1.2h-1.2zM149.1 532.1h1.2v1.2h-1.2zM142.6 531.1h1.2v1.2h-1.2zM148.2 525.2h1.2v1.2h-1.2zM150.4 525.2h1.2v1.2h-1.2zM150.8 502.4h1.2v1.2h-1.2zM152.9 514.1h1.2v1.2h-1.2zM152.0 520.3h1.2v1.2h-1.2zM144.3 532.4h1.2v1.2h-1.2zM143.0 534.3h1.2v1.2h-1.2zM150.3 523.7h1.2v1.2h-1.2zM147.3 511.0h1.2v1.2h-1.2zM167.0 527.2h1.2v1.2h-1.2zM145.6 532.2h1.2v1.2h-1.2zM146.9 530.0h1.2v1.2h-1.2zM149.6 515.3h1.2v1.2h-1.2zM165.6 511.5h1.2v1.2h-1.2zM149.8 513.2h1.2v1.2h-1.2zM148.0 511.5h1.2v1.2h-1.2zM143.2 532.3h1.2v1.2h-1.2zM149.9 525.4h1.2v1.2h-1.2zM145.9 543.9h1.2v1.2h-1.2zM160.1 538.8h1.2v1.2h-1.2zM142.8 532.4h1.2v1.2h-1.2zM145.2 515.4h1.2v1.2h-1.2zM144.3 528.9h1.2v1.2h-1.2zM154.4 526.8h1.2v1.2h-1.2zM152.1 508.1h1.2v1.2h-1.2zM158.0 509.5h1.2v1.2h-1.2zM154.0 514.8h1.2v1.2h-1.2zM154.3 534.9h1.2v1.2h-1.2zM149.6 518.3h1.2v1.2h-1.2zM157.3 508.3h1.2v1.2h-1.2zM153.5 523.1h1.2v1.2h-1.2zM152.1 528.2h1.2v1.2h-1.2zM150.0 510.0h1.2v1.2h-1.2zM144.9 541.4h1.2v1.2h-1.2zM142.9 514.7h1.2v1.2h-1.2zM151.9 532.8h1.2v1.2h-1.2zM160.9 529.0h1.2v1.2h-1.2zM162.2 514.8h1.2v1.2h-1.2zM158.9 521.0h1.2v1.2h-1.2zM154.3 522.3h1.2v1.2h-1.2zM162.5 518.6h1.2v1.2h-1.2zM150.7 529.7h1.2v1.2h-1.2zM160.6 522.7h1.2v1.2h-1.2zM153.9 504.7h1.2v1.2h-1.2zM150.5 523.1h1.2v1.2h-1.2zM150.1 510.6h1.2v1.2h-1.2zM153.7 519.8h1.2v1.2h-1.2zM155.0 524.5h1.2v1.2h-1.2zM155.5 521.0h1.2v1.2h-1.2zM142.7 532.4h1.2v1.2h-1.2zM142.9 521.3h1.2v1.2h-1.2zM143.1 516.9h1.2v1.2h-1.2zM150.2 538.7h1.2v1.2h-1.2zM145.9 529.5h1.2v1.2h-1.2zM150.0 520.7h1.2v1.2h-1.2zM157.7 522.2h1.2v1.2h-1.2zM145.9 518.0h1.2v1.2h-1.2zM144.6 522.9h1.2v1.2h-1.2zM142.3 512.4h1.2v1.2h-1.2zM142.4 539.8h1.2v1.2h-1.2zM154.2 534.5h1.2v1.2h-1.2zM142.7 499.5h1.2v1.2h-1.2zM148.6 512.4h1.2v1.2h-1.2zM143.0 521.6h1.2v1.2h-1.2zM145.0 515.5h1.2v1.2h-1.2zM149.5 500.6h1.2v1.2h-1.2zM157.2 529.0h1.2v1.2h-1.2zM159.4 510.1h1.2v1.2h-1.2zM148.7 528.9h1.2v1.2h-1.2zM163.1 526.6h1.2v1.2h-1.2zM165.5 537.4h1.2v1.2h-1.2zM148.2 513.1h1.2v1.2h-1.2zM152.7 540.4h1.2v1.2h-1.2zM146.4 509.7h1.2v1.2h-1.2zM156.4 537.2h1.2v1.2h-1.2zM162.2 532.8h1.2v1.2h-1.2zM154.6 526.5h1.2v1.2h-1.2zM145.6 511.1h1.2v1.2h-1.2zM153.2 538.3h1.2v1.2h-1.2zM156.9 530.2h1.2v1.2h-1.2zM157.0 505.3h1.2v1.2h-1.2zM148.5 495.9h1.2v1.2h-1.2zM148.9 515.4h1.2v1.2h-1.2zM154.4 513.4h1.2v1.2h-1.2zM159.2 529.2h1.2v1.2h-1.2zM155.8 523.5h1.2v1.2h-1.2zM142.6 525.3h1.2v1.2h-1.2zM155.3 516.9h1.2v1.2h-1.2zM176.6 505.6h1.2v1.2h-1.2zM158.2 511.2h1.2v1.2h-1.2zM146.8 506.6h1.2v1.2h-1.2zM148.6 522.4h1.2v1.2h-1.2zM171.4 515.0h1.2v1.2h-1.2zM157.7 529.0h1.2v1.2h-1.2zM144.3 530.1h1.2v1.2h-1.2zM154.4 519.8h1.2v1.2h-1.2zM160.3 528.6h1.2v1.2h-1.2zM173.5 527.1h1.2v1.2h-1.2zM145.3 531.7h1.2v1.2h-1.2zM160.2 511.8h1.2v1.2h-1.2zM174.1 523.0h1.2v1.2h-1.2zM170.9 535.3h1.2v1.2h-1.2zM175.1 523.4h1.2v1.2h-1.2zM189.2 512.6h1.2v1.2h-1.2zM154.9 519.3h1.2v1.2h-1.2zM158.0 539.9h1.2v1.2h-1.2zM178.3 512.9h1.2v1.2h-1.2zM184.9 510.5h1.2v1.2h-1.2zM169.5 526.0h1.2v1.2h-1.2zM161.5 513.1h1.2v1.2h-1.2zM151.4 501.1h1.2v1.2h-1.2zM173.0 500.9h1.2v1.2h-1.2zM169.7 517.1h1.2v1.2h-1.2zM181.9 524.8h1.2v1.2h-1.2zM179.6 505.0h1.2v1.2h-1.2zM188.2 528.2h1.2v1.2h-1.2zM177.1 518.7h1.2v1.2h-1.2zM191.6 533.5h1.2v1.2h-1.2zM192.4 511.9h1.2v1.2h-1.2z" fill="#0000f0" fill-opacity="0.85"/>
<rect x="57.5" y="435.5" width="175" height="142" fill="none" stroke="#3a3a3a" stroke-width="1"/>
<path d="M141.5 435 V577 M57 524.5 H232" stroke="#222" stroke-width="1" fill="none"/>
<path d="M52.5 577.5H57M54.5 566.8H57M54.5 560.6H57M54.5 556.1H57M54.5 552.7H57M54.5 549.9H57M54.5 547.5H57M54.5 545.4H57M54.5 543.6H57M52.5 542.0H57M54.5 531.3H57M54.5 525.1H57M54.5 520.6H57M54.5 517.2H57M54.5 514.4H57M54.5 512.0H57M54.5 509.9H57M54.5 508.1H57M52.5 506.5H57M54.5 495.8H57M54.5 489.6H57M54.5 485.1H57M54.5 481.7H57M54.5 478.9H57M54.5 476.5H57M54.5 474.4H57M54.5 472.6H57M52.5 471.0H57M54.5 460.3H57M54.5 454.1H57M54.5 449.6H57M54.5 446.2H57M54.5 443.4H57M54.5 441.0H57M54.5 438.9H57M54.5 437.1H57M52.5 435.5H57M57.5 577.5V581.5M69.8 577.5V581.5M98.5 577.5V581.5M131.3 577.5V581.5M164.6 577.5V581.5M198.0 577.5V581.5M232.0 577.5V581.5M60.4 577.5V580.2M65.2 577.5V580.2M74.9 577.5V580.2M79.4 577.5V580.2M82.8 577.5V580.2M86.0 577.5V580.2M88.5 577.5V580.2M90.8 577.5V580.2M92.8 577.5V580.2M94.5 577.5V580.2M95.9 577.5V580.2M97.3 577.5V580.2M108.4 577.5V580.2M114.1 577.5V580.2M118.2 577.5V580.2M121.4 577.5V580.2M124.0 577.5V580.2M126.2 577.5V580.2M128.1 577.5V580.2M129.8 577.5V580.2M141.3 577.5V580.2M147.2 577.5V580.2M151.3 577.5V580.2M154.6 577.5V580.2M157.2 577.5V580.2M159.4 577.5V580.2M161.4 577.5V580.2M163.1 577.5V580.2M174.7 577.5V580.2M180.5 577.5V580.2M184.7 577.5V580.2M187.9 577.5V580.2M190.6 577.5V580.2M192.8 577.5V580.2M194.8 577.5V580.2M196.5 577.5V580.2M208.2 577.5V580.2M214.2 577.5V580.2M218.5 577.5V580.2M221.8 577.5V580.2M224.5 577.5V580.2M226.7 577.5V580.2M228.7 577.5V580.2M230.4 577.5V580.2" stroke="#3a3a3a" stroke-width="1" fill="none"/>
<text transform="translate(48.40,577.30) rotate(-90) scale(0.85,1)" font-family="Liberation Sans" fill="#262626" font-size="9" text-anchor="middle">10</text>
<text transform="translate(43.40,573.20) rotate(-90) scale(0.85,1)" font-family="Liberation Sans" fill="#262626" font-size="6.2" text-anchor="start">2</text>
<text transform="translate(48.40,541.80) rotate(-90) scale(0.85,1)" font-family="Liberation Sans" fill="#262626" font-size="9" text-anchor="middle">10</text>
<text transform="translate(43.40,537.70) rotate(-90) scale(0.85,1)" font-family="Liberation Sans" fill="#262626" font-size="6.2" text-anchor="start">3</text>
<text transform="translate(48.40,506.30) rotate(-90) scale(0.85,1)" font-family="Liberation Sans" fill="#262626" font-size="9" text-anchor="middle">10</text>
<text transform="translate(43.40,502.20) rotate(-90) scale(0.85,1)" font-family="Liberation Sans" fill="#262626" font-size="6.2" text-anchor="start">4</text>
<text transform="translate(48.40,470.80) rotate(-90) scale(0.85,1)" font-family="Liberation Sans" fill="#262626" font-size="9" text-anchor="middle">10</text>
<text transform="translate(43.40,466.70) rotate(-90) scale(0.85,1)" font-family="Liberation Sans" fill="#262626" font-size="6.2" text-anchor="start">5</text>
<text transform="translate(48.40,435.30) rotate(-90) scale(0.85,1)" font-family="Liberation Sans" fill="#262626" font-size="9" text-anchor="middle">10</text>
<text transform="translate(43.40,431.20) rotate(-90) scale(0.85,1)" font-family="Liberation Sans" fill="#262626" font-size="6.2" text-anchor="start">6</text>
<text transform="translate(70.20,589.70) scale(1.1,1)" font-family="Liberation Sans" fill="#262626" font-size="8" text-anchor="middle">0</text>
<text transform="translate(97.90,589.70) scale(1.1,1)" font-family="Liberation Sans" fill="#262626" font-size="8" text-anchor="middle">10</text>
<text transform="translate(103.10,586.00) scale(1.1,1)" font-family="Liberation Sans" fill="#262626" font-size="5.7" text-anchor="start">2</text>
<text transform="translate(130.70,589.70) scale(1.1,1)" font-family="Liberation Sans" fill="#262626" font-size="8" text-anchor="middle">10</text>
<text transform="translate(135.90,586.00) scale(1.1,1)" font-family="Liberation Sans" fill="#262626" font-size="5.7" text-anchor="start">3</text>
<text transform="translate(164.00,589.70) scale(1.1,1)" font-family="Liberation Sans" fill="#262626" font-size="8" text-anchor="middle">10</text>
<text transform="translate(169.20,586.00) scale(1.1,1)" font-family="Liberation Sans" fill="#262626" font-size="5.7" text-anchor="start">4</text>
<text transform="translate(197.40,589.70) scale(1.1,1)" font-family="Liberation Sans" fill="#262626" font-size="8" text-anchor="middle">10</text>
<text transform="translate(202.60,586.00) scale(1.1,1)" font-family="Liberation Sans" fill="#262626" font-size="5.7" text-anchor="start">5</text>
<text transform="translate(231.40,589.70) scale(1.1,1)" font-family="Liberation Sans" fill="#262626" font-size="8" text-anchor="middle">10</text>
<text transform="translate(236.60,586.00) scale(1.1,1)" font-family="Liberation Sans" fill="#262626" font-size="5.7" text-anchor="start">6</text>
<text x="144.10" y="598.80" font-family="Liberation Sans" font-size="8.6" font-weight="normal" text-anchor="middle" fill="#262626" textLength="47.4" lengthAdjust="spacingAndGlyphs" >CD5 APC-A</text>
<text transform="translate(36.60,505.30) rotate(-90)" font-family="Liberation Sans" font-size="8.4" font-weight="normal" text-anchor="middle" fill="#262626" textLength="63.5" lengthAdjust="spacingAndGlyphs" >IL-10/DNMT1 PE-A</text>
<text x="137.00" y="431.60" font-family="Liberation Sans" font-size="8.5" font-weight="normal" text-anchor="middle" fill="#262626" letter-spacing="0.4">IL-6+toc-IL-10 : H1-UR</text>
<text x="60.10" y="444.90" font-family="Liberation Sans" font-size="8.6" font-weight="normal" text-anchor="start" fill="#262626" letter-spacing="0.28">Q3-UL(0.00%)</text>
<text x="229.00" y="444.90" font-family="Liberation Sans" font-size="8.6" font-weight="normal" text-anchor="end" fill="#262626" letter-spacing="0.28">Q3-UR(62.83%)</text>
<text x="60.10" y="573.50" font-family="Liberation Sans" font-size="8.6" font-weight="normal" text-anchor="start" fill="#262626" letter-spacing="0.28">Q3-LL(0.00%)</text>
<text x="229.00" y="573.50" font-family="Liberation Sans" font-size="8.6" font-weight="normal" text-anchor="end" fill="#262626" letter-spacing="0.28">Q3-LR(37.17%)</text>
<path d="M377.4 523.6h1.2v1.2h-1.2zM335.7 523.8h1.2v1.2h-1.2zM358.7 517.3h1.2v1.2h-1.2zM354.8 530.2h1.2v1.2h-1.2zM378.2 520.5h1.2v1.2h-1.2zM363.6 512.8h1.2v1.2h-1.2zM375.0 528.8h1.2v1.2h-1.2zM355.2 536.6h1.2v1.2h-1.2zM347.1 509.1h1.2v1.2h-1.2zM364.2 519.3h1.2v1.2h-1.2zM376.0 528.2h1.2v1.2h-1.2zM364.7 525.7h1.2v1.2h-1.2zM372.2 529.5h1.2v1.2h-1.2zM360.8 532.3h1.2v1.2h-1.2zM360.5 503.1h1.2v1.2h-1.2zM360.5 526.4h1.2v1.2h-1.2zM361.8 504.7h1.2v1.2h-1.2zM355.7 511.1h1.2v1.2h-1.2zM362.1 509.7h1.2v1.2h-1.2zM354.0 524.5h1.2v1.2h-1.2zM350.8 504.3h1.2v1.2h-1.2zM372.9 520.9h1.2v1.2h-1.2zM378.0 505.7h1.2v1.2h-1.2zM361.2 538.7h1.2v1.2h-1.2zM356.9 514.9h1.2v1.2h-1.2zM343.2 519.8h1.2v1.2h-1.2zM373.8 508.8h1.2v1.2h-1.2zM355.9 514.5h1.2v1.2h-1.2zM367.1 532.3h1.2v1.2h-1.2zM340.8 522.2h1.2v1.2h-1.2zM370.4 509.0h1.2v1.2h-1.2zM377.2 515.2h1.2v1.2h-1.2zM357.9 518.4h1.2v1.2h-1.2zM365.6 536.4h1.2v1.2h-1.2zM379.9 518.8h1.2v1.2h-1.2zM379.7 524.0h1.2v1.2h-1.2zM353.4 529.8h1.2v1.2h-1.2zM379.8 542.4h1.2v1.2h-1.2zM380.0 526.0h1.2v1.2h-1.2zM367.6 509.8h1.2v1.2h-1.2zM368.8 510.6h1.2v1.2h-1.2zM370.5 536.0h1.2v1.2h-1.2zM333.5 523.8h1.2v1.2h-1.2zM370.6 501.8h1.2v1.2h-1.2zM369.4 515.1h1.2v1.2h-1.2zM357.1 515.6h1.2v1.2h-1.2zM376.4 516.7h1.2v1.2h-1.2zM356.7 526.0h1.2v1.2h-1.2zM365.7 526.3h1.2v1.2h-1.2zM327.2 532.6h1.2v1.2h-1.2zM340.0 502.0h1.2v1.2h-1.2zM361.4 522.7h1.2v1.2h-1.2zM357.4 518.0h1.2v1.2h-1.2zM339.1 509.9h1.2v1.2h-1.2zM375.6 527.9h1.2v1.2h-1.2zM370.6 507.4h1.2v1.2h-1.2zM353.0 506.8h1.2v1.2h-1.2zM336.1 535.2h1.2v1.2h-1.2zM373.7 523.8h1.2v1.2h-1.2zM358.4 527.7h1.2v1.2h-1.2zM375.8 532.4h1.2v1.2h-1.2zM378.5 507.8h1.2v1.2h-1.2zM360.4 532.9h1.2v1.2h-1.2zM362.0 520.9h1.2v1.2h-1.2zM376.0 525.1h1.2v1.2h-1.2zM361.4 527.6h1.2v1.2h-1.2zM336.9 526.0h1.2v1.2h-1.2zM373.6 516.4h1.2v1.2h-1.2zM369.4 519.8h1.2v1.2h-1.2zM356.6 521.5h1.2v1.2h-1.2zM372.2 530.0h1.2v1.2h-1.2zM359.2 499.0h1.2v1.2h-1.2zM358.8 533.4h1.2v1.2h-1.2zM375.9 511.2h1.2v1.2h-1.2zM344.8 540.7h1.2v1.2h-1.2zM341.3 524.6h1.2v1.2h-1.2zM362.2 536.7h1.2v1.2h-1.2zM345.5 517.9h1.2v1.2h-1.2zM376.6 536.5h1.2v1.2h-1.2zM353.7 524.1h1.2v1.2h-1.2zM339.5 524.0h1.2v1.2h-1.2zM358.5 524.4h1.2v1.2h-1.2zM332.4 496.4h1.2v1.2h-1.2zM376.3 506.0h1.2v1.2h-1.2zM363.8 504.6h1.2v1.2h-1.2zM373.9 520.9h1.2v1.2h-1.2zM371.6 517.9h1.2v1.2h-1.2zM367.1 527.9h1.2v1.2h-1.2zM349.3 523.4h1.2v1.2h-1.2zM375.4 531.9h1.2v1.2h-1.2zM359.5 513.4h1.2v1.2h-1.2zM353.3 523.4h1.2v1.2h-1.2zM335.2 515.3h1.2v1.2h-1.2zM377.5 508.9h1.2v1.2h-1.2zM360.8 503.2h1.2v1.2h-1.2zM358.3 519.1h1.2v1.2h-1.2zM337.0 511.2h1.2v1.2h-1.2zM377.5 514.9h1.2v1.2h-1.2zM362.6 510.8h1.2v1.2h-1.2zM378.6 509.5h1.2v1.2h-1.2zM363.7 546.8h1.2v1.2h-1.2zM352.1 520.3h1.2v1.2h-1.2zM372.3 507.4h1.2v1.2h-1.2zM341.9 518.0h1.2v1.2h-1.2zM342.1 520.1h1.2v1.2h-1.2zM363.2 505.8h1.2v1.2h-1.2zM374.8 529.9h1.2v1.2h-1.2zM379.9 511.0h1.2v1.2h-1.2zM362.9 524.8h1.2v1.2h-1.2zM362.5 515.4h1.2v1.2h-1.2zM367.1 512.0h1.2v1.2h-1.2zM361.3 550.6h1.2v1.2h-1.2zM357.1 513.8h1.2v1.2h-1.2zM371.3 505.1h1.2v1.2h-1.2zM357.0 514.7h1.2v1.2h-1.2zM361.1 510.1h1.2v1.2h-1.2zM378.8 530.0h1.2v1.2h-1.2zM367.3 523.8h1.2v1.2h-1.2zM356.8 508.2h1.2v1.2h-1.2zM374.1 536.5h1.2v1.2h-1.2zM362.2 517.4h1.2v1.2h-1.2zM373.8 507.0h1.2v1.2h-1.2zM352.0 530.0h1.2v1.2h-1.2zM353.2 525.8h1.2v1.2h-1.2zM343.9 509.8h1.2v1.2h-1.2zM379.9 508.7h1.2v1.2h-1.2zM375.9 518.0h1.2v1.2h-1.2zM379.0 513.1h1.2v1.2h-1.2zM369.2 524.8h1.2v1.2h-1.2zM367.0 522.2h1.2v1.2h-1.2zM360.8 508.1h1.2v1.2h-1.2zM372.4 509.1h1.2v1.2h-1.2zM361.5 517.1h1.2v1.2h-1.2zM349.8 532.0h1.2v1.2h-1.2zM378.2 513.4h1.2v1.2h-1.2zM376.8 525.3h1.2v1.2h-1.2zM371.6 513.3h1.2v1.2h-1.2zM363.2 523.7h1.2v1.2h-1.2zM358.7 514.0h1.2v1.2h-1.2zM365.4 523.5h1.2v1.2h-1.2zM367.0 510.9h1.2v1.2h-1.2zM347.6 512.3h1.2v1.2h-1.2zM357.6 538.0h1.2v1.2h-1.2zM349.1 528.3h1.2v1.2h-1.2zM379.7 507.4h1.2v1.2h-1.2zM345.0 530.7h1.2v1.2h-1.2zM347.0 517.8h1.2v1.2h-1.2zM351.6 532.4h1.2v1.2h-1.2zM366.2 506.5h1.2v1.2h-1.2zM350.9 518.4h1.2v1.2h-1.2zM371.3 515.2h1.2v1.2h-1.2zM374.3 512.6h1.2v1.2h-1.2zM330.2 508.2h1.2v1.2h-1.2zM367.1 538.1h1.2v1.2h-1.2zM368.8 519.3h1.2v1.2h-1.2zM346.1 516.4h1.2v1.2h-1.2zM362.6 503.5h1.2v1.2h-1.2zM365.1 530.2h1.2v1.2h-1.2zM354.9 530.3h1.2v1.2h-1.2zM362.4 517.8h1.2v1.2h-1.2zM368.6 506.2h1.2v1.2h-1.2zM356.6 525.0h1.2v1.2h-1.2zM363.0 519.5h1.2v1.2h-1.2zM346.9 505.5h1.2v1.2h-1.2zM372.7 539.6h1.2v1.2h-1.2zM354.9 526.5h1.2v1.2h-1.2zM379.1 510.0h1.2v1.2h-1.2zM367.2 511.7h1.2v1.2h-1.2zM372.6 527.1h1.2v1.2h-1.2zM357.3 531.0h1.2v1.2h-1.2zM369.9 525.3h1.2v1.2h-1.2zM360.1 524.7h1.2v1.2h-1.2zM370.3 516.1h1.2v1.2h-1.2zM352.1 539.7h1.2v1.2h-1.2zM349.5 517.1h1.2v1.2h-1.2zM363.0 522.0h1.2v1.2h-1.2zM352.5 523.6h1.2v1.2h-1.2zM379.0 517.2h1.2v1.2h-1.2zM374.0 527.4h1.2v1.2h-1.2zM368.5 534.9h1.2v1.2h-1.2zM361.7 498.5h1.2v1.2h-1.2zM361.4 517.9h1.2v1.2h-1.2zM377.4 532.1h1.2v1.2h-1.2zM364.8 533.6h1.2v1.2h-1.2zM364.0 515.5h1.2v1.2h-1.2zM369.9 526.5h1.2v1.2h-1.2zM365.8 521.9h1.2v1.2h-1.2zM360.2 521.4h1.2v1.2h-1.2zM360.6 514.0h1.2v1.2h-1.2zM378.2 529.7h1.2v1.2h-1.2zM356.9 531.6h1.2v1.2h-1.2zM357.1 535.5h1.2v1.2h-1.2zM379.3 522.7h1.2v1.2h-1.2zM379.8 521.4h1.2v1.2h-1.2zM376.3 531.0h1.2v1.2h-1.2zM351.8 552.1h1.2v1.2h-1.2zM370.1 517.9h1.2v1.2h-1.2zM355.9 519.3h1.2v1.2h-1.2zM369.8 537.2h1.2v1.2h-1.2zM341.7 509.3h1.2v1.2h-1.2zM361.1 495.8h1.2v1.2h-1.2zM379.1 529.7h1.2v1.2h-1.2zM366.8 533.7h1.2v1.2h-1.2zM330.0 533.1h1.2v1.2h-1.2zM377.9 530.0h1.2v1.2h-1.2zM369.1 530.9h1.2v1.2h-1.2zM360.1 513.7h1.2v1.2h-1.2zM363.9 530.4h1.2v1.2h-1.2zM359.4 510.7h1.2v1.2h-1.2zM379.8 505.2h1.2v1.2h-1.2zM363.5 518.2h1.2v1.2h-1.2zM341.4 507.9h1.2v1.2h-1.2zM351.9 509.7h1.2v1.2h-1.2zM373.1 514.0h1.2v1.2h-1.2zM379.8 516.2h1.2v1.2h-1.2zM375.2 521.6h1.2v1.2h-1.2zM352.9 510.4h1.2v1.2h-1.2zM371.6 514.4h1.2v1.2h-1.2zM378.5 518.7h1.2v1.2h-1.2zM365.4 521.7h1.2v1.2h-1.2zM374.3 524.7h1.2v1.2h-1.2zM379.9 527.6h1.2v1.2h-1.2zM378.7 522.4h1.2v1.2h-1.2zM370.5 524.5h1.2v1.2h-1.2zM370.7 526.6h1.2v1.2h-1.2zM346.8 520.0h1.2v1.2h-1.2zM360.0 521.9h1.2v1.2h-1.2zM375.9 511.4h1.2v1.2h-1.2zM371.8 522.4h1.2v1.2h-1.2zM366.7 529.6h1.2v1.2h-1.2zM379.5 513.9h1.2v1.2h-1.2zM364.4 532.8h1.2v1.2h-1.2zM350.6 515.2h1.2v1.2h-1.2zM370.3 530.5h1.2v1.2h-1.2zM370.7 536.3h1.2v1.2h-1.2zM351.7 522.4h1.2v1.2h-1.2zM352.1 516.4h1.2v1.2h-1.2zM364.9 524.5h1.2v1.2h-1.2zM357.1 516.3h1.2v1.2h-1.2zM371.3 511.4h1.2v1.2h-1.2zM345.1 530.2h1.2v1.2h-1.2zM375.7 501.7h1.2v1.2h-1.2zM355.6 528.9h1.2v1.2h-1.2zM369.2 512.7h1.2v1.2h-1.2zM342.3 529.1h1.2v1.2h-1.2zM377.4 515.3h1.2v1.2h-1.2zM367.1 537.7h1.2v1.2h-1.2zM366.1 515.3h1.2v1.2h-1.2zM340.9 498.5h1.2v1.2h-1.2zM338.5 548.3h1.2v1.2h-1.2zM374.4 520.4h1.2v1.2h-1.2zM376.8 518.9h1.2v1.2h-1.2zM339.1 520.0h1.2v1.2h-1.2zM371.7 517.0h1.2v1.2h-1.2zM377.4 523.0h1.2v1.2h-1.2zM375.9 512.8h1.2v1.2h-1.2zM366.1 541.1h1.2v1.2h-1.2zM342.5 513.4h1.2v1.2h-1.2zM337.0 526.3h1.2v1.2h-1.2zM366.2 533.0h1.2v1.2h-1.2zM370.0 517.9h1.2v1.2h-1.2zM378.1 528.5h1.2v1.2h-1.2zM359.8 514.9h1.2v1.2h-1.2zM361.0 510.5h1.2v1.2h-1.2zM361.4 512.4h1.2v1.2h-1.2zM351.1 530.5h1.2v1.2h-1.2zM360.2 530.2h1.2v1.2h-1.2zM348.6 511.3h1.2v1.2h-1.2zM358.4 529.9h1.2v1.2h-1.2zM380.0 511.3h1.2v1.2h-1.2zM364.6 521.8h1.2v1.2h-1.2zM354.8 526.8h1.2v1.2h-1.2zM371.4 500.2h1.2v1.2h-1.2zM377.3 526.0h1.2v1.2h-1.2zM364.9 517.1h1.2v1.2h-1.2zM339.8 505.7h1.2v1.2h-1.2zM377.5 526.6h1.2v1.2h-1.2zM377.2 522.8h1.2v1.2h-1.2zM356.0 523.4h1.2v1.2h-1.2zM375.6 517.3h1.2v1.2h-1.2zM352.6 513.5h1.2v1.2h-1.2zM360.6 507.2h1.2v1.2h-1.2zM357.8 517.7h1.2v1.2h-1.2zM366.9 509.7h1.2v1.2h-1.2zM362.4 515.6h1.2v1.2h-1.2zM375.5 523.8h1.2v1.2h-1.2zM359.4 527.5h1.2v1.2h-1.2zM370.6 523.9h1.2v1.2h-1.2zM365.0 522.6h1.2v1.2h-1.2zM367.8 517.2h1.2v1.2h-1.2zM352.7 529.0h1.2v1.2h-1.2zM363.8 531.2h1.2v1.2h-1.2zM376.1 515.1h1.2v1.2h-1.2zM376.0 515.6h1.2v1.2h-1.2zM347.8 510.4h1.2v1.2h-1.2zM358.6 517.0h1.2v1.2h-1.2zM350.1 515.6h1.2v1.2h-1.2zM354.1 538.7h1.2v1.2h-1.2zM355.2 532.9h1.2v1.2h-1.2zM347.1 506.8h1.2v1.2h-1.2zM370.9 527.3h1.2v1.2h-1.2zM377.1 517.5h1.2v1.2h-1.2zM366.5 503.1h1.2v1.2h-1.2zM357.6 522.3h1.2v1.2h-1.2zM366.6 513.3h1.2v1.2h-1.2zM353.6 522.8h1.2v1.2h-1.2zM379.0 524.8h1.2v1.2h-1.2zM362.7 513.5h1.2v1.2h-1.2zM326.6 534.2h1.2v1.2h-1.2zM369.8 521.1h1.2v1.2h-1.2zM365.0 512.3h1.2v1.2h-1.2zM367.1 504.1h1.2v1.2h-1.2zM360.4 541.2h1.2v1.2h-1.2zM343.2 512.1h1.2v1.2h-1.2zM363.2 520.4h1.2v1.2h-1.2zM358.7 522.5h1.2v1.2h-1.2zM362.2 528.3h1.2v1.2h-1.2zM363.7 506.8h1.2v1.2h-1.2zM357.3 496.3h1.2v1.2h-1.2zM363.5 520.8h1.2v1.2h-1.2zM346.7 505.3h1.2v1.2h-1.2zM358.8 517.0h1.2v1.2h-1.2zM346.3 539.6h1.2v1.2h-1.2zM362.0 514.0h1.2v1.2h-1.2zM373.9 526.2h1.2v1.2h-1.2zM363.6 508.9h1.2v1.2h-1.2zM352.5 548.4h1.2v1.2h-1.2zM345.6 516.0h1.2v1.2h-1.2zM371.9 523.5h1.2v1.2h-1.2zM354.2 518.3h1.2v1.2h-1.2zM373.1 513.8h1.2v1.2h-1.2zM354.4 529.9h1.2v1.2h-1.2zM356.7 517.4h1.2v1.2h-1.2zM363.4 510.7h1.2v1.2h-1.2zM341.2 514.4h1.2v1.2h-1.2zM378.9 516.6h1.2v1.2h-1.2zM348.1 520.4h1.2v1.2h-1.2zM366.3 520.8h1.2v1.2h-1.2zM370.5 511.6h1.2v1.2h-1.2zM362.7 514.5h1.2v1.2h-1.2zM370.9 539.4h1.2v1.2h-1.2zM376.0 516.8h1.2v1.2h-1.2zM357.0 532.4h1.2v1.2h-1.2zM362.2 515.0h1.2v1.2h-1.2zM364.1 522.7h1.2v1.2h-1.2zM379.2 513.2h1.2v1.2h-1.2zM350.3 500.1h1.2v1.2h-1.2zM369.9 513.8h1.2v1.2h-1.2zM355.6 527.6h1.2v1.2h-1.2zM350.7 531.3h1.2v1.2h-1.2zM338.3 529.4h1.2v1.2h-1.2zM356.9 513.7h1.2v1.2h-1.2zM362.4 515.8h1.2v1.2h-1.2zM372.4 507.9h1.2v1.2h-1.2zM371.1 521.6h1.2v1.2h-1.2zM379.7 526.8h1.2v1.2h-1.2zM354.3 521.1h1.2v1.2h-1.2zM363.7 511.7h1.2v1.2h-1.2zM368.4 522.8h1.2v1.2h-1.2zM352.4 519.8h1.2v1.2h-1.2zM368.3 523.6h1.2v1.2h-1.2zM360.4 517.2h1.2v1.2h-1.2zM367.5 520.9h1.2v1.2h-1.2zM344.7 512.0h1.2v1.2h-1.2zM335.7 510.9h1.2v1.2h-1.2zM376.4 494.5h1.2v1.2h-1.2zM365.0 521.0h1.2v1.2h-1.2zM363.1 520.6h1.2v1.2h-1.2zM359.3 509.7h1.2v1.2h-1.2zM378.8 533.9h1.2v1.2h-1.2zM370.8 530.8h1.2v1.2h-1.2zM355.3 535.7h1.2v1.2h-1.2zM369.9 518.0h1.2v1.2h-1.2zM368.0 516.7h1.2v1.2h-1.2zM361.1 522.4h1.2v1.2h-1.2zM375.2 528.2h1.2v1.2h-1.2zM375.4 533.9h1.2v1.2h-1.2zM372.8 510.0h1.2v1.2h-1.2zM353.3 517.7h1.2v1.2h-1.2zM355.2 499.7h1.2v1.2h-1.2zM379.5 516.8h1.2v1.2h-1.2zM368.2 528.2h1.2v1.2h-1.2zM357.1 526.0h1.2v1.2h-1.2zM369.4 542.2h1.2v1.2h-1.2zM365.4 526.0h1.2v1.2h-1.2zM358.9 515.3h1.2v1.2h-1.2zM362.5 512.1h1.2v1.2h-1.2zM375.7 522.0h1.2v1.2h-1.2zM369.7 535.4h1.2v1.2h-1.2zM353.0 507.3h1.2v1.2h-1.2zM354.7 510.2h1.2v1.2h-1.2zM369.2 520.2h1.2v1.2h-1.2zM350.4 516.2h1.2v1.2h-1.2zM366.8 528.1h1.2v1.2h-1.2zM363.3 515.0h1.2v1.2h-1.2zM346.8 519.9h1.2v1.2h-1.2zM331.4 519.4h1.2v1.2h-1.2zM353.1 521.6h1.2v1.2h-1.2zM364.7 532.7h1.2v1.2h-1.2zM364.8 506.9h1.2v1.2h-1.2zM377.6 502.7h1.2v1.2h-1.2zM364.8 505.0h1.2v1.2h-1.2zM363.7 516.6h1.2v1.2h-1.2zM369.9 520.6h1.2v1.2h-1.2zM358.6 524.7h1.2v1.2h-1.2zM371.2 522.5h1.2v1.2h-1.2zM356.6 520.7h1.2v1.2h-1.2zM352.6 502.2h1.2v1.2h-1.2zM357.6 513.1h1.2v1.2h-1.2zM378.5 523.6h1.2v1.2h-1.2zM356.6 507.5h1.2v1.2h-1.2zM353.9 514.8h1.2v1.2h-1.2zM372.7 515.2h1.2v1.2h-1.2zM379.0 524.2h1.2v1.2h-1.2zM358.6 510.9h1.2v1.2h-1.2zM374.2 503.2h1.2v1.2h-1.2zM355.2 515.9h1.2v1.2h-1.2zM376.0 516.6h1.2v1.2h-1.2zM349.4 527.5h1.2v1.2h-1.2zM360.6 513.6h1.2v1.2h-1.2zM358.4 517.2h1.2v1.2h-1.2zM351.4 514.4h1.2v1.2h-1.2zM363.2 514.8h1.2v1.2h-1.2zM373.7 539.5h1.2v1.2h-1.2zM352.7 494.8h1.2v1.2h-1.2zM369.1 525.1h1.2v1.2h-1.2zM367.7 511.7h1.2v1.2h-1.2zM369.0 520.2h1.2v1.2h-1.2zM353.4 504.5h1.2v1.2h-1.2zM363.3 521.3h1.2v1.2h-1.2zM376.7 511.6h1.2v1.2h-1.2zM350.2 524.8h1.2v1.2h-1.2zM354.5 532.6h1.2v1.2h-1.2zM352.6 507.3h1.2v1.2h-1.2zM345.8 503.9h1.2v1.2h-1.2zM373.0 530.5h1.2v1.2h-1.2zM352.9 538.3h1.2v1.2h-1.2zM372.8 519.5h1.2v1.2h-1.2zM346.6 499.4h1.2v1.2h-1.2zM359.3 504.3h1.2v1.2h-1.2zM364.7 528.7h1.2v1.2h-1.2zM350.2 536.4h1.2v1.2h-1.2zM334.1 518.2h1.2v1.2h-1.2zM355.0 506.3h1.2v1.2h-1.2zM363.7 530.6h1.2v1.2h-1.2zM350.8 506.2h1.2v1.2h-1.2zM367.8 512.8h1.2v1.2h-1.2zM338.0 513.3h1.2v1.2h-1.2zM368.2 513.2h1.2v1.2h-1.2zM366.7 524.7h1.2v1.2h-1.2zM377.5 510.0h1.2v1.2h-1.2zM378.0 520.9h1.2v1.2h-1.2zM359.1 530.0h1.2v1.2h-1.2zM358.1 530.0h1.2v1.2h-1.2zM379.8 532.5h1.2v1.2h-1.2zM359.4 515.8h1.2v1.2h-1.2zM373.1 502.9h1.2v1.2h-1.2zM350.4 521.3h1.2v1.2h-1.2zM369.4 521.6h1.2v1.2h-1.2zM366.5 522.2h1.2v1.2h-1.2zM332.9 515.7h1.2v1.2h-1.2zM362.4 523.9h1.2v1.2h-1.2zM372.0 509.5h1.2v1.2h-1.2zM371.6 527.4h1.2v1.2h-1.2zM369.2 536.6h1.2v1.2h-1.2zM378.0 520.8h1.2v1.2h-1.2zM363.1 520.0h1.2v1.2h-1.2zM353.3 525.7h1.2v1.2h-1.2zM376.8 524.9h1.2v1.2h-1.2zM366.2 525.1h1.2v1.2h-1.2zM359.3 521.5h1.2v1.2h-1.2zM374.7 516.9h1.2v1.2h-1.2zM361.6 534.8h1.2v1.2h-1.2zM343.2 508.0h1.2v1.2h-1.2zM351.5 530.4h1.2v1.2h-1.2zM352.0 511.3h1.2v1.2h-1.2zM379.6 524.2h1.2v1.2h-1.2zM365.5 510.3h1.2v1.2h-1.2zM356.3 504.6h1.2v1.2h-1.2zM365.8 509.5h1.2v1.2h-1.2zM376.3 510.1h1.2v1.2h-1.2zM362.9 532.4h1.2v1.2h-1.2zM353.9 513.7h1.2v1.2h-1.2zM369.1 512.7h1.2v1.2h-1.2zM352.3 510.0h1.2v1.2h-1.2zM371.1 519.2h1.2v1.2h-1.2zM377.9 519.2h1.2v1.2h-1.2zM366.6 524.9h1.2v1.2h-1.2zM358.0 512.7h1.2v1.2h-1.2zM365.7 507.8h1.2v1.2h-1.2zM344.2 518.8h1.2v1.2h-1.2zM373.9 527.8h1.2v1.2h-1.2zM362.8 526.6h1.2v1.2h-1.2zM364.3 509.9h1.2v1.2h-1.2zM335.1 514.6h1.2v1.2h-1.2zM354.5 522.6h1.2v1.2h-1.2zM343.7 513.8h1.2v1.2h-1.2zM337.7 505.9h1.2v1.2h-1.2zM362.0 521.3h1.2v1.2h-1.2zM361.7 516.0h1.2v1.2h-1.2zM355.2 522.2h1.2v1.2h-1.2zM379.5 527.6h1.2v1.2h-1.2zM364.5 514.7h1.2v1.2h-1.2zM350.3 508.5h1.2v1.2h-1.2zM369.8 512.1h1.2v1.2h-1.2zM346.3 526.9h1.2v1.2h-1.2zM359.1 520.4h1.2v1.2h-1.2zM352.3 526.9h1.2v1.2h-1.2zM368.1 516.1h1.2v1.2h-1.2zM360.2 526.6h1.2v1.2h-1.2zM355.8 514.8h1.2v1.2h-1.2zM367.7 513.3h1.2v1.2h-1.2zM370.6 519.4h1.2v1.2h-1.2zM367.4 518.3h1.2v1.2h-1.2zM379.7 517.2h1.2v1.2h-1.2zM349.3 520.0h1.2v1.2h-1.2zM369.6 528.7h1.2v1.2h-1.2zM372.5 513.0h1.2v1.2h-1.2zM364.2 502.6h1.2v1.2h-1.2zM333.0 523.5h1.2v1.2h-1.2zM377.7 537.6h1.2v1.2h-1.2zM361.2 529.6h1.2v1.2h-1.2zM373.1 508.0h1.2v1.2h-1.2zM367.9 523.9h1.2v1.2h-1.2zM372.7 530.2h1.2v1.2h-1.2zM378.8 528.1h1.2v1.2h-1.2zM365.8 537.0h1.2v1.2h-1.2zM375.1 527.7h1.2v1.2h-1.2zM345.8 492.7h1.2v1.2h-1.2zM351.5 525.1h1.2v1.2h-1.2zM362.3 512.1h1.2v1.2h-1.2zM373.8 510.6h1.2v1.2h-1.2zM352.4 503.0h1.2v1.2h-1.2zM359.1 507.2h1.2v1.2h-1.2zM373.4 516.0h1.2v1.2h-1.2zM356.6 530.0h1.2v1.2h-1.2zM345.8 530.5h1.2v1.2h-1.2zM336.4 525.9h1.2v1.2h-1.2zM375.0 531.4h1.2v1.2h-1.2zM348.1 515.7h1.2v1.2h-1.2zM368.9 511.4h1.2v1.2h-1.2zM371.2 537.9h1.2v1.2h-1.2zM350.0 524.0h1.2v1.2h-1.2zM370.2 516.1h1.2v1.2h-1.2zM333.9 526.8h1.2v1.2h-1.2zM362.4 512.3h1.2v1.2h-1.2zM349.3 534.8h1.2v1.2h-1.2zM367.2 506.9h1.2v1.2h-1.2zM366.7 514.3h1.2v1.2h-1.2zM366.5 517.8h1.2v1.2h-1.2zM372.7 517.6h1.2v1.2h-1.2zM355.0 507.5h1.2v1.2h-1.2zM343.6 527.9h1.2v1.2h-1.2zM346.5 525.6h1.2v1.2h-1.2zM377.9 520.1h1.2v1.2h-1.2zM349.3 525.2h1.2v1.2h-1.2zM359.0 515.1h1.2v1.2h-1.2zM368.9 529.0h1.2v1.2h-1.2zM361.7 514.1h1.2v1.2h-1.2zM350.0 509.3h1.2v1.2h-1.2zM334.3 517.9h1.2v1.2h-1.2zM377.1 517.7h1.2v1.2h-1.2zM355.8 523.0h1.2v1.2h-1.2zM341.0 526.2h1.2v1.2h-1.2zM354.9 536.0h1.2v1.2h-1.2zM364.6 506.8h1.2v1.2h-1.2zM336.3 504.3h1.2v1.2h-1.2zM365.8 522.4h1.2v1.2h-1.2zM364.0 532.4h1.2v1.2h-1.2zM370.2 529.7h1.2v1.2h-1.2zM364.1 518.8h1.2v1.2h-1.2zM349.9 517.6h1.2v1.2h-1.2zM341.0 517.1h1.2v1.2h-1.2zM361.1 537.0h1.2v1.2h-1.2zM356.5 517.9h1.2v1.2h-1.2zM374.7 523.1h1.2v1.2h-1.2zM359.8 508.2h1.2v1.2h-1.2zM369.6 528.8h1.2v1.2h-1.2zM364.6 518.7h1.2v1.2h-1.2zM339.2 517.5h1.2v1.2h-1.2zM374.4 517.2h1.2v1.2h-1.2zM357.3 518.8h1.2v1.2h-1.2zM343.5 546.1h1.2v1.2h-1.2zM369.5 526.0h1.2v1.2h-1.2zM378.9 526.5h1.2v1.2h-1.2zM362.1 512.8h1.2v1.2h-1.2zM359.8 506.6h1.2v1.2h-1.2zM354.7 499.5h1.2v1.2h-1.2zM357.7 514.5h1.2v1.2h-1.2zM379.3 521.7h1.2v1.2h-1.2zM364.9 522.3h1.2v1.2h-1.2zM369.6 506.2h1.2v1.2h-1.2zM371.8 526.4h1.2v1.2h-1.2zM322.6 514.8h1.2v1.2h-1.2zM366.0 531.0h1.2v1.2h-1.2zM371.7 517.7h1.2v1.2h-1.2zM366.8 520.6h1.2v1.2h-1.2zM342.9 513.2h1.2v1.2h-1.2zM352.7 513.6h1.2v1.2h-1.2zM373.1 520.5h1.2v1.2h-1.2zM369.5 525.7h1.2v1.2h-1.2zM369.9 527.1h1.2v1.2h-1.2zM347.6 513.4h1.2v1.2h-1.2zM367.5 508.3h1.2v1.2h-1.2zM376.1 524.3h1.2v1.2h-1.2zM364.2 532.5h1.2v1.2h-1.2zM377.5 515.5h1.2v1.2h-1.2zM375.7 516.2h1.2v1.2h-1.2zM375.2 516.0h1.2v1.2h-1.2zM354.2 523.5h1.2v1.2h-1.2zM354.6 529.4h1.2v1.2h-1.2zM354.2 511.3h1.2v1.2h-1.2zM379.7 524.4h1.2v1.2h-1.2zM378.9 534.0h1.2v1.2h-1.2zM349.1 526.0h1.2v1.2h-1.2zM345.7 513.0h1.2v1.2h-1.2zM365.4 506.5h1.2v1.2h-1.2zM378.1 520.7h1.2v1.2h-1.2zM367.4 533.3h1.2v1.2h-1.2zM372.5 528.0h1.2v1.2h-1.2zM370.4 534.1h1.2v1.2h-1.2zM371.7 516.9h1.2v1.2h-1.2zM361.7 521.0h1.2v1.2h-1.2zM370.3 512.7h1.2v1.2h-1.2zM373.2 525.7h1.2v1.2h-1.2zM362.1 518.6h1.2v1.2h-1.2zM372.9 513.0h1.2v1.2h-1.2zM348.8 516.8h1.2v1.2h-1.2zM358.3 525.9h1.2v1.2h-1.2zM351.9 528.9h1.2v1.2h-1.2zM378.5 528.0h1.2v1.2h-1.2zM378.8 542.7h1.2v1.2h-1.2zM353.2 527.8h1.2v1.2h-1.2zM364.7 511.8h1.2v1.2h-1.2zM357.3 530.9h1.2v1.2h-1.2zM344.6 512.5h1.2v1.2h-1.2zM352.4 510.2h1.2v1.2h-1.2zM368.2 527.5h1.2v1.2h-1.2zM371.5 515.1h1.2v1.2h-1.2zM353.4 520.8h1.2v1.2h-1.2zM363.6 515.9h1.2v1.2h-1.2zM375.1 518.9h1.2v1.2h-1.2zM377.2 504.3h1.2v1.2h-1.2zM368.5 529.3h1.2v1.2h-1.2zM352.3 532.4h1.2v1.2h-1.2zM341.7 518.5h1.2v1.2h-1.2zM364.6 532.6h1.2v1.2h-1.2zM359.3 529.0h1.2v1.2h-1.2zM355.5 532.2h1.2v1.2h-1.2zM354.1 534.9h1.2v1.2h-1.2zM355.9 509.2h1.2v1.2h-1.2zM365.8 528.6h1.2v1.2h-1.2zM373.0 519.5h1.2v1.2h-1.2zM352.3 528.1h1.2v1.2h-1.2zM370.5 518.4h1.2v1.2h-1.2zM376.6 540.5h1.2v1.2h-1.2zM360.3 536.7h1.2v1.2h-1.2zM368.0 520.8h1.2v1.2h-1.2zM375.2 525.2h1.2v1.2h-1.2zM351.0 523.1h1.2v1.2h-1.2zM355.2 523.4h1.2v1.2h-1.2zM355.3 529.8h1.2v1.2h-1.2zM349.7 511.8h1.2v1.2h-1.2zM373.7 507.5h1.2v1.2h-1.2zM360.7 531.6h1.2v1.2h-1.2zM365.1 524.3h1.2v1.2h-1.2zM364.9 516.7h1.2v1.2h-1.2zM361.0 514.6h1.2v1.2h-1.2zM375.2 506.9h1.2v1.2h-1.2zM361.5 518.3h1.2v1.2h-1.2zM351.9 504.6h1.2v1.2h-1.2zM344.7 522.3h1.2v1.2h-1.2zM354.4 523.6h1.2v1.2h-1.2zM366.4 514.5h1.2v1.2h-1.2zM366.2 530.5h1.2v1.2h-1.2zM367.8 528.0h1.2v1.2h-1.2zM358.0 522.7h1.2v1.2h-1.2zM369.9 513.7h1.2v1.2h-1.2zM370.2 514.5h1.2v1.2h-1.2zM347.2 511.7h1.2v1.2h-1.2zM320.4 515.0h1.2v1.2h-1.2zM311.4 538.5h1.2v1.2h-1.2zM303.0 524.0h1.2v1.2h-1.2zM328.1 528.1h1.2v1.2h-1.2zM343.6 515.3h1.2v1.2h-1.2zM301.4 515.8h1.2v1.2h-1.2zM341.0 528.4h1.2v1.2h-1.2zM338.4 507.2h1.2v1.2h-1.2zM314.7 533.3h1.2v1.2h-1.2zM332.2 516.7h1.2v1.2h-1.2zM331.8 530.8h1.2v1.2h-1.2zM331.3 516.2h1.2v1.2h-1.2zM328.1 521.7h1.2v1.2h-1.2zM336.5 522.8h1.2v1.2h-1.2zM338.9 530.4h1.2v1.2h-1.2zM310.9 514.3h1.2v1.2h-1.2zM322.9 527.1h1.2v1.2h-1.2zM340.9 524.7h1.2v1.2h-1.2zM304.5 529.1h1.2v1.2h-1.2zM324.8 514.5h1.2v1.2h-1.2zM335.9 522.1h1.2v1.2h-1.2zM340.5 515.4h1.2v1.2h-1.2zM329.6 518.6h1.2v1.2h-1.2zM323.5 531.8h1.2v1.2h-1.2zM322.3 532.8h1.2v1.2h-1.2zM311.9 513.7h1.2v1.2h-1.2zM315.3 520.6h1.2v1.2h-1.2zM331.0 521.4h1.2v1.2h-1.2zM339.8 513.5h1.2v1.2h-1.2zM342.7 518.5h1.2v1.2h-1.2zM341.7 512.4h1.2v1.2h-1.2zM312.1 527.1h1.2v1.2h-1.2zM311.1 513.5h1.2v1.2h-1.2zM303.7 534.8h1.2v1.2h-1.2zM340.4 504.3h1.2v1.2h-1.2zM325.2 527.2h1.2v1.2h-1.2zM315.0 527.5h1.2v1.2h-1.2zM329.2 516.1h1.2v1.2h-1.2zM337.2 506.7h1.2v1.2h-1.2zM332.7 523.6h1.2v1.2h-1.2zM308.6 510.9h1.2v1.2h-1.2zM325.2 531.8h1.2v1.2h-1.2zM300.8 523.0h1.2v1.2h-1.2zM312.6 521.8h1.2v1.2h-1.2zM325.5 523.0h1.2v1.2h-1.2zM328.9 528.7h1.2v1.2h-1.2zM309.5 521.7h1.2v1.2h-1.2zM330.7 526.9h1.2v1.2h-1.2zM315.8 525.2h1.2v1.2h-1.2zM302.7 517.2h1.2v1.2h-1.2zM344.4 531.9h1.2v1.2h-1.2zM325.3 536.3h1.2v1.2h-1.2zM327.3 531.9h1.2v1.2h-1.2zM307.3 523.0h1.2v1.2h-1.2zM334.1 528.0h1.2v1.2h-1.2zM303.2 512.3h1.2v1.2h-1.2zM307.4 514.5h1.2v1.2h-1.2zM337.5 514.0h1.2v1.2h-1.2zM334.5 516.6h1.2v1.2h-1.2zM320.0 529.4h1.2v1.2h-1.2zM347.4 561.7h1.2v1.2h-1.2zM350.2 536.9h1.2v1.2h-1.2zM337.1 542.9h1.2v1.2h-1.2zM349.4 557.5h1.2v1.2h-1.2zM334.8 549.0h1.2v1.2h-1.2zM373.0 535.9h1.2v1.2h-1.2zM357.3 568.3h1.2v1.2h-1.2zM373.6 565.3h1.2v1.2h-1.2zM379.9 535.4h1.2v1.2h-1.2zM366.7 555.4h1.2v1.2h-1.2zM364.7 567.3h1.2v1.2h-1.2zM361.7 539.0h1.2v1.2h-1.2zM353.3 551.8h1.2v1.2h-1.2zM327.2 548.1h1.2v1.2h-1.2zM362.4 569.9h1.2v1.2h-1.2zM349.2 537.5h1.2v1.2h-1.2zM344.8 537.3h1.2v1.2h-1.2zM351.0 550.4h1.2v1.2h-1.2zM359.3 551.5h1.2v1.2h-1.2zM370.0 548.7h1.2v1.2h-1.2zM344.8 556.0h1.2v1.2h-1.2zM340.9 544.8h1.2v1.2h-1.2zM375.7 560.8h1.2v1.2h-1.2zM367.9 550.2h1.2v1.2h-1.2zM371.6 569.3h1.2v1.2h-1.2zM355.6 537.7h1.2v1.2h-1.2zM338.9 557.3h1.2v1.2h-1.2zM379.4 542.1h1.2v1.2h-1.2zM378.2 556.9h1.2v1.2h-1.2zM350.7 554.0h1.2v1.2h-1.2zM365.9 543.9h1.2v1.2h-1.2zM376.0 548.7h1.2v1.2h-1.2zM363.2 553.3h1.2v1.2h-1.2zM377.7 557.0h1.2v1.2h-1.2zM368.1 566.5h1.2v1.2h-1.2zM356.6 555.2h1.2v1.2h-1.2zM353.1 566.0h1.2v1.2h-1.2zM359.0 555.5h1.2v1.2h-1.2zM350.0 554.8h1.2v1.2h-1.2zM369.4 540.0h1.2v1.2h-1.2zM296.3 520.1h1.2v1.2h-1.2zM296.7 536.3h1.2v1.2h-1.2zM296.4 537.1h1.2v1.2h-1.2zM296.2 522.7h1.2v1.2h-1.2zM296.7 543.9h1.2v1.2h-1.2zM296.7 510.5h1.2v1.2h-1.2zM296.5 546.4h1.2v1.2h-1.2zM296.5 539.1h1.2v1.2h-1.2zM296.1 538.3h1.2v1.2h-1.2zM296.1 521.1h1.2v1.2h-1.2zM296.4 542.4h1.2v1.2h-1.2zM296.4 524.3h1.2v1.2h-1.2zM296.1 495.7h1.2v1.2h-1.2z" fill="#0000f0" fill-opacity="0.85"/>
<rect x="295.5" y="436.3" width="175" height="140.5" fill="none" stroke="#3a3a3a" stroke-width="1"/>
<path d="M380.9 435.8 V576.3 M295 524.5 H470" stroke="#222" stroke-width="1" fill="none"/>
<path d="M290.5 576.8H295M292.5 566.2H295M292.5 560.0H295M292.5 555.7H295M292.5 552.2H295M292.5 549.5H295M292.5 547.1H295M292.5 545.1H295M292.5 543.3H295M290.5 541.7H295M292.5 531.1H295M292.5 524.9H295M292.5 520.5H295M292.5 517.1H295M292.5 514.3H295M292.5 512.0H295M292.5 510.0H295M292.5 508.2H295M290.5 506.5H295M292.5 496.0H295M292.5 489.8H295M292.5 485.4H295M292.5 482.0H295M292.5 479.2H295M292.5 476.9H295M292.5 474.8H295M292.5 473.0H295M290.5 471.4H295M292.5 460.9H295M292.5 454.7H295M292.5 450.3H295M292.5 446.9H295M292.5 444.1H295M292.5 441.7H295M292.5 439.7H295M292.5 437.9H295M290.5 436.3H295M295.5 576.8V580.8M307.8 576.8V580.8M336.5 576.8V580.8M369.3 576.8V580.8M402.6 576.8V580.8M436.0 576.8V580.8M470.0 576.8V580.8M298.4 576.8V579.5M303.2 576.8V579.5M312.9 576.8V579.5M317.4 576.8V579.5M320.8 576.8V579.5M324.0 576.8V579.5M326.5 576.8V579.5M328.8 576.8V579.5M330.8 576.8V579.5M332.5 576.8V579.5M333.9 576.8V579.5M335.3 576.8V579.5M346.4 576.8V579.5M352.1 576.8V579.5M356.2 576.8V579.5M359.4 576.8V579.5M362.0 576.8V579.5M364.2 576.8V579.5M366.1 576.8V579.5M367.8 576.8V579.5M379.3 576.8V579.5M385.2 576.8V579.5M389.3 576.8V579.5M392.6 576.8V579.5M395.2 576.8V579.5M397.4 576.8V579.5M399.4 576.8V579.5M401.1 576.8V579.5M412.7 576.8V579.5M418.5 576.8V579.5M422.7 576.8V579.5M425.9 576.8V579.5M428.6 576.8V579.5M430.8 576.8V579.5M432.8 576.8V579.5M434.5 576.8V579.5M446.2 576.8V579.5M452.2 576.8V579.5M456.5 576.8V579.5M459.8 576.8V579.5M462.5 576.8V579.5M464.7 576.8V579.5M466.7 576.8V579.5M468.4 576.8V579.5" stroke="#3a3a3a" stroke-width="1" fill="none"/>
<text transform="translate(286.40,576.60) rotate(-90) scale(0.85,1)" font-family="Liberation Sans" fill="#262626" font-size="9" text-anchor="middle">10</text>
<text transform="translate(281.40,572.50) rotate(-90) scale(0.85,1)" font-family="Liberation Sans" fill="#262626" font-size="6.2" text-anchor="start">2</text>
<text transform="translate(286.40,541.47) rotate(-90) scale(0.85,1)" font-family="Liberation Sans" fill="#262626" font-size="9" text-anchor="middle">10</text>
<text transform="translate(281.40,537.38) rotate(-90) scale(0.85,1)" font-family="Liberation Sans" fill="#262626" font-size="6.2" text-anchor="start">3</text>
<text transform="translate(286.40,506.35) rotate(-90) scale(0.85,1)" font-family="Liberation Sans" fill="#262626" font-size="9" text-anchor="middle">10</text>
<text transform="translate(281.40,502.25) rotate(-90) scale(0.85,1)" font-family="Liberation Sans" fill="#262626" font-size="6.2" text-anchor="start">4</text>
<text transform="translate(286.40,471.22) rotate(-90) scale(0.85,1)" font-family="Liberation Sans" fill="#262626" font-size="9" text-anchor="middle">10</text>
<text transform="translate(281.40,467.12) rotate(-90) scale(0.85,1)" font-family="Liberation Sans" fill="#262626" font-size="6.2" text-anchor="start">5</text>
<text transform="translate(286.40,436.10) rotate(-90) scale(0.85,1)" font-family="Liberation Sans" fill="#262626" font-size="9" text-anchor="middle">10</text>
<text transform="translate(281.40,432.00) rotate(-90) scale(0.85,1)" font-family="Liberation Sans" fill="#262626" font-size="6.2" text-anchor="start">6</text>
<text transform="translate(308.20,589.00) scale(1.1,1)" font-family="Liberation Sans" fill="#262626" font-size="8" text-anchor="middle">0</text>
<text transform="translate(335.90,589.00) scale(1.1,1)" font-family="Liberation Sans" fill="#262626" font-size="8" text-anchor="middle">10</text>
<text transform="translate(341.10,585.30) scale(1.1,1)" font-family="Liberation Sans" fill="#262626" font-size="5.7" text-anchor="start">2</text>
<text transform="translate(368.70,589.00) scale(1.1,1)" font-family="Liberation Sans" fill="#262626" font-size="8" text-anchor="middle">10</text>
<text transform="translate(373.90,585.30) scale(1.1,1)" font-family="Liberation Sans" fill="#262626" font-size="5.7" text-anchor="start">3</text>
<text transform="translate(402.00,589.00) scale(1.1,1)" font-family="Liberation Sans" fill="#262626" font-size="8" text-anchor="middle">10</text>
<text transform="translate(407.20,585.30) scale(1.1,1)" font-family="Liberation Sans" fill="#262626" font-size="5.7" text-anchor="start">4</text>
<text transform="translate(435.40,589.00) scale(1.1,1)" font-family="Liberation Sans" fill="#262626" font-size="8" text-anchor="middle">10</text>
<text transform="translate(440.60,585.30) scale(1.1,1)" font-family="Liberation Sans" fill="#262626" font-size="5.7" text-anchor="start">5</text>
<text transform="translate(469.40,589.00) scale(1.1,1)" font-family="Liberation Sans" fill="#262626" font-size="8" text-anchor="middle">10</text>
<text transform="translate(474.60,585.30) scale(1.1,1)" font-family="Liberation Sans" fill="#262626" font-size="5.7" text-anchor="start">6</text>
<text x="382.10" y="598.10" font-family="Liberation Sans" font-size="8.6" font-weight="normal" text-anchor="middle" fill="#262626" textLength="47.4" lengthAdjust="spacingAndGlyphs" >CD5 APC-A</text>
<text transform="translate(274.60,506.10) rotate(-90)" font-family="Liberation Sans" font-size="8.4" font-weight="normal" text-anchor="middle" fill="#262626" textLength="63.5" lengthAdjust="spacingAndGlyphs" >IL-10/DNMT1 PE-A</text>
<text x="375.00" y="432.40" font-family="Liberation Sans" font-size="8.5" font-weight="normal" text-anchor="middle" fill="#262626" letter-spacing="0.4">IL-6+toc-IL-10 : H1-LR</text>
<text x="298.10" y="445.70" font-family="Liberation Sans" font-size="8.6" font-weight="normal" text-anchor="start" fill="#262626" letter-spacing="0.28">Q2-UL(54.68%)</text>
<text x="467.00" y="445.70" font-family="Liberation Sans" font-size="8.6" font-weight="normal" text-anchor="end" fill="#262626" letter-spacing="0.28">Q2-UR(0.00%)</text>
<text x="298.10" y="572.80" font-family="Liberation Sans" font-size="8.6" font-weight="normal" text-anchor="start" fill="#262626" letter-spacing="0.28">Q2-LL(45.32%)</text>
<text x="467.00" y="572.80" font-family="Liberation Sans" font-size="8.6" font-weight="normal" text-anchor="end" fill="#262626" letter-spacing="0.28">Q2-LR(0.00%)</text>
</g>
<path d="M569 19.6 V242.2 M565.5 241.2 H790" stroke="#000" stroke-width="2" fill="none"/>
<path d="M564.5 241.2H569M564.5 196.9H569M564.5 152.6H569M564.5 108.2H569M564.5 63.9H569M564.5 19.6H569M605.6 241.2V247.2M679 241.2V247.2M752.6 241.2V247.2" stroke="#000" stroke-width="1.8" fill="none"/>
<text transform="translate(563.40,246.80) scale(0.62,1)" font-family="Liberation Sans" font-size="17" text-anchor="end" fill="#000" stroke="#000" stroke-width="0.5">0</text>
<text transform="translate(563.40,202.48) scale(0.62,1)" font-family="Liberation Sans" font-size="17" text-anchor="end" fill="#000" stroke="#000" stroke-width="0.5">20</text>
<text transform="translate(563.40,158.16) scale(0.62,1)" font-family="Liberation Sans" font-size="17" text-anchor="end" fill="#000" stroke="#000" stroke-width="0.5">40</text>
<text transform="translate(563.40,113.84) scale(0.62,1)" font-family="Liberation Sans" font-size="17" text-anchor="end" fill="#000" stroke="#000" stroke-width="0.5">60</text>
<text transform="translate(563.40,69.52) scale(0.62,1)" font-family="Liberation Sans" font-size="17" text-anchor="end" fill="#000" stroke="#000" stroke-width="0.5">80</text>
<text transform="translate(563.40,25.20) scale(0.62,1)" font-family="Liberation Sans" font-size="17" text-anchor="end" fill="#000" stroke="#000" stroke-width="0.5">100</text>
<text x="592.80" y="264.20" font-family="Liberation Serif" font-size="16.4" font-weight="bold" fill="#000" stroke="#000" stroke-width="0.3" textLength="25.8" lengthAdjust="spacingAndGlyphs">blank</text>
<text x="653.60" y="264.20" font-family="Liberation Serif" font-size="16.4" font-weight="bold" fill="#000" stroke="#000" stroke-width="0.3" textLength="51.0" lengthAdjust="spacingAndGlyphs">IL-6 group</text>
<text x="715.90" y="264.20" font-family="Liberation Serif" font-size="16.4" font-weight="bold" fill="#000" stroke="#000" stroke-width="0.3" textLength="72.4" lengthAdjust="spacingAndGlyphs">IL-6+toc group</text>
<ellipse cx="606.1" cy="41.5" rx="3" ry="4.4" fill="#000"/>
<ellipse cx="610.7" cy="52.1" rx="3" ry="4.4" fill="#000"/>
<ellipse cx="601.6" cy="55.2" rx="3" ry="4.4" fill="#000"/>
<ellipse cx="596.6" cy="66.8" rx="3" ry="4.4" fill="#000"/>
<ellipse cx="614.9" cy="63.8" rx="3" ry="4.4" fill="#000"/>
<ellipse cx="605.8" cy="69.0" rx="3" ry="4.4" fill="#000"/>
<ellipse cx="606.0" cy="90.8" rx="3" ry="4.4" fill="#000"/>
<ellipse cx="606.0" cy="108.3" rx="3" ry="4.4" fill="#000"/>
<ellipse cx="592.5" cy="111.7" rx="3" ry="4.4" fill="#000"/>
<ellipse cx="619.2" cy="110.4" rx="3" ry="4.4" fill="#000"/>
<ellipse cx="610.4" cy="116.7" rx="3" ry="4.4" fill="#000"/>
<ellipse cx="601.7" cy="123.3" rx="3" ry="4.4" fill="#000"/>
<path d="M605.8 54.6 V112.9 M581.5 84 H630.0999999999999 M593.5999999999999 54.6 H618.0 M593.5999999999999 112.9 H618.0" stroke="#000" stroke-width="2.4" fill="none"/>
<rect x="676.8" y="67.2" width="5.6" height="8.8" fill="#000"/>
<rect x="672.2" y="79.7" width="5.6" height="8.8" fill="#000"/>
<rect x="681.0" y="88.4" width="5.6" height="8.8" fill="#000"/>
<rect x="672.5" y="111.3" width="5.6" height="8.8" fill="#000"/>
<rect x="681.0" y="110.8" width="5.6" height="8.8" fill="#000"/>
<rect x="676.7" y="137.1" width="5.6" height="8.8" fill="#000"/>
<rect x="667.7" y="151.4" width="5.6" height="8.8" fill="#000"/>
<rect x="676.7" y="158.1" width="5.6" height="8.8" fill="#000"/>
<rect x="685.5" y="156.9" width="5.6" height="8.8" fill="#000"/>
<rect x="676.7" y="207.5" width="5.6" height="8.8" fill="#000"/>
<rect x="681.3" y="220.0" width="5.6" height="8.8" fill="#000"/>
<rect x="672.2" y="227.6" width="5.6" height="8.8" fill="#000"/>
<path d="M679.3 93.3 V201.9 M655.0 147.2 H703.5999999999999 M667.0999999999999 93.3 H691.5 M667.0999999999999 201.9 H691.5" stroke="#000" stroke-width="2.4" fill="none"/>
<path d="M752.9 54.5L756.0 63.5L749.8 63.5Z" fill="#000"/>
<path d="M743.5 67.5L746.6 76.5L740.4 76.5Z" fill="#000"/>
<path d="M761.9 67.0L765.0 76.0L758.8 76.0Z" fill="#000"/>
<path d="M752.5 76.4L755.6 85.4L749.4 85.4Z" fill="#000"/>
<path d="M757.3 89.4L760.4 98.4L754.2 98.4Z" fill="#000"/>
<path d="M748.5 96.3L751.6 105.3L745.4 105.3Z" fill="#000"/>
<path d="M739.3 103.3L742.4 112.3L736.2 112.3Z" fill="#000"/>
<path d="M765.9 109.7L769.0 118.7L762.8 118.7Z" fill="#000"/>
<path d="M748.5 114.3L751.6 123.3L745.4 123.3Z" fill="#000"/>
<path d="M757.3 115.3L760.4 124.3L754.2 124.3Z" fill="#000"/>
<path d="M752.9 138.8L756.0 147.8L749.8 147.8Z" fill="#000"/>
<path d="M752.6 72.5 V123.8 M728.3000000000001 97.8 H776.9 M740.4 72.5 H764.8000000000001 M740.4 123.8 H764.8000000000001" stroke="#000" stroke-width="2.4" fill="none"/>
<path d="M607.3000000000001 24 V17.4 H678.3 V24" stroke="#000" stroke-width="2.6" fill="none"/>
<polygon points="641.60,9.23 642.22,11.36 644.07,11.42 642.60,12.80 643.13,14.97 641.60,13.68 640.07,14.97 640.60,12.80 639.13,11.42 640.98,11.36" fill="#111"/>
<polygon points="646.60,9.23 647.22,11.36 649.07,11.42 647.60,12.80 648.13,14.97 646.60,13.68 645.07,14.97 645.60,12.80 644.13,11.42 645.98,11.36" fill="#111"/>
<path d="M679.9000000000001 46.7 V39.7 H750.6999999999999 V46.7" stroke="#000" stroke-width="2.6" fill="none"/>
<polygon points="716.50,31.23 717.12,33.36 718.97,33.42 717.50,34.80 718.03,36.97 716.50,35.68 714.97,36.97 715.50,34.80 714.03,33.42 715.88,33.36" fill="#111"/>
<text transform="translate(538.6,130.3) rotate(-90)" font-family="Liberation Serif" font-weight="bold" font-size="15.5" text-anchor="middle" fill="#000" textLength="199" lengthAdjust="spacingAndGlyphs">CD5<tspan font-size="11" dy="-6.5">+</tspan><tspan dy="6.5">IL-10</tspan><tspan font-size="11" dy="-6.5">+</tspan><tspan dy="6.5">/CD5</tspan><tspan font-size="11" dy="-6.5">+</tspan><tspan dy="6.5">(%)</tspan></text>
<path d="M569 337.5 V554 M565.5 553 H790" stroke="#000" stroke-width="2" fill="none"/>
<path d="M564.5 553.0H569M564.5 509.9H569M564.5 466.8H569M564.5 423.7H569M564.5 380.6H569M564.5 337.5H569M605.6 553V559M679 553V559M752.6 553V559" stroke="#000" stroke-width="1.8" fill="none"/>
<text transform="translate(563.40,558.60) scale(0.62,1)" font-family="Liberation Sans" font-size="17" text-anchor="end" fill="#000" stroke="#000" stroke-width="0.5">0</text>
<text transform="translate(563.40,515.50) scale(0.62,1)" font-family="Liberation Sans" font-size="17" text-anchor="end" fill="#000" stroke="#000" stroke-width="0.5">20</text>
<text transform="translate(563.40,472.40) scale(0.62,1)" font-family="Liberation Sans" font-size="17" text-anchor="end" fill="#000" stroke="#000" stroke-width="0.5">40</text>
<text transform="translate(563.40,429.30) scale(0.62,1)" font-family="Liberation Sans" font-size="17" text-anchor="end" fill="#000" stroke="#000" stroke-width="0.5">60</text>
<text transform="translate(563.40,386.20) scale(0.62,1)" font-family="Liberation Sans" font-size="17" text-anchor="end" fill="#000" stroke="#000" stroke-width="0.5">80</text>
<text transform="translate(563.40,343.10) scale(0.62,1)" font-family="Liberation Sans" font-size="17" text-anchor="end" fill="#000" stroke="#000" stroke-width="0.5">100</text>
<text x="592.80" y="576.00" font-family="Liberation Serif" font-size="16.4" font-weight="bold" fill="#000" stroke="#000" stroke-width="0.3" textLength="25.8" lengthAdjust="spacingAndGlyphs">blank</text>
<text x="653.60" y="576.00" font-family="Liberation Serif" font-size="16.4" font-weight="bold" fill="#000" stroke="#000" stroke-width="0.3" textLength="51.0" lengthAdjust="spacingAndGlyphs">IL-6 group</text>
<text x="715.90" y="576.00" font-family="Liberation Serif" font-size="16.4" font-weight="bold" fill="#000" stroke="#000" stroke-width="0.3" textLength="72.4" lengthAdjust="spacingAndGlyphs">IL-6+toc group</text>
<ellipse cx="588.0" cy="370.0" rx="3" ry="4.4" fill="#000"/>
<ellipse cx="596.6" cy="375.8" rx="3" ry="4.4" fill="#000"/>
<ellipse cx="605.4" cy="379.1" rx="3" ry="4.4" fill="#000"/>
<ellipse cx="614.6" cy="373.3" rx="3" ry="4.4" fill="#000"/>
<ellipse cx="623.3" cy="369.2" rx="3" ry="4.4" fill="#000"/>
<ellipse cx="601.6" cy="414.1" rx="3" ry="4.4" fill="#000"/>
<ellipse cx="606.1" cy="413.2" rx="3" ry="4.4" fill="#000"/>
<ellipse cx="610.3" cy="427.9" rx="3" ry="4.4" fill="#000"/>
<ellipse cx="605.8" cy="462.5" rx="3" ry="4.4" fill="#000"/>
<ellipse cx="601.3" cy="473.3" rx="3" ry="4.4" fill="#000"/>
<ellipse cx="610.3" cy="480.8" rx="3" ry="4.4" fill="#000"/>
<ellipse cx="605.8" cy="501.9" rx="3" ry="4.4" fill="#000"/>
<path d="M605.8 370.8 V468.6 M581.5 419.4 H630.0999999999999 M593.5999999999999 370.8 H618.0 M593.5999999999999 468.6 H618.0" stroke="#000" stroke-width="2.4" fill="none"/>
<rect x="676.7" y="393.1" width="5.6" height="8.8" fill="#000"/>
<rect x="676.7" y="412.6" width="5.6" height="8.8" fill="#000"/>
<rect x="672.5" y="423.4" width="5.6" height="8.8" fill="#000"/>
<rect x="685.5" y="430.2" width="5.6" height="8.8" fill="#000"/>
<rect x="681.3" y="440.8" width="5.6" height="8.8" fill="#000"/>
<rect x="672.2" y="443.5" width="5.6" height="8.8" fill="#000"/>
<rect x="676.7" y="459.6" width="5.6" height="8.8" fill="#000"/>
<rect x="676.7" y="485.6" width="5.6" height="8.8" fill="#000"/>
<rect x="672.2" y="494.2" width="5.6" height="8.8" fill="#000"/>
<rect x="681.3" y="499.2" width="5.6" height="8.8" fill="#000"/>
<rect x="672.2" y="540.8" width="5.6" height="8.8" fill="#000"/>
<rect x="681.3" y="540.1" width="5.6" height="8.8" fill="#000"/>
<path d="M679.3 420 V516.6 M655.0 467.9 H703.5999999999999 M667.0999999999999 420 H691.5 M667.0999999999999 516.6 H691.5" stroke="#000" stroke-width="2.4" fill="none"/>
<path d="M752.9 369.5L756.0 378.5L749.8 378.5Z" fill="#000"/>
<path d="M757.3 391.4L760.4 400.4L754.2 400.4Z" fill="#000"/>
<path d="M748.5 400.4L751.6 409.4L745.4 409.4Z" fill="#000"/>
<path d="M743.5 421.9L746.6 430.9L740.4 430.9Z" fill="#000"/>
<path d="M761.5 420.3L764.6 429.3L758.4 429.3Z" fill="#000"/>
<path d="M752.9 425.3L756.0 434.3L749.8 434.3Z" fill="#000"/>
<path d="M757.3 463.3L760.4 472.3L754.2 472.3Z" fill="#000"/>
<path d="M743.9 471.0L747.0 480.0L740.8 480.0Z" fill="#000"/>
<path d="M748.5 472.8L751.6 481.8L745.4 481.8Z" fill="#000"/>
<path d="M757.3 485.4L760.4 494.4L754.2 494.4Z" fill="#000"/>
<path d="M752.9 499.3L756.0 508.3L749.8 508.3Z" fill="#000"/>
<path d="M752.6 399.3 V484.3 M728.3000000000001 441.5 H776.9 M740.4 399.3 H764.8000000000001 M740.4 484.3 H764.8000000000001" stroke="#000" stroke-width="2.4" fill="none"/>
<path d="M606.4000000000001 346.2 V339.9 H678.1999999999999 V346.2" stroke="#000" stroke-width="2.6" fill="none"/>
<polygon points="642.60,332.33 643.22,334.46 645.07,334.52 643.60,335.90 644.13,338.07 642.60,336.78 641.07,338.07 641.60,335.90 640.13,334.52 641.98,334.46" fill="#111"/>
<text transform="translate(538.6,445.6) rotate(-90)" font-family="Liberation Serif" font-weight="bold" font-size="15.5" text-anchor="middle" fill="#000" textLength="188" lengthAdjust="spacingAndGlyphs">CD5<tspan font-size="11" dy="-6.5">-</tspan><tspan dy="6.5">IL-10</tspan><tspan font-size="11" dy="-6.5">+</tspan><tspan dy="6.5">/CD5</tspan><tspan font-size="11" dy="-6.5">-</tspan><tspan dy="6.5">(%)</tspan></text>
</svg>
</body></html>
